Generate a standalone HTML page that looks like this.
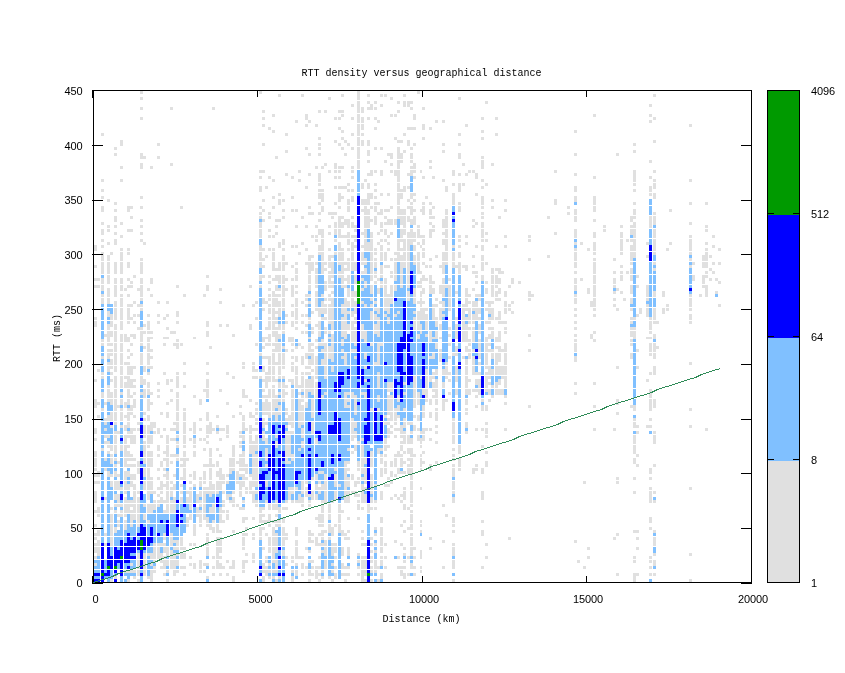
<!DOCTYPE html>
<html><head><meta charset="utf-8"><title>RTT density versus geographical distance</title>
<style>
html,body{margin:0;padding:0;background:#fff;}
svg{display:block}
text{font-family:"Liberation Mono","DejaVu Sans Mono",monospace;font-size:10px;fill:#000}
.n text{font-family:"Liberation Sans","DejaVu Sans",sans-serif;font-size:11px;letter-spacing:-0.12px}
</style></head><body>
<svg width="845" height="673" viewBox="0 0 845 673">
<rect width="845" height="673" fill="#fff"/>
<g shape-rendering="crispEdges">
<path fill="#e0e0e0" d="M94 563h3v3h-3zM94 556h3v3h-3zM94 550h3v3h-3zM94 547h3v3h-3zM94 543h3v3h-3zM94 537h3v3h-3zM94 533h3v3h-3zM94 524h3v3h-3zM94 510h3v3h-3zM94 500h3v3h-3zM94 497h3v3h-3zM94 494h3v3h-3zM94 491h3v3h-3zM94 481h3v3h-3zM94 474h3v3h-3zM94 468h3v3h-3zM94 464h3v3h-3zM94 461h3v3h-3zM94 458h3v3h-3zM94 454h3v3h-3zM94 451h3v3h-3zM94 438h3v3h-3zM94 431h3v3h-3zM94 428h3v3h-3zM94 405h3v3h-3zM94 402h3v3h-3zM94 399h3v3h-3zM94 379h3v3h-3zM94 324h3v3h-3zM94 321h3v3h-3zM94 317h3v3h-3zM94 285h3v3h-3zM94 278h3v3h-3zM94 265h3v3h-3zM94 248h3v3h-3zM94 245h3v3h-3zM97 553h3v3h-3zM97 550h3v3h-3zM97 547h3v3h-3zM97 543h3v3h-3zM97 540h3v3h-3zM97 533h3v3h-3zM97 530h3v3h-3zM97 514h3v3h-3zM97 510h3v3h-3zM97 507h3v3h-3zM97 481h3v3h-3zM97 474h3v3h-3zM97 471h3v3h-3zM97 415h3v3h-3zM97 402h3v3h-3zM97 369h3v3h-3zM97 285h3v3h-3zM97 278h3v3h-3zM101 448h3v3h-3zM101 408h3v3h-3zM101 395h3v3h-3zM101 392h3v3h-3zM101 376h3v3h-3zM101 372h3v3h-3zM101 356h3v3h-3zM101 343h3v3h-3zM101 339h3v3h-3zM101 301h3v3h-3zM101 298h3v3h-3zM101 294h3v3h-3zM101 288h3v3h-3zM101 285h3v3h-3zM101 281h3v3h-3zM101 278h3v3h-3zM101 271h3v3h-3zM101 268h3v3h-3zM101 265h3v3h-3zM101 262h3v3h-3zM101 258h3v3h-3zM101 255h3v3h-3zM101 252h3v3h-3zM101 245h3v3h-3zM101 239h3v3h-3zM101 232h3v3h-3zM101 229h3v3h-3zM101 222h3v3h-3zM101 209h3v3h-3zM101 206h3v3h-3zM101 196h3v3h-3zM101 189h3v3h-3zM101 179h3v3h-3zM101 133h3v3h-3zM104 543h3v3h-3zM104 533h3v3h-3zM104 497h3v3h-3zM104 468h3v3h-3zM104 458h3v3h-3zM104 441h3v3h-3zM104 435h3v3h-3zM104 428h3v3h-3zM104 422h3v3h-3zM104 418h3v3h-3zM104 402h3v3h-3zM104 334h3v3h-3zM107 474h3v3h-3zM107 471h3v3h-3zM107 451h3v3h-3zM107 445h3v3h-3zM107 441h3v3h-3zM107 435h3v3h-3zM107 418h3v3h-3zM107 415h3v3h-3zM107 399h3v3h-3zM107 395h3v3h-3zM107 392h3v3h-3zM107 389h3v3h-3zM107 385h3v3h-3zM107 369h3v3h-3zM107 366h3v3h-3zM107 362h3v3h-3zM107 356h3v3h-3zM107 353h3v3h-3zM107 349h3v3h-3zM107 343h3v3h-3zM107 339h3v3h-3zM107 337h3v2h-3zM107 334h3v3h-3zM107 331h3v3h-3zM107 327h3v3h-3zM107 324h3v3h-3zM107 314h3v3h-3zM107 311h3v3h-3zM107 301h3v3h-3zM107 298h3v3h-3zM107 294h3v3h-3zM107 291h3v3h-3zM107 288h3v3h-3zM107 281h3v3h-3zM107 278h3v3h-3zM107 275h3v3h-3zM107 271h3v3h-3zM107 268h3v3h-3zM107 265h3v3h-3zM107 262h3v3h-3zM107 258h3v3h-3zM107 255h3v3h-3zM107 242h3v3h-3zM107 229h3v3h-3zM107 225h3v3h-3zM107 199h3v3h-3zM110 579h3v3h-3zM110 543h3v3h-3zM110 540h3v3h-3zM110 537h3v3h-3zM110 533h3v3h-3zM110 530h3v3h-3zM110 527h3v3h-3zM110 524h3v3h-3zM110 520h3v3h-3zM110 517h3v3h-3zM110 514h3v3h-3zM110 507h3v3h-3zM110 484h3v3h-3zM110 481h3v3h-3zM110 474h3v3h-3zM110 461h3v3h-3zM110 458h3v3h-3zM110 454h3v3h-3zM110 448h3v3h-3zM110 445h3v3h-3zM110 425h3v3h-3zM110 418h3v3h-3zM110 415h3v3h-3zM110 412h3v3h-3zM110 402h3v3h-3zM110 399h3v3h-3zM110 395h3v3h-3zM110 392h3v3h-3zM110 379h3v3h-3zM110 372h3v3h-3zM110 366h3v3h-3zM110 362h3v3h-3zM110 359h3v3h-3zM110 353h3v3h-3zM110 349h3v3h-3zM110 343h3v3h-3zM110 334h3v3h-3zM110 331h3v3h-3zM110 324h3v3h-3zM110 321h3v3h-3zM110 317h3v3h-3zM110 314h3v3h-3zM110 252h3v3h-3zM114 576h3v3h-3zM114 530h3v3h-3zM114 527h3v3h-3zM114 510h3v3h-3zM114 504h3v3h-3zM114 497h3v3h-3zM114 494h3v3h-3zM114 487h3v3h-3zM114 484h3v3h-3zM114 481h3v3h-3zM114 474h3v3h-3zM114 471h3v3h-3zM114 464h3v3h-3zM114 458h3v3h-3zM114 451h3v3h-3zM114 448h3v3h-3zM114 445h3v3h-3zM114 441h3v3h-3zM114 438h3v3h-3zM114 435h3v3h-3zM114 431h3v3h-3zM114 422h3v3h-3zM114 418h3v3h-3zM114 415h3v3h-3zM114 412h3v3h-3zM114 408h3v3h-3zM114 405h3v3h-3zM114 402h3v3h-3zM114 399h3v3h-3zM114 395h3v3h-3zM114 392h3v3h-3zM114 389h3v3h-3zM114 385h3v3h-3zM114 382h3v3h-3zM114 379h3v3h-3zM114 376h3v3h-3zM114 369h3v3h-3zM114 366h3v3h-3zM114 362h3v3h-3zM114 359h3v3h-3zM114 356h3v3h-3zM114 353h3v3h-3zM114 349h3v3h-3zM114 346h3v3h-3zM114 343h3v3h-3zM114 339h3v3h-3zM114 337h3v2h-3zM114 334h3v3h-3zM114 331h3v3h-3zM114 327h3v3h-3zM114 324h3v3h-3zM114 317h3v3h-3zM114 314h3v3h-3zM114 311h3v3h-3zM114 308h3v3h-3zM114 304h3v3h-3zM114 301h3v3h-3zM114 294h3v3h-3zM114 291h3v3h-3zM114 288h3v3h-3zM114 285h3v3h-3zM114 281h3v3h-3zM114 278h3v3h-3zM114 271h3v3h-3zM114 268h3v3h-3zM114 265h3v3h-3zM114 262h3v3h-3zM114 242h3v3h-3zM114 239h3v3h-3zM114 232h3v3h-3zM114 225h3v3h-3zM114 219h3v3h-3zM114 216h3v3h-3zM114 209h3v3h-3zM114 202h3v3h-3zM114 153h3v3h-3zM114 147h3v3h-3zM117 524h3v3h-3zM117 520h3v3h-3zM117 514h3v3h-3zM117 504h3v3h-3zM117 500h3v3h-3zM117 497h3v3h-3zM117 494h3v3h-3zM117 487h3v3h-3zM117 484h3v3h-3zM117 481h3v3h-3zM117 474h3v3h-3zM117 461h3v3h-3zM117 431h3v3h-3zM117 405h3v3h-3zM120 514h3v3h-3zM120 510h3v3h-3zM120 504h3v3h-3zM120 487h3v3h-3zM120 448h3v3h-3zM120 445h3v3h-3zM120 425h3v3h-3zM120 418h3v3h-3zM120 415h3v3h-3zM120 412h3v3h-3zM120 408h3v3h-3zM120 402h3v3h-3zM120 399h3v3h-3zM120 392h3v3h-3zM120 385h3v3h-3zM120 382h3v3h-3zM120 379h3v3h-3zM120 376h3v3h-3zM120 372h3v3h-3zM120 369h3v3h-3zM120 366h3v3h-3zM120 362h3v3h-3zM120 359h3v3h-3zM120 356h3v3h-3zM120 353h3v3h-3zM120 349h3v3h-3zM120 346h3v3h-3zM120 343h3v3h-3zM120 339h3v3h-3zM120 337h3v2h-3zM120 334h3v3h-3zM120 327h3v3h-3zM120 324h3v3h-3zM120 321h3v3h-3zM120 317h3v3h-3zM120 314h3v3h-3zM120 311h3v3h-3zM120 308h3v3h-3zM120 304h3v3h-3zM120 301h3v3h-3zM120 298h3v3h-3zM120 294h3v3h-3zM120 288h3v3h-3zM120 285h3v3h-3zM120 281h3v3h-3zM120 278h3v3h-3zM120 271h3v3h-3zM120 268h3v3h-3zM120 265h3v3h-3zM120 262h3v3h-3zM120 258h3v3h-3zM120 255h3v3h-3zM120 252h3v3h-3zM120 248h3v3h-3zM120 235h3v3h-3zM120 222h3v3h-3zM120 179h3v3h-3zM120 166h3v3h-3zM120 143h3v3h-3zM120 140h3v3h-3zM124 570h3v3h-3zM124 527h3v3h-3zM124 524h3v3h-3zM124 520h3v3h-3zM124 514h3v3h-3zM124 510h3v3h-3zM124 507h3v3h-3zM124 504h3v3h-3zM124 500h3v3h-3zM124 497h3v3h-3zM124 491h3v3h-3zM124 487h3v3h-3zM124 484h3v3h-3zM124 481h3v3h-3zM124 477h3v3h-3zM124 474h3v3h-3zM124 471h3v3h-3zM124 464h3v3h-3zM124 461h3v3h-3zM124 458h3v3h-3zM124 454h3v3h-3zM124 451h3v3h-3zM124 448h3v3h-3zM124 445h3v3h-3zM124 441h3v3h-3zM124 438h3v3h-3zM124 435h3v3h-3zM124 428h3v3h-3zM124 425h3v3h-3zM124 415h3v3h-3zM124 405h3v3h-3zM124 402h3v3h-3zM124 385h3v3h-3zM124 382h3v3h-3zM124 376h3v3h-3zM124 362h3v3h-3zM124 339h3v3h-3zM124 337h3v2h-3zM124 334h3v3h-3zM124 288h3v3h-3zM127 579h3v3h-3zM127 570h3v3h-3zM127 510h3v3h-3zM127 507h3v3h-3zM127 504h3v3h-3zM127 500h3v3h-3zM127 487h3v3h-3zM127 484h3v3h-3zM127 474h3v3h-3zM127 471h3v3h-3zM127 464h3v3h-3zM127 458h3v3h-3zM127 454h3v3h-3zM127 451h3v3h-3zM127 445h3v3h-3zM127 435h3v3h-3zM127 431h3v3h-3zM127 425h3v3h-3zM127 422h3v3h-3zM127 418h3v3h-3zM127 415h3v3h-3zM127 412h3v3h-3zM127 408h3v3h-3zM127 402h3v3h-3zM127 399h3v3h-3zM127 395h3v3h-3zM127 392h3v3h-3zM127 389h3v3h-3zM127 385h3v3h-3zM127 382h3v3h-3zM127 379h3v3h-3zM127 376h3v3h-3zM127 372h3v3h-3zM127 369h3v3h-3zM127 366h3v3h-3zM127 362h3v3h-3zM127 356h3v3h-3zM127 349h3v3h-3zM127 339h3v3h-3zM127 337h3v2h-3zM127 321h3v3h-3zM127 317h3v3h-3zM127 314h3v3h-3zM127 311h3v3h-3zM127 308h3v3h-3zM127 304h3v3h-3zM127 294h3v3h-3zM127 285h3v3h-3zM127 278h3v3h-3zM127 265h3v3h-3zM127 262h3v3h-3zM127 252h3v3h-3zM127 248h3v3h-3zM127 229h3v3h-3zM127 209h3v3h-3zM127 206h3v3h-3zM130 570h3v3h-3zM130 563h3v3h-3zM130 524h3v3h-3zM130 520h3v3h-3zM130 517h3v3h-3zM130 514h3v3h-3zM130 510h3v3h-3zM130 504h3v3h-3zM130 500h3v3h-3zM130 484h3v3h-3zM130 481h3v3h-3zM130 477h3v3h-3zM130 474h3v3h-3zM130 464h3v3h-3zM130 458h3v3h-3zM130 454h3v3h-3zM130 441h3v3h-3zM130 438h3v3h-3zM130 435h3v3h-3zM130 431h3v3h-3zM130 428h3v3h-3zM130 412h3v3h-3zM130 408h3v3h-3zM130 405h3v3h-3zM130 395h3v3h-3zM130 385h3v3h-3zM130 382h3v3h-3zM130 379h3v3h-3zM130 372h3v3h-3zM130 369h3v3h-3zM130 366h3v3h-3zM130 353h3v3h-3zM130 343h3v3h-3zM130 334h3v3h-3zM130 317h3v3h-3zM130 304h3v3h-3zM130 285h3v3h-3zM130 281h3v3h-3zM130 229h3v3h-3zM130 216h3v3h-3zM130 206h3v3h-3zM133 576h3v3h-3zM133 570h3v3h-3zM133 517h3v3h-3zM133 514h3v3h-3zM133 510h3v3h-3zM133 507h3v3h-3zM133 504h3v3h-3zM133 500h3v3h-3zM133 497h3v3h-3zM133 494h3v3h-3zM133 491h3v3h-3zM133 487h3v3h-3zM133 484h3v3h-3zM133 477h3v3h-3zM133 474h3v3h-3zM133 464h3v3h-3zM133 458h3v3h-3zM133 441h3v3h-3zM133 438h3v3h-3zM133 435h3v3h-3zM133 428h3v3h-3zM133 415h3v3h-3zM133 405h3v3h-3zM133 402h3v3h-3zM133 399h3v3h-3zM133 392h3v3h-3zM133 385h3v3h-3zM133 379h3v3h-3zM133 366h3v3h-3zM133 337h3v2h-3zM133 334h3v3h-3zM133 321h3v3h-3zM133 314h3v3h-3zM133 301h3v3h-3zM133 275h3v3h-3zM137 579h3v3h-3zM137 573h3v3h-3zM137 570h3v3h-3zM137 566h3v3h-3zM137 563h3v3h-3zM137 560h3v3h-3zM137 556h3v3h-3zM137 553h3v3h-3zM137 524h3v3h-3zM137 520h3v3h-3zM137 517h3v3h-3zM137 514h3v3h-3zM137 510h3v3h-3zM137 507h3v3h-3zM137 504h3v3h-3zM137 500h3v3h-3zM137 497h3v3h-3zM137 491h3v3h-3zM137 471h3v3h-3zM137 468h3v3h-3zM137 464h3v3h-3zM137 461h3v3h-3zM137 428h3v3h-3zM137 422h3v3h-3zM137 327h3v3h-3zM137 314h3v3h-3zM137 304h3v3h-3zM137 288h3v3h-3zM140 392h3v3h-3zM140 382h3v3h-3zM140 379h3v3h-3zM140 376h3v3h-3zM140 362h3v3h-3zM140 359h3v3h-3zM140 356h3v3h-3zM140 353h3v3h-3zM140 343h3v3h-3zM140 339h3v3h-3zM140 337h3v2h-3zM140 334h3v3h-3zM140 331h3v3h-3zM140 327h3v3h-3zM140 308h3v3h-3zM140 304h3v3h-3zM140 298h3v3h-3zM140 294h3v3h-3zM140 291h3v3h-3zM140 288h3v3h-3zM140 285h3v3h-3zM140 281h3v3h-3zM140 278h3v3h-3zM140 271h3v3h-3zM140 268h3v3h-3zM140 265h3v3h-3zM140 262h3v3h-3zM140 258h3v3h-3zM140 239h3v3h-3zM140 232h3v3h-3zM140 225h3v3h-3zM140 219h3v3h-3zM140 206h3v3h-3zM140 196h3v3h-3zM140 166h3v3h-3zM140 163h3v3h-3zM140 156h3v3h-3zM140 153h3v3h-3zM140 117h3v3h-3zM140 107h3v3h-3zM140 97h3v3h-3zM140 91h3v3h-3zM143 573h3v3h-3zM143 570h3v3h-3zM143 566h3v3h-3zM143 563h3v3h-3zM143 560h3v3h-3zM143 556h3v3h-3zM143 553h3v3h-3zM143 517h3v3h-3zM143 514h3v3h-3zM143 504h3v3h-3zM143 487h3v3h-3zM143 484h3v3h-3zM143 481h3v3h-3zM143 474h3v3h-3zM143 471h3v3h-3zM143 468h3v3h-3zM143 461h3v3h-3zM143 458h3v3h-3zM143 454h3v3h-3zM143 451h3v3h-3zM143 448h3v3h-3zM143 445h3v3h-3zM143 441h3v3h-3zM143 435h3v3h-3zM143 431h3v3h-3zM143 428h3v3h-3zM143 425h3v3h-3zM143 418h3v3h-3zM143 412h3v3h-3zM143 395h3v3h-3zM143 392h3v3h-3zM143 389h3v3h-3zM143 382h3v3h-3zM143 379h3v3h-3zM143 369h3v3h-3zM143 366h3v3h-3zM143 346h3v3h-3zM143 331h3v3h-3zM143 324h3v3h-3zM143 242h3v3h-3zM143 156h3v3h-3zM147 576h3v3h-3zM147 553h3v3h-3zM147 520h3v3h-3zM147 510h3v3h-3zM147 507h3v3h-3zM147 504h3v3h-3zM147 497h3v3h-3zM147 494h3v3h-3zM147 491h3v3h-3zM147 487h3v3h-3zM147 484h3v3h-3zM147 481h3v3h-3zM147 477h3v3h-3zM147 474h3v3h-3zM147 471h3v3h-3zM147 468h3v3h-3zM147 464h3v3h-3zM147 461h3v3h-3zM147 458h3v3h-3zM147 454h3v3h-3zM147 451h3v3h-3zM147 445h3v3h-3zM147 441h3v3h-3zM147 438h3v3h-3zM147 435h3v3h-3zM147 431h3v3h-3zM147 428h3v3h-3zM147 425h3v3h-3zM147 418h3v3h-3zM147 415h3v3h-3zM147 408h3v3h-3zM147 405h3v3h-3zM147 402h3v3h-3zM147 399h3v3h-3zM147 392h3v3h-3zM147 389h3v3h-3zM147 385h3v3h-3zM147 382h3v3h-3zM147 372h3v3h-3zM147 366h3v3h-3zM147 362h3v3h-3zM147 359h3v3h-3zM147 356h3v3h-3zM147 353h3v3h-3zM147 349h3v3h-3zM147 346h3v3h-3zM147 343h3v3h-3zM147 339h3v3h-3zM147 337h3v2h-3zM147 331h3v3h-3zM147 327h3v3h-3zM147 324h3v3h-3zM147 321h3v3h-3zM147 314h3v3h-3zM147 288h3v3h-3zM150 579h3v3h-3zM150 576h3v3h-3zM150 573h3v3h-3zM150 570h3v3h-3zM150 563h3v3h-3zM150 556h3v3h-3zM150 553h3v3h-3zM150 510h3v3h-3zM150 507h3v3h-3zM150 504h3v3h-3zM150 491h3v3h-3zM150 487h3v3h-3zM150 484h3v3h-3zM150 481h3v3h-3zM150 477h3v3h-3zM150 464h3v3h-3zM150 461h3v3h-3zM150 458h3v3h-3zM150 454h3v3h-3zM150 451h3v3h-3zM150 441h3v3h-3zM150 438h3v3h-3zM150 435h3v3h-3zM150 428h3v3h-3zM150 425h3v3h-3zM150 422h3v3h-3zM150 402h3v3h-3zM150 392h3v3h-3zM150 366h3v3h-3zM150 356h3v3h-3zM150 349h3v3h-3zM150 337h3v2h-3zM150 331h3v3h-3zM150 294h3v3h-3zM150 281h3v3h-3zM150 278h3v3h-3zM150 166h3v3h-3zM153 570h3v3h-3zM153 566h3v3h-3zM153 560h3v3h-3zM153 556h3v3h-3zM153 553h3v3h-3zM153 550h3v3h-3zM153 547h3v3h-3zM153 543h3v3h-3zM153 507h3v3h-3zM153 504h3v3h-3zM153 500h3v3h-3zM153 491h3v3h-3zM153 431h3v3h-3zM153 425h3v3h-3zM153 422h3v3h-3zM157 556h3v3h-3zM157 553h3v3h-3zM157 550h3v3h-3zM157 547h3v3h-3zM157 543h3v3h-3zM157 504h3v3h-3zM157 500h3v3h-3zM157 494h3v3h-3zM157 487h3v3h-3zM157 477h3v3h-3zM157 468h3v3h-3zM157 454h3v3h-3zM157 448h3v3h-3zM157 445h3v3h-3zM157 431h3v3h-3zM157 428h3v3h-3zM157 395h3v3h-3zM157 389h3v3h-3zM157 382h3v3h-3zM157 321h3v3h-3zM157 314h3v3h-3zM157 301h3v3h-3zM157 156h3v3h-3zM157 143h3v3h-3zM160 566h3v3h-3zM160 560h3v3h-3zM160 556h3v3h-3zM160 553h3v3h-3zM160 543h3v3h-3zM160 500h3v3h-3zM160 497h3v3h-3zM160 491h3v3h-3zM160 487h3v3h-3zM160 484h3v3h-3zM160 481h3v3h-3zM160 464h3v3h-3zM160 461h3v3h-3zM160 435h3v3h-3zM160 412h3v3h-3zM163 573h3v3h-3zM163 566h3v3h-3zM163 563h3v3h-3zM163 560h3v3h-3zM163 556h3v3h-3zM163 550h3v3h-3zM163 547h3v3h-3zM163 543h3v3h-3zM163 537h3v3h-3zM163 533h3v3h-3zM163 510h3v3h-3zM163 500h3v3h-3zM163 484h3v3h-3zM163 474h3v3h-3zM163 468h3v3h-3zM163 458h3v3h-3zM163 451h3v3h-3zM163 428h3v3h-3zM163 372h3v3h-3zM163 343h3v3h-3zM163 337h3v2h-3zM163 317h3v3h-3zM166 579h3v3h-3zM166 570h3v3h-3zM166 563h3v3h-3zM166 560h3v3h-3zM166 553h3v3h-3zM166 550h3v3h-3zM166 547h3v3h-3zM166 510h3v3h-3zM166 507h3v3h-3zM166 504h3v3h-3zM166 500h3v3h-3zM166 497h3v3h-3zM166 494h3v3h-3zM166 491h3v3h-3zM166 487h3v3h-3zM166 484h3v3h-3zM166 481h3v3h-3zM166 477h3v3h-3zM166 474h3v3h-3zM166 471h3v3h-3zM166 464h3v3h-3zM166 461h3v3h-3zM166 458h3v3h-3zM166 454h3v3h-3zM166 451h3v3h-3zM166 448h3v3h-3zM166 445h3v3h-3zM166 441h3v3h-3zM166 438h3v3h-3zM166 435h3v3h-3zM166 415h3v3h-3zM166 412h3v3h-3zM166 402h3v3h-3zM166 382h3v3h-3zM166 379h3v3h-3zM166 337h3v2h-3zM166 327h3v3h-3zM166 314h3v3h-3zM166 301h3v3h-3zM170 566h3v3h-3zM170 563h3v3h-3zM170 560h3v3h-3zM170 556h3v3h-3zM170 553h3v3h-3zM170 550h3v3h-3zM170 543h3v3h-3zM170 540h3v3h-3zM170 537h3v3h-3zM170 533h3v3h-3zM170 510h3v3h-3zM170 507h3v3h-3zM170 504h3v3h-3zM170 500h3v3h-3zM170 494h3v3h-3zM170 491h3v3h-3zM170 487h3v3h-3zM170 481h3v3h-3zM170 461h3v3h-3zM170 454h3v3h-3zM170 438h3v3h-3zM170 428h3v3h-3zM170 399h3v3h-3zM170 389h3v3h-3zM170 379h3v3h-3zM170 331h3v3h-3zM170 163h3v3h-3zM170 107h3v3h-3zM173 573h3v3h-3zM173 570h3v3h-3zM173 566h3v3h-3zM173 563h3v3h-3zM173 560h3v3h-3zM173 556h3v3h-3zM173 553h3v3h-3zM173 547h3v3h-3zM173 540h3v3h-3zM173 510h3v3h-3zM173 507h3v3h-3zM173 504h3v3h-3zM173 500h3v3h-3zM173 497h3v3h-3zM173 487h3v3h-3zM173 484h3v3h-3zM173 474h3v3h-3zM173 454h3v3h-3zM173 438h3v3h-3zM173 428h3v3h-3zM173 422h3v3h-3zM173 343h3v3h-3zM173 331h3v3h-3zM176 570h3v3h-3zM176 563h3v3h-3zM176 560h3v3h-3zM176 553h3v3h-3zM176 547h3v3h-3zM176 543h3v3h-3zM176 540h3v3h-3zM176 458h3v3h-3zM176 454h3v3h-3zM176 445h3v3h-3zM176 441h3v3h-3zM176 435h3v3h-3zM176 428h3v3h-3zM176 425h3v3h-3zM176 422h3v3h-3zM176 418h3v3h-3zM176 415h3v3h-3zM176 412h3v3h-3zM176 408h3v3h-3zM176 405h3v3h-3zM176 402h3v3h-3zM176 399h3v3h-3zM176 395h3v3h-3zM176 392h3v3h-3zM176 385h3v3h-3zM176 382h3v3h-3zM176 379h3v3h-3zM176 376h3v3h-3zM176 372h3v3h-3zM176 346h3v3h-3zM176 343h3v3h-3zM176 339h3v3h-3zM176 321h3v3h-3zM176 314h3v3h-3zM176 311h3v3h-3zM176 285h3v3h-3zM180 566h3v3h-3zM180 556h3v3h-3zM180 553h3v3h-3zM180 547h3v3h-3zM180 543h3v3h-3zM180 540h3v3h-3zM180 537h3v3h-3zM180 500h3v3h-3zM180 497h3v3h-3zM180 491h3v3h-3zM180 484h3v3h-3zM180 477h3v3h-3zM180 464h3v3h-3zM180 458h3v3h-3zM180 343h3v3h-3zM180 206h3v3h-3zM183 573h3v3h-3zM183 566h3v3h-3zM183 556h3v3h-3zM183 553h3v3h-3zM183 547h3v3h-3zM183 477h3v3h-3zM183 474h3v3h-3zM183 471h3v3h-3zM183 468h3v3h-3zM183 464h3v3h-3zM183 461h3v3h-3zM183 458h3v3h-3zM183 454h3v3h-3zM183 451h3v3h-3zM183 445h3v3h-3zM183 441h3v3h-3zM183 438h3v3h-3zM183 435h3v3h-3zM183 431h3v3h-3zM183 428h3v3h-3zM183 425h3v3h-3zM183 422h3v3h-3zM183 418h3v3h-3zM183 415h3v3h-3zM183 412h3v3h-3zM183 408h3v3h-3zM183 385h3v3h-3zM183 372h3v3h-3zM183 362h3v3h-3zM183 294h3v3h-3zM186 524h3v3h-3zM186 520h3v3h-3zM186 517h3v3h-3zM186 500h3v3h-3zM186 497h3v3h-3zM186 491h3v3h-3zM186 458h3v3h-3zM189 563h3v3h-3zM189 556h3v3h-3zM189 543h3v3h-3zM189 517h3v3h-3zM189 514h3v3h-3zM189 507h3v3h-3zM189 504h3v3h-3zM189 500h3v3h-3zM189 497h3v3h-3zM189 494h3v3h-3zM189 491h3v3h-3zM189 487h3v3h-3zM189 481h3v3h-3zM189 474h3v3h-3zM189 438h3v3h-3zM189 428h3v3h-3zM193 566h3v3h-3zM193 563h3v3h-3zM193 543h3v3h-3zM193 533h3v3h-3zM193 530h3v3h-3zM193 527h3v3h-3zM193 524h3v3h-3zM193 484h3v3h-3zM193 477h3v3h-3zM193 474h3v3h-3zM193 471h3v3h-3zM193 454h3v3h-3zM193 451h3v3h-3zM193 445h3v3h-3zM193 441h3v3h-3zM193 438h3v3h-3zM193 431h3v3h-3zM193 428h3v3h-3zM193 425h3v3h-3zM193 422h3v3h-3zM193 395h3v3h-3zM193 337h3v2h-3zM196 514h3v3h-3zM196 510h3v3h-3zM196 507h3v3h-3zM196 500h3v3h-3zM196 497h3v3h-3zM196 494h3v3h-3zM199 570h3v3h-3zM199 566h3v3h-3zM199 563h3v3h-3zM199 560h3v3h-3zM199 524h3v3h-3zM199 520h3v3h-3zM199 517h3v3h-3zM199 514h3v3h-3zM199 510h3v3h-3zM199 504h3v3h-3zM199 500h3v3h-3zM199 494h3v3h-3zM199 491h3v3h-3zM199 484h3v3h-3zM199 481h3v3h-3zM199 477h3v3h-3zM199 438h3v3h-3zM199 428h3v3h-3zM199 418h3v3h-3zM199 402h3v3h-3zM199 399h3v3h-3zM203 570h3v3h-3zM203 563h3v3h-3zM203 517h3v3h-3zM203 514h3v3h-3zM203 510h3v3h-3zM203 507h3v3h-3zM203 504h3v3h-3zM203 500h3v3h-3zM203 497h3v3h-3zM203 494h3v3h-3zM203 491h3v3h-3zM203 487h3v3h-3zM203 481h3v3h-3zM203 477h3v3h-3zM203 474h3v3h-3zM203 471h3v3h-3zM203 464h3v3h-3zM203 448h3v3h-3zM203 438h3v3h-3zM203 389h3v3h-3zM203 294h3v3h-3zM206 576h3v3h-3zM206 563h3v3h-3zM206 553h3v3h-3zM206 550h3v3h-3zM206 547h3v3h-3zM206 543h3v3h-3zM206 540h3v3h-3zM206 537h3v3h-3zM206 533h3v3h-3zM206 524h3v3h-3zM206 520h3v3h-3zM206 517h3v3h-3zM206 491h3v3h-3zM206 487h3v3h-3zM206 464h3v3h-3zM206 441h3v3h-3zM206 435h3v3h-3zM206 431h3v3h-3zM206 428h3v3h-3zM206 425h3v3h-3zM206 418h3v3h-3zM206 415h3v3h-3zM206 412h3v3h-3zM206 395h3v3h-3zM206 392h3v3h-3zM206 389h3v3h-3zM206 385h3v3h-3zM206 382h3v3h-3zM206 379h3v3h-3zM206 372h3v3h-3zM206 362h3v3h-3zM206 334h3v3h-3zM206 331h3v3h-3zM206 324h3v3h-3zM206 321h3v3h-3zM206 288h3v3h-3zM206 285h3v3h-3zM206 275h3v3h-3zM209 527h3v3h-3zM209 524h3v3h-3zM209 510h3v3h-3zM209 507h3v3h-3zM209 494h3v3h-3zM209 491h3v3h-3zM209 487h3v3h-3zM209 484h3v3h-3zM209 481h3v3h-3zM209 477h3v3h-3zM209 474h3v3h-3zM209 471h3v3h-3zM209 468h3v3h-3zM209 464h3v3h-3zM209 461h3v3h-3zM209 458h3v3h-3zM209 454h3v3h-3zM209 451h3v3h-3zM209 448h3v3h-3zM209 431h3v3h-3zM209 428h3v3h-3zM209 425h3v3h-3zM209 422h3v3h-3zM209 346h3v3h-3zM212 573h3v3h-3zM212 566h3v3h-3zM212 556h3v3h-3zM212 530h3v3h-3zM212 527h3v3h-3zM212 520h3v3h-3zM212 510h3v3h-3zM212 507h3v3h-3zM212 504h3v3h-3zM212 491h3v3h-3zM212 487h3v3h-3zM212 484h3v3h-3zM212 464h3v3h-3zM212 428h3v3h-3zM212 107h3v3h-3zM216 566h3v3h-3zM216 563h3v3h-3zM216 560h3v3h-3zM216 556h3v3h-3zM216 553h3v3h-3zM216 550h3v3h-3zM216 547h3v3h-3zM216 543h3v3h-3zM216 540h3v3h-3zM216 537h3v3h-3zM216 530h3v3h-3zM216 527h3v3h-3zM216 524h3v3h-3zM216 491h3v3h-3zM216 487h3v3h-3zM216 484h3v3h-3zM216 481h3v3h-3zM216 474h3v3h-3zM216 471h3v3h-3zM216 464h3v3h-3zM216 461h3v3h-3zM216 448h3v3h-3zM216 431h3v3h-3zM216 425h3v3h-3zM216 415h3v3h-3zM219 573h3v3h-3zM219 566h3v3h-3zM219 563h3v3h-3zM219 556h3v3h-3zM219 550h3v3h-3zM219 547h3v3h-3zM219 543h3v3h-3zM219 540h3v3h-3zM219 537h3v3h-3zM219 530h3v3h-3zM219 520h3v3h-3zM219 517h3v3h-3zM219 514h3v3h-3zM219 510h3v3h-3zM219 507h3v3h-3zM219 487h3v3h-3zM219 484h3v3h-3zM219 481h3v3h-3zM219 477h3v3h-3zM219 474h3v3h-3zM219 471h3v3h-3zM219 468h3v3h-3zM219 454h3v3h-3zM219 438h3v3h-3zM219 428h3v3h-3zM219 389h3v3h-3zM219 324h3v3h-3zM219 301h3v3h-3zM219 288h3v3h-3zM222 566h3v3h-3zM222 520h3v3h-3zM222 510h3v3h-3zM222 504h3v3h-3zM222 500h3v3h-3zM222 491h3v3h-3zM222 481h3v3h-3zM222 477h3v3h-3zM222 474h3v3h-3zM222 428h3v3h-3zM226 573h3v3h-3zM226 560h3v3h-3zM226 517h3v3h-3zM226 514h3v3h-3zM226 510h3v3h-3zM226 497h3v3h-3zM226 494h3v3h-3zM226 481h3v3h-3zM226 474h3v3h-3zM226 435h3v3h-3zM226 431h3v3h-3zM226 428h3v3h-3zM226 425h3v3h-3zM226 402h3v3h-3zM226 372h3v3h-3zM226 324h3v3h-3zM229 566h3v3h-3zM229 500h3v3h-3zM229 494h3v3h-3zM229 471h3v3h-3zM229 468h3v3h-3zM229 464h3v3h-3zM229 461h3v3h-3zM229 458h3v3h-3zM232 579h3v3h-3zM232 576h3v3h-3zM232 566h3v3h-3zM232 563h3v3h-3zM232 560h3v3h-3zM232 530h3v3h-3zM232 504h3v3h-3zM232 500h3v3h-3zM232 497h3v3h-3zM232 491h3v3h-3zM232 468h3v3h-3zM232 464h3v3h-3zM232 461h3v3h-3zM232 458h3v3h-3zM232 454h3v3h-3zM232 451h3v3h-3zM232 448h3v3h-3zM232 445h3v3h-3zM232 415h3v3h-3zM232 376h3v3h-3zM232 334h3v3h-3zM236 504h3v3h-3zM236 481h3v3h-3zM236 477h3v3h-3zM236 474h3v3h-3zM236 471h3v3h-3zM236 461h3v3h-3zM239 507h3v3h-3zM239 494h3v3h-3zM239 491h3v3h-3zM239 487h3v3h-3zM239 484h3v3h-3zM239 481h3v3h-3zM239 474h3v3h-3zM239 468h3v3h-3zM239 464h3v3h-3zM239 461h3v3h-3zM239 458h3v3h-3zM239 454h3v3h-3zM239 445h3v3h-3zM239 441h3v3h-3zM239 435h3v3h-3zM239 431h3v3h-3zM239 412h3v3h-3zM239 405h3v3h-3zM242 570h3v3h-3zM242 566h3v3h-3zM242 563h3v3h-3zM242 560h3v3h-3zM242 547h3v3h-3zM242 543h3v3h-3zM242 540h3v3h-3zM242 537h3v3h-3zM242 533h3v3h-3zM242 520h3v3h-3zM242 517h3v3h-3zM242 507h3v3h-3zM242 500h3v3h-3zM242 484h3v3h-3zM242 481h3v3h-3zM242 477h3v3h-3zM242 474h3v3h-3zM242 468h3v3h-3zM242 464h3v3h-3zM242 461h3v3h-3zM242 458h3v3h-3zM242 454h3v3h-3zM242 451h3v3h-3zM242 438h3v3h-3zM242 435h3v3h-3zM242 428h3v3h-3zM242 425h3v3h-3zM242 422h3v3h-3zM242 418h3v3h-3zM242 415h3v3h-3zM242 395h3v3h-3zM242 392h3v3h-3zM242 389h3v3h-3zM242 366h3v3h-3zM242 362h3v3h-3zM242 304h3v3h-3zM245 560h3v3h-3zM245 553h3v3h-3zM245 533h3v3h-3zM245 527h3v3h-3zM245 517h3v3h-3zM245 491h3v3h-3zM245 487h3v3h-3zM245 477h3v3h-3zM245 471h3v3h-3zM245 468h3v3h-3zM245 464h3v3h-3zM245 428h3v3h-3zM245 395h3v3h-3zM249 491h3v3h-3zM249 487h3v3h-3zM249 484h3v3h-3zM249 481h3v3h-3zM249 474h3v3h-3zM249 451h3v3h-3zM249 448h3v3h-3zM249 445h3v3h-3zM249 441h3v3h-3zM249 438h3v3h-3zM249 435h3v3h-3zM249 431h3v3h-3zM249 428h3v3h-3zM249 425h3v3h-3zM249 415h3v3h-3zM249 412h3v3h-3zM249 399h3v3h-3zM249 327h3v3h-3zM249 324h3v3h-3zM249 285h3v3h-3zM252 560h3v3h-3zM252 556h3v3h-3zM252 553h3v3h-3zM252 537h3v3h-3zM252 533h3v3h-3zM252 517h3v3h-3zM252 500h3v3h-3zM252 497h3v3h-3zM252 494h3v3h-3zM252 491h3v3h-3zM252 484h3v3h-3zM252 481h3v3h-3zM252 477h3v3h-3zM252 474h3v3h-3zM252 471h3v3h-3zM252 468h3v3h-3zM252 464h3v3h-3zM252 461h3v3h-3zM252 458h3v3h-3zM252 454h3v3h-3zM252 451h3v3h-3zM252 448h3v3h-3zM252 445h3v3h-3zM252 441h3v3h-3zM252 428h3v3h-3zM252 415h3v3h-3zM252 376h3v3h-3zM252 369h3v3h-3zM252 366h3v3h-3zM252 362h3v3h-3zM252 304h3v3h-3zM255 504h3v3h-3zM255 500h3v3h-3zM255 491h3v3h-3zM255 484h3v3h-3zM255 481h3v3h-3zM255 477h3v3h-3zM255 474h3v3h-3zM255 471h3v3h-3zM255 468h3v3h-3zM255 464h3v3h-3zM255 461h3v3h-3zM255 458h3v3h-3zM255 454h3v3h-3zM255 448h3v3h-3zM255 445h3v3h-3zM255 441h3v3h-3zM255 438h3v3h-3zM255 435h3v3h-3zM255 428h3v3h-3zM255 422h3v3h-3zM255 418h3v3h-3zM255 412h3v3h-3zM255 408h3v3h-3zM255 402h3v3h-3zM255 376h3v3h-3zM255 369h3v3h-3zM255 343h3v3h-3zM255 317h3v3h-3zM255 301h3v3h-3zM259 537h3v3h-3zM259 533h3v3h-3zM259 530h3v3h-3zM259 527h3v3h-3zM259 520h3v3h-3zM259 517h3v3h-3zM259 514h3v3h-3zM259 510h3v3h-3zM259 507h3v3h-3zM259 376h3v3h-3zM259 353h3v3h-3zM259 285h3v3h-3zM259 278h3v3h-3zM259 275h3v3h-3zM259 265h3v3h-3zM259 262h3v3h-3zM259 258h3v3h-3zM259 255h3v3h-3zM259 252h3v3h-3zM259 248h3v3h-3zM259 245h3v3h-3zM259 235h3v3h-3zM259 232h3v3h-3zM259 229h3v3h-3zM259 225h3v3h-3zM259 222h3v3h-3zM259 216h3v3h-3zM259 212h3v3h-3zM259 206h3v3h-3zM259 189h3v3h-3zM259 186h3v3h-3zM259 176h3v3h-3zM259 170h3v3h-3zM259 91h3v3h-3zM262 579h3v3h-3zM262 576h3v3h-3zM262 570h3v3h-3zM262 566h3v3h-3zM262 563h3v3h-3zM262 547h3v3h-3zM262 527h3v3h-3zM262 520h3v3h-3zM262 514h3v3h-3zM262 507h3v3h-3zM262 438h3v3h-3zM262 435h3v3h-3zM262 431h3v3h-3zM262 425h3v3h-3zM262 422h3v3h-3zM262 418h3v3h-3zM262 412h3v3h-3zM262 408h3v3h-3zM262 405h3v3h-3zM262 402h3v3h-3zM262 395h3v3h-3zM262 389h3v3h-3zM262 379h3v3h-3zM262 369h3v3h-3zM262 366h3v3h-3zM262 356h3v3h-3zM262 346h3v3h-3zM262 339h3v3h-3zM262 337h3v2h-3zM262 308h3v3h-3zM262 301h3v3h-3zM262 298h3v3h-3zM262 275h3v3h-3zM262 265h3v3h-3zM262 258h3v3h-3zM262 248h3v3h-3zM262 219h3v3h-3zM262 209h3v3h-3zM262 199h3v3h-3zM262 170h3v3h-3zM262 143h3v3h-3zM262 124h3v3h-3zM262 117h3v3h-3zM262 110h3v3h-3zM265 573h3v3h-3zM265 570h3v3h-3zM265 566h3v3h-3zM265 560h3v3h-3zM265 556h3v3h-3zM265 533h3v3h-3zM265 520h3v3h-3zM265 500h3v3h-3zM265 484h3v3h-3zM265 481h3v3h-3zM265 464h3v3h-3zM265 458h3v3h-3zM265 454h3v3h-3zM265 451h3v3h-3zM265 448h3v3h-3zM265 441h3v3h-3zM265 438h3v3h-3zM265 422h3v3h-3zM265 412h3v3h-3zM265 408h3v3h-3zM265 405h3v3h-3zM265 402h3v3h-3zM265 399h3v3h-3zM265 395h3v3h-3zM265 385h3v3h-3zM265 382h3v3h-3zM265 379h3v3h-3zM265 376h3v3h-3zM265 372h3v3h-3zM265 356h3v3h-3zM265 343h3v3h-3zM265 337h3v2h-3zM265 327h3v3h-3zM265 301h3v3h-3zM265 255h3v3h-3zM265 186h3v3h-3zM268 576h3v3h-3zM268 570h3v3h-3zM268 563h3v3h-3zM268 550h3v3h-3zM268 547h3v3h-3zM268 543h3v3h-3zM268 540h3v3h-3zM268 537h3v3h-3zM268 524h3v3h-3zM268 520h3v3h-3zM268 517h3v3h-3zM268 514h3v3h-3zM268 507h3v3h-3zM268 504h3v3h-3zM268 415h3v3h-3zM268 412h3v3h-3zM268 408h3v3h-3zM268 405h3v3h-3zM268 402h3v3h-3zM268 395h3v3h-3zM268 392h3v3h-3zM268 389h3v3h-3zM268 379h3v3h-3zM268 376h3v3h-3zM268 372h3v3h-3zM268 369h3v3h-3zM268 366h3v3h-3zM268 362h3v3h-3zM268 359h3v3h-3zM268 356h3v3h-3zM268 343h3v3h-3zM268 339h3v3h-3zM268 337h3v2h-3zM268 334h3v3h-3zM268 327h3v3h-3zM268 324h3v3h-3zM268 321h3v3h-3zM268 317h3v3h-3zM268 311h3v3h-3zM268 308h3v3h-3zM268 304h3v3h-3zM268 298h3v3h-3zM268 294h3v3h-3zM268 288h3v3h-3zM268 281h3v3h-3zM268 275h3v3h-3zM268 248h3v3h-3zM268 235h3v3h-3zM268 229h3v3h-3zM268 216h3v3h-3zM268 212h3v3h-3zM268 176h3v3h-3zM268 127h3v3h-3zM272 576h3v3h-3zM272 570h3v3h-3zM272 560h3v3h-3zM272 556h3v3h-3zM272 553h3v3h-3zM272 550h3v3h-3zM272 547h3v3h-3zM272 543h3v3h-3zM272 540h3v3h-3zM272 537h3v3h-3zM272 533h3v3h-3zM272 530h3v3h-3zM272 527h3v3h-3zM272 520h3v3h-3zM272 507h3v3h-3zM272 504h3v3h-3zM272 412h3v3h-3zM272 408h3v3h-3zM272 405h3v3h-3zM272 402h3v3h-3zM272 399h3v3h-3zM272 395h3v3h-3zM272 392h3v3h-3zM272 389h3v3h-3zM272 385h3v3h-3zM272 379h3v3h-3zM272 376h3v3h-3zM272 372h3v3h-3zM272 369h3v3h-3zM272 366h3v3h-3zM272 362h3v3h-3zM272 359h3v3h-3zM272 356h3v3h-3zM272 353h3v3h-3zM272 349h3v3h-3zM272 343h3v3h-3zM272 334h3v3h-3zM272 331h3v3h-3zM272 327h3v3h-3zM272 324h3v3h-3zM272 321h3v3h-3zM272 317h3v3h-3zM272 314h3v3h-3zM272 311h3v3h-3zM272 308h3v3h-3zM272 304h3v3h-3zM272 301h3v3h-3zM272 298h3v3h-3zM272 294h3v3h-3zM272 291h3v3h-3zM272 278h3v3h-3zM272 268h3v3h-3zM272 265h3v3h-3zM272 262h3v3h-3zM272 258h3v3h-3zM272 255h3v3h-3zM272 252h3v3h-3zM272 248h3v3h-3zM272 235h3v3h-3zM272 206h3v3h-3zM272 196h3v3h-3zM272 179h3v3h-3zM272 130h3v3h-3zM272 114h3v3h-3zM275 579h3v3h-3zM275 570h3v3h-3zM275 566h3v3h-3zM275 563h3v3h-3zM275 560h3v3h-3zM275 550h3v3h-3zM275 547h3v3h-3zM275 543h3v3h-3zM275 540h3v3h-3zM275 537h3v3h-3zM275 533h3v3h-3zM275 524h3v3h-3zM275 520h3v3h-3zM275 514h3v3h-3zM275 507h3v3h-3zM275 504h3v3h-3zM275 500h3v3h-3zM275 445h3v3h-3zM275 441h3v3h-3zM275 435h3v3h-3zM275 418h3v3h-3zM275 415h3v3h-3zM275 412h3v3h-3zM275 405h3v3h-3zM275 402h3v3h-3zM275 399h3v3h-3zM275 395h3v3h-3zM275 379h3v3h-3zM275 362h3v3h-3zM275 349h3v3h-3zM275 346h3v3h-3zM275 343h3v3h-3zM275 339h3v3h-3zM275 337h3v2h-3zM275 334h3v3h-3zM275 331h3v3h-3zM275 327h3v3h-3zM275 321h3v3h-3zM275 317h3v3h-3zM275 311h3v3h-3zM275 304h3v3h-3zM275 301h3v3h-3zM275 298h3v3h-3zM275 294h3v3h-3zM275 288h3v3h-3zM275 285h3v3h-3zM275 278h3v3h-3zM275 275h3v3h-3zM275 268h3v3h-3zM275 232h3v3h-3zM275 225h3v3h-3zM275 219h3v3h-3zM275 156h3v3h-3zM278 576h3v3h-3zM278 524h3v3h-3zM278 520h3v3h-3zM278 510h3v3h-3zM278 507h3v3h-3zM278 412h3v3h-3zM278 408h3v3h-3zM278 405h3v3h-3zM278 399h3v3h-3zM278 392h3v3h-3zM278 385h3v3h-3zM278 382h3v3h-3zM278 376h3v3h-3zM278 372h3v3h-3zM278 369h3v3h-3zM278 366h3v3h-3zM278 362h3v3h-3zM278 359h3v3h-3zM278 356h3v3h-3zM278 353h3v3h-3zM278 349h3v3h-3zM278 346h3v3h-3zM278 343h3v3h-3zM278 337h3v2h-3zM278 334h3v3h-3zM278 327h3v3h-3zM278 324h3v3h-3zM278 314h3v3h-3zM278 311h3v3h-3zM278 308h3v3h-3zM278 304h3v3h-3zM278 301h3v3h-3zM278 294h3v3h-3zM278 288h3v3h-3zM278 281h3v3h-3zM278 278h3v3h-3zM278 275h3v3h-3zM278 268h3v3h-3zM278 265h3v3h-3zM278 262h3v3h-3zM278 245h3v3h-3zM278 242h3v3h-3zM278 219h3v3h-3zM278 202h3v3h-3zM278 199h3v3h-3zM278 193h3v3h-3zM278 94h3v3h-3zM282 553h3v3h-3zM282 550h3v3h-3zM282 543h3v3h-3zM282 540h3v3h-3zM282 537h3v3h-3zM282 533h3v3h-3zM282 530h3v3h-3zM282 527h3v3h-3zM282 520h3v3h-3zM282 517h3v3h-3zM282 507h3v3h-3zM282 399h3v3h-3zM282 395h3v3h-3zM282 392h3v3h-3zM282 389h3v3h-3zM282 385h3v3h-3zM282 382h3v3h-3zM282 376h3v3h-3zM282 366h3v3h-3zM282 362h3v3h-3zM282 359h3v3h-3zM282 356h3v3h-3zM282 353h3v3h-3zM282 346h3v3h-3zM282 331h3v3h-3zM282 327h3v3h-3zM282 324h3v3h-3zM282 308h3v3h-3zM282 304h3v3h-3zM282 301h3v3h-3zM282 298h3v3h-3zM282 294h3v3h-3zM282 291h3v3h-3zM282 288h3v3h-3zM282 285h3v3h-3zM282 281h3v3h-3zM282 278h3v3h-3zM282 275h3v3h-3zM282 268h3v3h-3zM282 265h3v3h-3zM282 262h3v3h-3zM282 258h3v3h-3zM282 255h3v3h-3zM282 248h3v3h-3zM282 242h3v3h-3zM282 239h3v3h-3zM282 216h3v3h-3zM282 209h3v3h-3zM282 199h3v3h-3zM285 563h3v3h-3zM285 556h3v3h-3zM285 537h3v3h-3zM285 533h3v3h-3zM285 507h3v3h-3zM285 500h3v3h-3zM285 461h3v3h-3zM285 458h3v3h-3zM285 454h3v3h-3zM285 451h3v3h-3zM285 448h3v3h-3zM285 445h3v3h-3zM285 441h3v3h-3zM285 438h3v3h-3zM285 435h3v3h-3zM285 431h3v3h-3zM285 425h3v3h-3zM285 418h3v3h-3zM285 412h3v3h-3zM285 408h3v3h-3zM285 392h3v3h-3zM285 385h3v3h-3zM285 349h3v3h-3zM285 321h3v3h-3zM285 314h3v3h-3zM285 288h3v3h-3zM285 278h3v3h-3zM285 262h3v3h-3zM285 173h3v3h-3zM285 150h3v3h-3zM285 133h3v3h-3zM288 497h3v3h-3zM288 494h3v3h-3zM288 491h3v3h-3zM288 487h3v3h-3zM288 461h3v3h-3zM288 454h3v3h-3zM288 451h3v3h-3zM288 448h3v3h-3zM288 445h3v3h-3zM288 441h3v3h-3zM288 438h3v3h-3zM288 435h3v3h-3zM288 431h3v3h-3zM288 422h3v3h-3zM288 418h3v3h-3zM288 415h3v3h-3zM288 379h3v3h-3zM288 339h3v3h-3zM288 337h3v2h-3zM291 579h3v3h-3zM291 576h3v3h-3zM291 570h3v3h-3zM291 560h3v3h-3zM291 556h3v3h-3zM291 500h3v3h-3zM291 491h3v3h-3zM291 487h3v3h-3zM291 458h3v3h-3zM291 454h3v3h-3zM291 431h3v3h-3zM291 425h3v3h-3zM291 422h3v3h-3zM291 418h3v3h-3zM291 415h3v3h-3zM291 412h3v3h-3zM291 408h3v3h-3zM291 405h3v3h-3zM291 402h3v3h-3zM291 399h3v3h-3zM291 395h3v3h-3zM291 392h3v3h-3zM291 389h3v3h-3zM291 382h3v3h-3zM291 379h3v3h-3zM291 369h3v3h-3zM291 366h3v3h-3zM291 362h3v3h-3zM291 356h3v3h-3zM291 349h3v3h-3zM291 343h3v3h-3zM291 339h3v3h-3zM291 337h3v2h-3zM291 324h3v3h-3zM291 321h3v3h-3zM291 314h3v3h-3zM291 311h3v3h-3zM291 304h3v3h-3zM291 294h3v3h-3zM291 291h3v3h-3zM291 288h3v3h-3zM291 285h3v3h-3zM291 278h3v3h-3zM291 265h3v3h-3zM291 245h3v3h-3zM291 209h3v3h-3zM291 196h3v3h-3zM291 176h3v3h-3zM295 573h3v3h-3zM295 570h3v3h-3zM295 563h3v3h-3zM295 556h3v3h-3zM295 553h3v3h-3zM295 550h3v3h-3zM295 547h3v3h-3zM295 543h3v3h-3zM295 540h3v3h-3zM295 533h3v3h-3zM295 530h3v3h-3zM295 527h3v3h-3zM295 500h3v3h-3zM295 487h3v3h-3zM295 385h3v3h-3zM295 382h3v3h-3zM295 379h3v3h-3zM295 376h3v3h-3zM295 372h3v3h-3zM295 369h3v3h-3zM295 366h3v3h-3zM295 359h3v3h-3zM295 356h3v3h-3zM295 346h3v3h-3zM295 327h3v3h-3zM295 321h3v3h-3zM295 317h3v3h-3zM295 314h3v3h-3zM295 311h3v3h-3zM295 308h3v3h-3zM295 304h3v3h-3zM295 301h3v3h-3zM295 298h3v3h-3zM295 291h3v3h-3zM295 285h3v3h-3zM295 278h3v3h-3zM295 275h3v3h-3zM295 271h3v3h-3zM295 268h3v3h-3zM295 262h3v3h-3zM295 245h3v3h-3zM295 225h3v3h-3zM295 209h3v3h-3zM295 120h3v3h-3zM298 556h3v3h-3zM298 500h3v3h-3zM298 497h3v3h-3zM298 494h3v3h-3zM298 448h3v3h-3zM298 425h3v3h-3zM298 422h3v3h-3zM298 418h3v3h-3zM298 415h3v3h-3zM298 412h3v3h-3zM298 408h3v3h-3zM298 405h3v3h-3zM298 402h3v3h-3zM298 399h3v3h-3zM298 392h3v3h-3zM298 385h3v3h-3zM298 343h3v3h-3zM298 252h3v3h-3zM298 179h3v3h-3zM298 170h3v3h-3zM301 573h3v3h-3zM301 566h3v3h-3zM301 563h3v3h-3zM301 556h3v3h-3zM301 504h3v3h-3zM301 500h3v3h-3zM301 497h3v3h-3zM301 491h3v3h-3zM301 487h3v3h-3zM301 484h3v3h-3zM301 481h3v3h-3zM301 445h3v3h-3zM301 441h3v3h-3zM301 435h3v3h-3zM301 431h3v3h-3zM301 428h3v3h-3zM301 422h3v3h-3zM301 418h3v3h-3zM301 415h3v3h-3zM301 412h3v3h-3zM301 408h3v3h-3zM301 405h3v3h-3zM301 399h3v3h-3zM301 395h3v3h-3zM301 389h3v3h-3zM301 385h3v3h-3zM301 382h3v3h-3zM301 379h3v3h-3zM301 376h3v3h-3zM301 372h3v3h-3zM301 362h3v3h-3zM301 359h3v3h-3zM301 356h3v3h-3zM301 346h3v3h-3zM301 331h3v3h-3zM301 321h3v3h-3zM301 314h3v3h-3zM301 301h3v3h-3zM301 242h3v3h-3zM301 216h3v3h-3zM301 94h3v3h-3zM305 566h3v3h-3zM305 547h3v3h-3zM305 494h3v3h-3zM305 491h3v3h-3zM305 487h3v3h-3zM305 481h3v3h-3zM305 405h3v3h-3zM305 402h3v3h-3zM305 395h3v3h-3zM305 392h3v3h-3zM305 389h3v3h-3zM305 385h3v3h-3zM305 382h3v3h-3zM305 379h3v3h-3zM305 372h3v3h-3zM305 366h3v3h-3zM305 356h3v3h-3zM305 353h3v3h-3zM305 331h3v3h-3zM305 324h3v3h-3zM305 314h3v3h-3zM305 304h3v3h-3zM305 298h3v3h-3zM305 294h3v3h-3zM305 262h3v3h-3zM305 248h3v3h-3zM305 225h3v3h-3zM305 186h3v3h-3zM305 147h3v3h-3zM305 124h3v3h-3zM305 117h3v3h-3zM305 114h3v3h-3zM308 579h3v3h-3zM308 573h3v3h-3zM308 570h3v3h-3zM308 560h3v3h-3zM308 550h3v3h-3zM308 540h3v3h-3zM308 537h3v3h-3zM308 533h3v3h-3zM308 530h3v3h-3zM308 504h3v3h-3zM308 500h3v3h-3zM308 494h3v3h-3zM308 389h3v3h-3zM308 385h3v3h-3zM308 382h3v3h-3zM308 379h3v3h-3zM308 372h3v3h-3zM308 366h3v3h-3zM308 362h3v3h-3zM308 359h3v3h-3zM308 353h3v3h-3zM308 349h3v3h-3zM308 346h3v3h-3zM308 343h3v3h-3zM308 337h3v2h-3zM308 321h3v3h-3zM308 317h3v3h-3zM308 301h3v3h-3zM308 294h3v3h-3zM308 288h3v3h-3zM308 285h3v3h-3zM308 281h3v3h-3zM308 278h3v3h-3zM308 275h3v3h-3zM308 271h3v3h-3zM308 268h3v3h-3zM308 265h3v3h-3zM308 262h3v3h-3zM308 258h3v3h-3zM308 255h3v3h-3zM308 212h3v3h-3zM308 206h3v3h-3zM308 173h3v3h-3zM308 153h3v3h-3zM308 120h3v3h-3zM311 573h3v3h-3zM311 566h3v3h-3zM311 560h3v3h-3zM311 540h3v3h-3zM311 533h3v3h-3zM311 497h3v3h-3zM311 494h3v3h-3zM311 491h3v3h-3zM311 477h3v3h-3zM311 431h3v3h-3zM311 428h3v3h-3zM311 425h3v3h-3zM311 422h3v3h-3zM311 415h3v3h-3zM311 412h3v3h-3zM311 408h3v3h-3zM311 405h3v3h-3zM311 402h3v3h-3zM311 399h3v3h-3zM311 392h3v3h-3zM311 389h3v3h-3zM311 385h3v3h-3zM311 382h3v3h-3zM311 379h3v3h-3zM311 376h3v3h-3zM311 369h3v3h-3zM311 362h3v3h-3zM311 359h3v3h-3zM311 356h3v3h-3zM311 353h3v3h-3zM311 349h3v3h-3zM311 343h3v3h-3zM311 331h3v3h-3zM311 327h3v3h-3zM311 311h3v3h-3zM311 268h3v3h-3zM311 265h3v3h-3zM311 262h3v3h-3zM311 255h3v3h-3zM311 235h3v3h-3zM311 212h3v3h-3zM315 576h3v3h-3zM315 573h3v3h-3zM315 570h3v3h-3zM315 566h3v3h-3zM315 543h3v3h-3zM315 540h3v3h-3zM315 537h3v3h-3zM315 517h3v3h-3zM315 497h3v3h-3zM315 494h3v3h-3zM315 487h3v3h-3zM315 484h3v3h-3zM315 477h3v3h-3zM315 474h3v3h-3zM315 441h3v3h-3zM315 438h3v3h-3zM315 395h3v3h-3zM315 392h3v3h-3zM315 389h3v3h-3zM315 385h3v3h-3zM315 382h3v3h-3zM315 376h3v3h-3zM315 372h3v3h-3zM315 369h3v3h-3zM315 366h3v3h-3zM315 362h3v3h-3zM315 359h3v3h-3zM315 356h3v3h-3zM315 346h3v3h-3zM315 339h3v3h-3zM315 324h3v3h-3zM315 308h3v3h-3zM315 304h3v3h-3zM315 301h3v3h-3zM315 298h3v3h-3zM315 294h3v3h-3zM315 291h3v3h-3zM315 285h3v3h-3zM315 281h3v3h-3zM315 278h3v3h-3zM315 275h3v3h-3zM315 271h3v3h-3zM315 268h3v3h-3zM315 262h3v3h-3zM315 239h3v3h-3zM315 235h3v3h-3zM315 225h3v3h-3zM315 166h3v3h-3zM315 124h3v3h-3zM318 579h3v3h-3zM318 573h3v3h-3zM318 566h3v3h-3zM318 556h3v3h-3zM318 543h3v3h-3zM318 533h3v3h-3zM318 524h3v3h-3zM318 520h3v3h-3zM318 517h3v3h-3zM318 514h3v3h-3zM318 491h3v3h-3zM318 487h3v3h-3zM318 481h3v3h-3zM318 471h3v3h-3zM318 343h3v3h-3zM318 334h3v3h-3zM318 331h3v3h-3zM318 327h3v3h-3zM318 324h3v3h-3zM318 321h3v3h-3zM318 314h3v3h-3zM318 311h3v3h-3zM318 308h3v3h-3zM318 252h3v3h-3zM318 248h3v3h-3zM318 245h3v3h-3zM318 232h3v3h-3zM318 229h3v3h-3zM318 219h3v3h-3zM318 212h3v3h-3zM318 202h3v3h-3zM318 196h3v3h-3zM318 193h3v3h-3zM318 189h3v3h-3zM318 183h3v3h-3zM318 179h3v3h-3zM318 176h3v3h-3zM318 173h3v3h-3zM318 153h3v3h-3zM318 147h3v3h-3zM318 143h3v3h-3zM318 137h3v3h-3zM318 110h3v3h-3zM321 576h3v3h-3zM321 570h3v3h-3zM321 550h3v3h-3zM321 543h3v3h-3zM321 537h3v3h-3zM321 533h3v3h-3zM321 530h3v3h-3zM321 524h3v3h-3zM321 520h3v3h-3zM321 517h3v3h-3zM321 514h3v3h-3zM321 510h3v3h-3zM321 507h3v3h-3zM321 504h3v3h-3zM321 500h3v3h-3zM321 487h3v3h-3zM321 484h3v3h-3zM321 471h3v3h-3zM321 395h3v3h-3zM321 362h3v3h-3zM321 359h3v3h-3zM321 349h3v3h-3zM321 343h3v3h-3zM321 339h3v3h-3zM321 317h3v3h-3zM321 311h3v3h-3zM321 308h3v3h-3zM321 304h3v3h-3zM321 301h3v3h-3zM321 294h3v3h-3zM321 271h3v3h-3zM321 268h3v3h-3zM321 265h3v3h-3zM321 262h3v3h-3zM321 258h3v3h-3zM321 255h3v3h-3zM321 252h3v3h-3zM321 248h3v3h-3zM321 245h3v3h-3zM321 242h3v3h-3zM321 239h3v3h-3zM321 235h3v3h-3zM321 232h3v3h-3zM321 229h3v3h-3zM321 209h3v3h-3zM321 206h3v3h-3zM321 199h3v3h-3zM321 196h3v3h-3zM321 193h3v3h-3zM321 189h3v3h-3zM321 166h3v3h-3zM324 566h3v3h-3zM324 563h3v3h-3zM324 560h3v3h-3zM324 553h3v3h-3zM324 550h3v3h-3zM324 547h3v3h-3zM324 543h3v3h-3zM324 540h3v3h-3zM324 530h3v3h-3zM324 500h3v3h-3zM324 497h3v3h-3zM324 494h3v3h-3zM324 491h3v3h-3zM324 487h3v3h-3zM324 484h3v3h-3zM324 481h3v3h-3zM324 477h3v3h-3zM324 474h3v3h-3zM324 392h3v3h-3zM324 376h3v3h-3zM324 372h3v3h-3zM324 369h3v3h-3zM324 366h3v3h-3zM324 362h3v3h-3zM324 359h3v3h-3zM324 356h3v3h-3zM324 353h3v3h-3zM324 349h3v3h-3zM324 346h3v3h-3zM324 343h3v3h-3zM324 331h3v3h-3zM324 327h3v3h-3zM324 317h3v3h-3zM324 311h3v3h-3zM324 308h3v3h-3zM324 304h3v3h-3zM324 298h3v3h-3zM324 288h3v3h-3zM324 285h3v3h-3zM324 281h3v3h-3zM324 268h3v3h-3zM324 262h3v3h-3zM324 163h3v3h-3zM324 110h3v3h-3zM328 576h3v3h-3zM328 537h3v3h-3zM328 530h3v3h-3zM328 527h3v3h-3zM328 524h3v3h-3zM328 517h3v3h-3zM328 514h3v3h-3zM328 510h3v3h-3zM328 507h3v3h-3zM328 504h3v3h-3zM328 356h3v3h-3zM328 353h3v3h-3zM328 349h3v3h-3zM328 346h3v3h-3zM328 337h3v2h-3zM328 331h3v3h-3zM328 321h3v3h-3zM328 317h3v3h-3zM328 314h3v3h-3zM328 311h3v3h-3zM328 308h3v3h-3zM328 304h3v3h-3zM328 298h3v3h-3zM328 294h3v3h-3zM328 285h3v3h-3zM328 281h3v3h-3zM328 278h3v3h-3zM328 275h3v3h-3zM328 271h3v3h-3zM328 265h3v3h-3zM328 262h3v3h-3zM328 258h3v3h-3zM328 255h3v3h-3zM328 248h3v3h-3zM328 232h3v3h-3zM328 225h3v3h-3zM328 212h3v3h-3zM328 170h3v3h-3zM328 97h3v3h-3zM331 579h3v3h-3zM331 570h3v3h-3zM331 563h3v3h-3zM331 553h3v3h-3zM331 550h3v3h-3zM331 547h3v3h-3zM331 543h3v3h-3zM331 533h3v3h-3zM331 530h3v3h-3zM331 527h3v3h-3zM331 500h3v3h-3zM331 369h3v3h-3zM331 366h3v3h-3zM331 359h3v3h-3zM331 356h3v3h-3zM331 353h3v3h-3zM331 349h3v3h-3zM331 346h3v3h-3zM331 343h3v3h-3zM331 339h3v3h-3zM331 337h3v2h-3zM331 334h3v3h-3zM331 327h3v3h-3zM331 324h3v3h-3zM331 321h3v3h-3zM331 317h3v3h-3zM331 314h3v3h-3zM331 311h3v3h-3zM331 308h3v3h-3zM331 304h3v3h-3zM331 301h3v3h-3zM331 298h3v3h-3zM331 291h3v3h-3zM331 285h3v3h-3zM331 281h3v3h-3zM331 275h3v3h-3zM331 271h3v3h-3zM331 268h3v3h-3zM331 265h3v3h-3zM331 262h3v3h-3zM331 255h3v3h-3zM331 216h3v3h-3zM331 212h3v3h-3zM334 576h3v3h-3zM334 573h3v3h-3zM334 566h3v3h-3zM334 556h3v3h-3zM334 550h3v3h-3zM334 547h3v3h-3zM334 543h3v3h-3zM334 524h3v3h-3zM334 497h3v3h-3zM334 494h3v3h-3zM334 491h3v3h-3zM334 484h3v3h-3zM334 481h3v3h-3zM334 477h3v3h-3zM334 474h3v3h-3zM334 468h3v3h-3zM334 252h3v3h-3zM334 239h3v3h-3zM334 232h3v3h-3zM334 229h3v3h-3zM334 225h3v3h-3zM334 222h3v3h-3zM334 212h3v3h-3zM334 202h3v3h-3zM334 186h3v3h-3zM334 176h3v3h-3zM334 170h3v3h-3zM334 166h3v3h-3zM334 163h3v3h-3zM334 140h3v3h-3zM334 117h3v3h-3zM338 530h3v3h-3zM338 527h3v3h-3zM338 524h3v3h-3zM338 520h3v3h-3zM338 517h3v3h-3zM338 514h3v3h-3zM338 510h3v3h-3zM338 507h3v3h-3zM338 504h3v3h-3zM338 484h3v3h-3zM338 275h3v3h-3zM338 271h3v3h-3zM338 262h3v3h-3zM338 258h3v3h-3zM338 255h3v3h-3zM338 252h3v3h-3zM338 248h3v3h-3zM338 245h3v3h-3zM338 242h3v3h-3zM338 235h3v3h-3zM338 232h3v3h-3zM338 229h3v3h-3zM338 225h3v3h-3zM338 222h3v3h-3zM338 219h3v3h-3zM338 216h3v3h-3zM338 206h3v3h-3zM338 199h3v3h-3zM338 196h3v3h-3zM338 193h3v3h-3zM338 186h3v3h-3zM338 176h3v3h-3zM338 170h3v3h-3zM338 166h3v3h-3zM338 143h3v3h-3zM338 127h3v3h-3zM338 117h3v3h-3zM338 110h3v3h-3zM341 573h3v3h-3zM341 566h3v3h-3zM341 563h3v3h-3zM341 553h3v3h-3zM341 550h3v3h-3zM341 547h3v3h-3zM341 533h3v3h-3zM341 530h3v3h-3zM341 510h3v3h-3zM341 356h3v3h-3zM341 349h3v3h-3zM341 343h3v3h-3zM341 339h3v3h-3zM341 334h3v3h-3zM341 331h3v3h-3zM341 327h3v3h-3zM341 324h3v3h-3zM341 321h3v3h-3zM341 317h3v3h-3zM341 311h3v3h-3zM341 308h3v3h-3zM341 304h3v3h-3zM341 285h3v3h-3zM341 281h3v3h-3zM341 278h3v3h-3zM341 275h3v3h-3zM341 271h3v3h-3zM341 268h3v3h-3zM341 265h3v3h-3zM341 262h3v3h-3zM341 258h3v3h-3zM341 255h3v3h-3zM341 252h3v3h-3zM341 248h3v3h-3zM341 235h3v3h-3zM341 225h3v3h-3zM341 222h3v3h-3zM341 216h3v3h-3zM341 196h3v3h-3zM341 186h3v3h-3zM341 166h3v3h-3zM341 147h3v3h-3zM341 137h3v3h-3zM341 130h3v3h-3zM341 114h3v3h-3zM341 110h3v3h-3zM341 94h3v3h-3zM344 579h3v3h-3zM344 573h3v3h-3zM344 566h3v3h-3zM344 537h3v3h-3zM344 533h3v3h-3zM344 500h3v3h-3zM344 497h3v3h-3zM344 494h3v3h-3zM344 491h3v3h-3zM344 487h3v3h-3zM344 484h3v3h-3zM344 481h3v3h-3zM344 477h3v3h-3zM344 474h3v3h-3zM344 471h3v3h-3zM344 468h3v3h-3zM344 464h3v3h-3zM344 461h3v3h-3zM344 405h3v3h-3zM344 402h3v3h-3zM344 399h3v3h-3zM344 395h3v3h-3zM344 392h3v3h-3zM344 362h3v3h-3zM344 359h3v3h-3zM344 356h3v3h-3zM344 353h3v3h-3zM344 337h3v2h-3zM344 334h3v3h-3zM344 331h3v3h-3zM344 327h3v3h-3zM344 324h3v3h-3zM344 321h3v3h-3zM344 317h3v3h-3zM344 314h3v3h-3zM344 311h3v3h-3zM344 308h3v3h-3zM344 304h3v3h-3zM344 301h3v3h-3zM344 298h3v3h-3zM344 285h3v3h-3zM344 278h3v3h-3zM344 268h3v3h-3zM344 262h3v3h-3zM344 235h3v3h-3zM344 222h3v3h-3zM344 219h3v3h-3zM344 186h3v3h-3zM344 153h3v3h-3zM344 140h3v3h-3zM347 573h3v3h-3zM347 566h3v3h-3zM347 553h3v3h-3zM347 550h3v3h-3zM347 547h3v3h-3zM347 537h3v3h-3zM347 530h3v3h-3zM347 517h3v3h-3zM347 500h3v3h-3zM347 497h3v3h-3zM347 494h3v3h-3zM347 491h3v3h-3zM347 484h3v3h-3zM347 481h3v3h-3zM347 477h3v3h-3zM347 468h3v3h-3zM347 461h3v3h-3zM347 448h3v3h-3zM347 405h3v3h-3zM347 399h3v3h-3zM347 392h3v3h-3zM347 327h3v3h-3zM347 324h3v3h-3zM347 311h3v3h-3zM347 304h3v3h-3zM347 301h3v3h-3zM347 294h3v3h-3zM347 291h3v3h-3zM347 288h3v3h-3zM347 281h3v3h-3zM347 278h3v3h-3zM347 275h3v3h-3zM347 268h3v3h-3zM347 265h3v3h-3zM347 262h3v3h-3zM347 258h3v3h-3zM347 248h3v3h-3zM347 242h3v3h-3zM347 239h3v3h-3zM347 235h3v3h-3zM347 232h3v3h-3zM347 225h3v3h-3zM347 222h3v3h-3zM347 219h3v3h-3zM347 209h3v3h-3zM347 206h3v3h-3zM347 202h3v3h-3zM347 199h3v3h-3zM347 189h3v3h-3zM347 183h3v3h-3zM347 143h3v3h-3zM351 491h3v3h-3zM351 477h3v3h-3zM351 474h3v3h-3zM351 451h3v3h-3zM351 438h3v3h-3zM351 435h3v3h-3zM351 431h3v3h-3zM351 428h3v3h-3zM351 425h3v3h-3zM351 422h3v3h-3zM351 418h3v3h-3zM351 395h3v3h-3zM351 392h3v3h-3zM351 349h3v3h-3zM351 339h3v3h-3zM351 337h3v2h-3zM351 334h3v3h-3zM351 331h3v3h-3zM351 327h3v3h-3zM351 324h3v3h-3zM351 321h3v3h-3zM351 314h3v3h-3zM351 311h3v3h-3zM351 304h3v3h-3zM351 301h3v3h-3zM351 298h3v3h-3zM351 294h3v3h-3zM351 291h3v3h-3zM351 268h3v3h-3zM351 265h3v3h-3zM351 262h3v3h-3zM351 258h3v3h-3zM351 255h3v3h-3zM351 252h3v3h-3zM351 248h3v3h-3zM351 245h3v3h-3zM351 242h3v3h-3zM351 235h3v3h-3zM351 225h3v3h-3zM351 222h3v3h-3zM351 216h3v3h-3zM351 199h3v3h-3zM351 196h3v3h-3zM351 189h3v3h-3zM351 176h3v3h-3zM351 170h3v3h-3zM351 166h3v3h-3zM351 147h3v3h-3zM351 133h3v3h-3zM351 117h3v3h-3zM351 104h3v3h-3zM354 494h3v3h-3zM354 491h3v3h-3zM354 484h3v3h-3zM354 481h3v3h-3zM354 448h3v3h-3zM354 445h3v3h-3zM354 435h3v3h-3zM354 431h3v3h-3zM354 425h3v3h-3zM354 422h3v3h-3zM354 412h3v3h-3zM354 408h3v3h-3zM354 405h3v3h-3zM354 402h3v3h-3zM354 399h3v3h-3zM354 395h3v3h-3zM354 356h3v3h-3zM354 349h3v3h-3zM354 343h3v3h-3zM354 339h3v3h-3zM354 337h3v2h-3zM354 334h3v3h-3zM354 331h3v3h-3zM354 327h3v3h-3zM354 321h3v3h-3zM354 317h3v3h-3zM354 311h3v3h-3zM354 308h3v3h-3zM354 304h3v3h-3zM354 301h3v3h-3zM354 294h3v3h-3zM354 291h3v3h-3zM354 281h3v3h-3zM354 278h3v3h-3zM354 275h3v3h-3zM354 268h3v3h-3zM354 265h3v3h-3zM354 262h3v3h-3zM354 245h3v3h-3zM354 239h3v3h-3zM354 235h3v3h-3zM354 229h3v3h-3zM354 225h3v3h-3zM357 573h3v3h-3zM357 566h3v3h-3zM357 560h3v3h-3zM357 553h3v3h-3zM357 517h3v3h-3zM357 507h3v3h-3zM357 504h3v3h-3zM357 500h3v3h-3zM357 494h3v3h-3zM357 481h3v3h-3zM357 477h3v3h-3zM357 468h3v3h-3zM357 464h3v3h-3zM357 461h3v3h-3zM357 441h3v3h-3zM357 166h3v3h-3zM357 163h3v3h-3zM357 160h3v3h-3zM357 156h3v3h-3zM357 153h3v3h-3zM357 150h3v3h-3zM357 147h3v3h-3zM357 143h3v3h-3zM357 140h3v3h-3zM357 137h3v3h-3zM357 133h3v3h-3zM357 130h3v3h-3zM357 127h3v3h-3zM357 124h3v3h-3zM357 120h3v3h-3zM357 117h3v3h-3zM357 114h3v3h-3zM357 110h3v3h-3zM357 107h3v3h-3zM357 104h3v3h-3zM357 101h3v3h-3zM357 97h3v3h-3zM357 94h3v3h-3zM357 91h3v3h-3zM361 579h3v3h-3zM361 576h3v3h-3zM361 573h3v3h-3zM361 570h3v3h-3zM361 566h3v3h-3zM361 563h3v3h-3zM361 560h3v3h-3zM361 556h3v3h-3zM361 543h3v3h-3zM361 537h3v3h-3zM361 530h3v3h-3zM361 507h3v3h-3zM361 500h3v3h-3zM361 497h3v3h-3zM361 494h3v3h-3zM361 491h3v3h-3zM361 487h3v3h-3zM361 484h3v3h-3zM361 477h3v3h-3zM361 471h3v3h-3zM361 468h3v3h-3zM361 464h3v3h-3zM361 461h3v3h-3zM361 458h3v3h-3zM361 454h3v3h-3zM361 451h3v3h-3zM361 448h3v3h-3zM361 445h3v3h-3zM361 438h3v3h-3zM361 392h3v3h-3zM361 337h3v2h-3zM361 334h3v3h-3zM361 331h3v3h-3zM361 327h3v3h-3zM361 324h3v3h-3zM361 301h3v3h-3zM361 288h3v3h-3zM361 278h3v3h-3zM361 271h3v3h-3zM361 262h3v3h-3zM361 258h3v3h-3zM361 255h3v3h-3zM361 252h3v3h-3zM361 245h3v3h-3zM361 232h3v3h-3zM361 209h3v3h-3zM361 202h3v3h-3zM361 199h3v3h-3zM361 186h3v3h-3zM361 183h3v3h-3zM361 143h3v3h-3zM361 140h3v3h-3zM361 133h3v3h-3zM361 127h3v3h-3zM361 124h3v3h-3zM361 120h3v3h-3zM361 117h3v3h-3zM361 110h3v3h-3zM361 107h3v3h-3zM364 579h3v3h-3zM364 573h3v3h-3zM364 570h3v3h-3zM364 566h3v3h-3zM364 563h3v3h-3zM364 560h3v3h-3zM364 556h3v3h-3zM364 543h3v3h-3zM364 500h3v3h-3zM364 497h3v3h-3zM364 494h3v3h-3zM364 487h3v3h-3zM364 481h3v3h-3zM364 477h3v3h-3zM364 474h3v3h-3zM364 471h3v3h-3zM364 468h3v3h-3zM364 461h3v3h-3zM364 458h3v3h-3zM364 395h3v3h-3zM364 392h3v3h-3zM364 379h3v3h-3zM364 366h3v3h-3zM364 356h3v3h-3zM364 353h3v3h-3zM364 339h3v3h-3zM364 337h3v2h-3zM364 334h3v3h-3zM364 331h3v3h-3zM364 304h3v3h-3zM364 285h3v3h-3zM364 281h3v3h-3zM364 271h3v3h-3zM364 268h3v3h-3zM364 262h3v3h-3zM364 258h3v3h-3zM364 248h3v3h-3zM364 245h3v3h-3zM364 242h3v3h-3zM364 239h3v3h-3zM364 235h3v3h-3zM364 232h3v3h-3zM364 229h3v3h-3zM364 225h3v3h-3zM364 222h3v3h-3zM364 219h3v3h-3zM364 216h3v3h-3zM364 212h3v3h-3zM364 209h3v3h-3zM364 206h3v3h-3zM364 202h3v3h-3zM364 199h3v3h-3zM364 179h3v3h-3zM367 510h3v3h-3zM367 507h3v3h-3zM367 504h3v3h-3zM367 248h3v3h-3zM367 245h3v3h-3zM367 242h3v3h-3zM367 225h3v3h-3zM367 222h3v3h-3zM367 219h3v3h-3zM367 216h3v3h-3zM367 212h3v3h-3zM367 209h3v3h-3zM367 202h3v3h-3zM367 199h3v3h-3zM367 196h3v3h-3zM367 193h3v3h-3zM367 186h3v3h-3zM367 183h3v3h-3zM367 173h3v3h-3zM367 160h3v3h-3zM367 153h3v3h-3zM367 150h3v3h-3zM367 143h3v3h-3zM367 140h3v3h-3zM367 117h3v3h-3zM367 107h3v3h-3zM367 101h3v3h-3zM367 94h3v3h-3zM370 579h3v3h-3zM370 570h3v3h-3zM370 566h3v3h-3zM370 560h3v3h-3zM370 556h3v3h-3zM370 550h3v3h-3zM370 543h3v3h-3zM370 537h3v3h-3zM370 507h3v3h-3zM370 500h3v3h-3zM370 497h3v3h-3zM370 491h3v3h-3zM370 487h3v3h-3zM370 484h3v3h-3zM370 481h3v3h-3zM370 477h3v3h-3zM370 474h3v3h-3zM370 464h3v3h-3zM370 461h3v3h-3zM370 458h3v3h-3zM370 454h3v3h-3zM370 451h3v3h-3zM370 408h3v3h-3zM370 343h3v3h-3zM370 317h3v3h-3zM370 314h3v3h-3zM370 311h3v3h-3zM370 304h3v3h-3zM370 298h3v3h-3zM370 291h3v3h-3zM370 288h3v3h-3zM370 285h3v3h-3zM370 278h3v3h-3zM370 275h3v3h-3zM370 271h3v3h-3zM370 268h3v3h-3zM370 265h3v3h-3zM370 262h3v3h-3zM370 258h3v3h-3zM370 255h3v3h-3zM370 252h3v3h-3zM370 248h3v3h-3zM370 245h3v3h-3zM370 242h3v3h-3zM370 239h3v3h-3zM370 235h3v3h-3zM370 232h3v3h-3zM370 219h3v3h-3zM370 206h3v3h-3zM370 196h3v3h-3zM370 193h3v3h-3zM370 173h3v3h-3zM370 170h3v3h-3zM370 107h3v3h-3zM370 104h3v3h-3zM374 570h3v3h-3zM374 566h3v3h-3zM374 563h3v3h-3zM374 560h3v3h-3zM374 550h3v3h-3zM374 543h3v3h-3zM374 533h3v3h-3zM374 527h3v3h-3zM374 507h3v3h-3zM374 500h3v3h-3zM374 484h3v3h-3zM374 362h3v3h-3zM374 331h3v3h-3zM374 327h3v3h-3zM374 324h3v3h-3zM374 317h3v3h-3zM374 314h3v3h-3zM374 308h3v3h-3zM374 301h3v3h-3zM374 281h3v3h-3zM374 275h3v3h-3zM374 271h3v3h-3zM374 265h3v3h-3zM374 262h3v3h-3zM374 258h3v3h-3zM374 252h3v3h-3zM374 248h3v3h-3zM374 222h3v3h-3zM374 219h3v3h-3zM374 216h3v3h-3zM374 209h3v3h-3zM374 206h3v3h-3zM374 202h3v3h-3zM374 196h3v3h-3zM374 189h3v3h-3zM374 183h3v3h-3zM374 170h3v3h-3zM374 147h3v3h-3zM374 127h3v3h-3zM374 117h3v3h-3zM374 107h3v3h-3zM374 101h3v3h-3zM377 579h3v3h-3zM377 566h3v3h-3zM377 451h3v3h-3zM377 448h3v3h-3zM377 408h3v3h-3zM377 399h3v3h-3zM377 395h3v3h-3zM377 385h3v3h-3zM377 382h3v3h-3zM377 379h3v3h-3zM377 376h3v3h-3zM377 372h3v3h-3zM377 362h3v3h-3zM377 359h3v3h-3zM377 356h3v3h-3zM377 353h3v3h-3zM377 349h3v3h-3zM377 346h3v3h-3zM377 343h3v3h-3zM377 334h3v3h-3zM377 331h3v3h-3zM377 327h3v3h-3zM377 324h3v3h-3zM377 321h3v3h-3zM377 317h3v3h-3zM377 311h3v3h-3zM377 308h3v3h-3zM377 291h3v3h-3zM377 288h3v3h-3zM377 278h3v3h-3zM377 242h3v3h-3zM377 232h3v3h-3zM377 212h3v3h-3zM377 202h3v3h-3zM377 120h3v3h-3zM380 576h3v3h-3zM380 573h3v3h-3zM380 563h3v3h-3zM380 560h3v3h-3zM380 556h3v3h-3zM380 550h3v3h-3zM380 547h3v3h-3zM380 543h3v3h-3zM380 540h3v3h-3zM380 537h3v3h-3zM380 533h3v3h-3zM380 530h3v3h-3zM380 527h3v3h-3zM380 520h3v3h-3zM380 517h3v3h-3zM380 497h3v3h-3zM380 494h3v3h-3zM380 491h3v3h-3zM380 474h3v3h-3zM380 471h3v3h-3zM380 468h3v3h-3zM380 461h3v3h-3zM380 458h3v3h-3zM380 454h3v3h-3zM380 448h3v3h-3zM380 343h3v3h-3zM380 285h3v3h-3zM380 281h3v3h-3zM380 275h3v3h-3zM380 271h3v3h-3zM380 268h3v3h-3zM380 265h3v3h-3zM380 258h3v3h-3zM380 255h3v3h-3zM380 252h3v3h-3zM380 248h3v3h-3zM380 245h3v3h-3zM380 239h3v3h-3zM380 229h3v3h-3zM380 225h3v3h-3zM380 222h3v3h-3zM380 212h3v3h-3zM380 209h3v3h-3zM380 193h3v3h-3zM380 173h3v3h-3zM380 170h3v3h-3zM380 147h3v3h-3zM380 104h3v3h-3zM380 94h3v3h-3zM384 566h3v3h-3zM384 556h3v3h-3zM384 543h3v3h-3zM384 484h3v3h-3zM384 471h3v3h-3zM384 468h3v3h-3zM384 464h3v3h-3zM384 461h3v3h-3zM384 454h3v3h-3zM384 448h3v3h-3zM384 445h3v3h-3zM384 441h3v3h-3zM384 438h3v3h-3zM384 422h3v3h-3zM384 415h3v3h-3zM384 314h3v3h-3zM384 308h3v3h-3zM384 304h3v3h-3zM384 301h3v3h-3zM384 298h3v3h-3zM384 294h3v3h-3zM384 291h3v3h-3zM384 288h3v3h-3zM384 285h3v3h-3zM384 281h3v3h-3zM384 278h3v3h-3zM384 265h3v3h-3zM384 258h3v3h-3zM384 255h3v3h-3zM384 252h3v3h-3zM384 239h3v3h-3zM384 232h3v3h-3zM384 229h3v3h-3zM384 222h3v3h-3zM384 216h3v3h-3zM384 209h3v3h-3zM384 160h3v3h-3zM384 94h3v3h-3zM387 484h3v3h-3zM387 477h3v3h-3zM387 445h3v3h-3zM387 435h3v3h-3zM387 431h3v3h-3zM387 428h3v3h-3zM387 422h3v3h-3zM387 418h3v3h-3zM387 412h3v3h-3zM387 408h3v3h-3zM387 405h3v3h-3zM387 402h3v3h-3zM387 399h3v3h-3zM387 395h3v3h-3zM387 389h3v3h-3zM387 385h3v3h-3zM387 382h3v3h-3zM387 321h3v3h-3zM387 317h3v3h-3zM387 311h3v3h-3zM387 308h3v3h-3zM387 304h3v3h-3zM387 301h3v3h-3zM387 298h3v3h-3zM387 294h3v3h-3zM387 265h3v3h-3zM387 248h3v3h-3zM387 242h3v3h-3zM387 235h3v3h-3zM387 222h3v3h-3zM387 219h3v3h-3zM387 209h3v3h-3zM387 193h3v3h-3zM387 153h3v3h-3zM390 497h3v3h-3zM390 481h3v3h-3zM390 474h3v3h-3zM390 471h3v3h-3zM390 464h3v3h-3zM390 461h3v3h-3zM390 431h3v3h-3zM390 425h3v3h-3zM390 418h3v3h-3zM390 415h3v3h-3zM390 412h3v3h-3zM390 408h3v3h-3zM390 405h3v3h-3zM390 402h3v3h-3zM390 399h3v3h-3zM390 395h3v3h-3zM390 389h3v3h-3zM390 385h3v3h-3zM390 382h3v3h-3zM390 301h3v3h-3zM390 298h3v3h-3zM390 294h3v3h-3zM390 291h3v3h-3zM390 288h3v3h-3zM390 285h3v3h-3zM390 275h3v3h-3zM390 271h3v3h-3zM390 258h3v3h-3zM390 232h3v3h-3zM390 222h3v3h-3zM390 219h3v3h-3zM390 206h3v3h-3zM390 170h3v3h-3zM390 163h3v3h-3zM390 156h3v3h-3zM390 153h3v3h-3zM390 114h3v3h-3zM390 97h3v3h-3zM394 540h3v3h-3zM394 494h3v3h-3zM394 474h3v3h-3zM394 464h3v3h-3zM394 461h3v3h-3zM394 458h3v3h-3zM394 454h3v3h-3zM394 435h3v3h-3zM394 428h3v3h-3zM394 422h3v3h-3zM394 418h3v3h-3zM394 415h3v3h-3zM394 412h3v3h-3zM394 408h3v3h-3zM394 314h3v3h-3zM394 288h3v3h-3zM394 285h3v3h-3zM394 278h3v3h-3zM394 275h3v3h-3zM394 271h3v3h-3zM394 268h3v3h-3zM394 265h3v3h-3zM394 262h3v3h-3zM394 258h3v3h-3zM394 252h3v3h-3zM394 222h3v3h-3zM394 219h3v3h-3zM394 173h3v3h-3zM394 170h3v3h-3zM394 137h3v3h-3zM394 114h3v3h-3zM397 566h3v3h-3zM397 556h3v3h-3zM397 497h3v3h-3zM397 471h3v3h-3zM397 468h3v3h-3zM397 454h3v3h-3zM397 451h3v3h-3zM397 428h3v3h-3zM397 415h3v3h-3zM397 408h3v3h-3zM397 405h3v3h-3zM397 399h3v3h-3zM397 395h3v3h-3zM397 311h3v3h-3zM397 258h3v3h-3zM397 255h3v3h-3zM397 252h3v3h-3zM397 248h3v3h-3zM397 245h3v3h-3zM397 242h3v3h-3zM397 239h3v3h-3zM397 216h3v3h-3zM397 212h3v3h-3zM397 209h3v3h-3zM397 206h3v3h-3zM397 202h3v3h-3zM397 199h3v3h-3zM397 196h3v3h-3zM397 193h3v3h-3zM397 189h3v3h-3zM397 186h3v3h-3zM397 183h3v3h-3zM397 179h3v3h-3zM397 176h3v3h-3zM397 173h3v3h-3zM397 170h3v3h-3zM397 166h3v3h-3zM397 163h3v3h-3zM397 160h3v3h-3zM397 156h3v3h-3zM397 153h3v3h-3zM397 150h3v3h-3zM397 147h3v3h-3zM397 140h3v3h-3zM397 110h3v3h-3zM397 101h3v3h-3zM400 573h3v3h-3zM400 570h3v3h-3zM400 566h3v3h-3zM400 543h3v3h-3zM400 524h3v3h-3zM400 500h3v3h-3zM400 494h3v3h-3zM400 471h3v3h-3zM400 464h3v3h-3zM400 461h3v3h-3zM400 458h3v3h-3zM400 454h3v3h-3zM400 448h3v3h-3zM400 445h3v3h-3zM400 441h3v3h-3zM400 435h3v3h-3zM400 431h3v3h-3zM400 428h3v3h-3zM400 425h3v3h-3zM400 285h3v3h-3zM400 281h3v3h-3zM400 278h3v3h-3zM400 275h3v3h-3zM400 271h3v3h-3zM400 268h3v3h-3zM400 265h3v3h-3zM400 262h3v3h-3zM400 258h3v3h-3zM400 255h3v3h-3zM400 248h3v3h-3zM400 239h3v3h-3zM400 235h3v3h-3zM400 232h3v3h-3zM400 229h3v3h-3zM400 222h3v3h-3zM400 219h3v3h-3zM400 216h3v3h-3zM400 212h3v3h-3zM400 209h3v3h-3zM400 196h3v3h-3zM400 193h3v3h-3zM400 189h3v3h-3zM400 160h3v3h-3zM400 156h3v3h-3zM400 153h3v3h-3zM400 140h3v3h-3zM403 576h3v3h-3zM403 573h3v3h-3zM403 566h3v3h-3zM403 560h3v3h-3zM403 553h3v3h-3zM403 547h3v3h-3zM403 530h3v3h-3zM403 520h3v3h-3zM403 507h3v3h-3zM403 504h3v3h-3zM403 497h3v3h-3zM403 494h3v3h-3zM403 491h3v3h-3zM403 487h3v3h-3zM403 471h3v3h-3zM403 461h3v3h-3zM403 451h3v3h-3zM403 441h3v3h-3zM403 438h3v3h-3zM403 435h3v3h-3zM403 431h3v3h-3zM403 425h3v3h-3zM403 422h3v3h-3zM403 418h3v3h-3zM403 408h3v3h-3zM403 392h3v3h-3zM403 382h3v3h-3zM403 265h3v3h-3zM403 262h3v3h-3zM403 258h3v3h-3zM403 255h3v3h-3zM403 252h3v3h-3zM403 248h3v3h-3zM403 245h3v3h-3zM403 242h3v3h-3zM403 239h3v3h-3zM403 232h3v3h-3zM403 229h3v3h-3zM403 225h3v3h-3zM403 222h3v3h-3zM403 219h3v3h-3zM403 216h3v3h-3zM403 212h3v3h-3zM403 209h3v3h-3zM403 189h3v3h-3zM403 186h3v3h-3zM403 150h3v3h-3zM403 133h3v3h-3zM403 104h3v3h-3zM403 101h3v3h-3zM403 94h3v3h-3zM407 573h3v3h-3zM407 556h3v3h-3zM407 527h3v3h-3zM407 507h3v3h-3zM407 471h3v3h-3zM407 468h3v3h-3zM407 464h3v3h-3zM407 458h3v3h-3zM407 451h3v3h-3zM407 448h3v3h-3zM407 441h3v3h-3zM407 438h3v3h-3zM407 435h3v3h-3zM407 422h3v3h-3zM407 298h3v3h-3zM407 294h3v3h-3zM407 291h3v3h-3zM407 285h3v3h-3zM407 281h3v3h-3zM407 278h3v3h-3zM407 275h3v3h-3zM407 271h3v3h-3zM407 268h3v3h-3zM407 265h3v3h-3zM407 262h3v3h-3zM407 258h3v3h-3zM407 255h3v3h-3zM407 252h3v3h-3zM407 248h3v3h-3zM407 245h3v3h-3zM407 242h3v3h-3zM407 239h3v3h-3zM407 235h3v3h-3zM407 232h3v3h-3zM407 219h3v3h-3zM407 216h3v3h-3zM407 206h3v3h-3zM407 199h3v3h-3zM407 186h3v3h-3zM407 173h3v3h-3zM407 143h3v3h-3zM407 140h3v3h-3zM407 127h3v3h-3zM407 104h3v3h-3zM407 101h3v3h-3zM410 566h3v3h-3zM410 563h3v3h-3zM410 553h3v3h-3zM410 550h3v3h-3zM410 547h3v3h-3zM410 543h3v3h-3zM410 540h3v3h-3zM410 537h3v3h-3zM410 533h3v3h-3zM410 527h3v3h-3zM410 524h3v3h-3zM410 520h3v3h-3zM410 517h3v3h-3zM410 514h3v3h-3zM410 510h3v3h-3zM410 504h3v3h-3zM410 500h3v3h-3zM410 497h3v3h-3zM410 494h3v3h-3zM410 491h3v3h-3zM410 487h3v3h-3zM410 484h3v3h-3zM410 481h3v3h-3zM410 477h3v3h-3zM410 474h3v3h-3zM410 471h3v3h-3zM410 468h3v3h-3zM410 464h3v3h-3zM410 461h3v3h-3zM410 458h3v3h-3zM410 454h3v3h-3zM410 451h3v3h-3zM410 448h3v3h-3zM410 441h3v3h-3zM410 438h3v3h-3zM410 431h3v3h-3zM410 422h3v3h-3zM410 242h3v3h-3zM410 239h3v3h-3zM410 235h3v3h-3zM410 232h3v3h-3zM410 229h3v3h-3zM410 222h3v3h-3zM410 219h3v3h-3zM410 212h3v3h-3zM410 209h3v3h-3zM410 206h3v3h-3zM410 202h3v3h-3zM410 196h3v3h-3zM410 193h3v3h-3zM410 173h3v3h-3zM410 170h3v3h-3zM410 166h3v3h-3zM410 160h3v3h-3zM410 156h3v3h-3zM410 153h3v3h-3zM410 147h3v3h-3zM410 127h3v3h-3zM410 107h3v3h-3zM410 101h3v3h-3zM413 573h3v3h-3zM413 566h3v3h-3zM413 556h3v3h-3zM413 547h3v3h-3zM413 454h3v3h-3zM413 428h3v3h-3zM413 425h3v3h-3zM413 415h3v3h-3zM413 405h3v3h-3zM413 402h3v3h-3zM413 399h3v3h-3zM413 395h3v3h-3zM413 392h3v3h-3zM413 389h3v3h-3zM413 385h3v3h-3zM413 382h3v3h-3zM413 379h3v3h-3zM413 376h3v3h-3zM413 327h3v3h-3zM413 324h3v3h-3zM413 321h3v3h-3zM413 317h3v3h-3zM413 311h3v3h-3zM413 301h3v3h-3zM413 298h3v3h-3zM413 294h3v3h-3zM413 291h3v3h-3zM413 288h3v3h-3zM413 262h3v3h-3zM413 258h3v3h-3zM413 255h3v3h-3zM413 248h3v3h-3zM413 245h3v3h-3zM413 239h3v3h-3zM413 235h3v3h-3zM413 232h3v3h-3zM413 222h3v3h-3zM413 219h3v3h-3zM413 216h3v3h-3zM413 209h3v3h-3zM413 199h3v3h-3zM413 193h3v3h-3zM413 176h3v3h-3zM413 170h3v3h-3zM413 166h3v3h-3zM413 163h3v3h-3zM413 143h3v3h-3zM413 127h3v3h-3zM413 117h3v3h-3zM413 114h3v3h-3zM417 438h3v3h-3zM417 435h3v3h-3zM417 428h3v3h-3zM417 418h3v3h-3zM417 415h3v3h-3zM417 402h3v3h-3zM417 399h3v3h-3zM417 395h3v3h-3zM417 392h3v3h-3zM417 337h3v2h-3zM417 334h3v3h-3zM417 327h3v3h-3zM417 324h3v3h-3zM417 321h3v3h-3zM417 317h3v3h-3zM417 314h3v3h-3zM417 311h3v3h-3zM417 301h3v3h-3zM417 285h3v3h-3zM417 281h3v3h-3zM417 271h3v3h-3zM417 268h3v3h-3zM417 265h3v3h-3zM417 262h3v3h-3zM417 258h3v3h-3zM417 255h3v3h-3zM417 252h3v3h-3zM417 242h3v3h-3zM417 235h3v3h-3zM417 232h3v3h-3zM417 229h3v3h-3zM417 225h3v3h-3zM417 91h3v3h-3zM420 570h2v3h-2zM420 566h2v3h-2zM420 556h2v3h-2zM420 553h2v3h-2zM420 550h2v3h-2zM420 530h2v3h-2zM420 524h2v3h-2zM420 520h2v3h-2zM420 487h2v3h-2zM420 468h2v3h-2zM420 464h2v3h-2zM420 461h2v3h-2zM420 458h2v3h-2zM420 454h2v3h-2zM420 445h2v3h-2zM420 441h2v3h-2zM420 438h2v3h-2zM420 431h2v3h-2zM420 376h2v3h-2zM420 331h2v3h-2zM420 327h2v3h-2zM420 324h2v3h-2zM420 317h2v3h-2zM420 314h2v3h-2zM420 311h2v3h-2zM420 308h2v3h-2zM420 304h2v3h-2zM420 301h2v3h-2zM420 298h2v3h-2zM420 294h2v3h-2zM420 291h2v3h-2zM420 285h2v3h-2zM420 281h2v3h-2zM420 278h2v3h-2zM420 271h2v3h-2zM420 245h2v3h-2zM420 235h2v3h-2zM420 209h2v3h-2zM420 170h2v3h-2zM422 461h3v3h-3zM422 451h3v3h-3zM422 438h3v3h-3zM422 435h3v3h-3zM422 431h3v3h-3zM422 428h3v3h-3zM422 415h3v3h-3zM422 412h3v3h-3zM422 408h3v3h-3zM422 405h3v3h-3zM422 392h3v3h-3zM422 389h3v3h-3zM422 317h3v3h-3zM422 314h3v3h-3zM422 311h3v3h-3zM422 308h3v3h-3zM422 301h3v3h-3zM422 291h3v3h-3zM422 288h3v3h-3zM422 278h3v3h-3zM422 275h3v3h-3zM422 262h3v3h-3zM422 255h3v3h-3zM422 252h3v3h-3zM422 248h3v3h-3zM422 242h3v3h-3zM422 239h3v3h-3zM422 235h3v3h-3zM422 212h3v3h-3zM422 209h3v3h-3zM422 206h3v3h-3zM422 202h3v3h-3zM422 176h3v3h-3zM422 137h3v3h-3zM422 127h3v3h-3zM422 124h3v3h-3zM422 107h3v3h-3zM425 428h3v3h-3zM425 399h3v3h-3zM425 395h3v3h-3zM425 392h3v3h-3zM425 389h3v3h-3zM425 385h3v3h-3zM425 382h3v3h-3zM425 379h3v3h-3zM425 376h3v3h-3zM425 372h3v3h-3zM425 369h3v3h-3zM425 334h3v3h-3zM425 327h3v3h-3zM425 324h3v3h-3zM425 321h3v3h-3zM425 317h3v3h-3zM425 314h3v3h-3zM425 308h3v3h-3zM425 278h3v3h-3zM425 265h3v3h-3zM425 196h3v3h-3zM429 547h3v3h-3zM429 537h3v3h-3zM429 468h3v3h-3zM429 464h3v3h-3zM429 438h3v3h-3zM429 428h3v3h-3zM429 415h3v3h-3zM429 412h3v3h-3zM429 402h3v3h-3zM429 399h3v3h-3zM429 379h3v3h-3zM429 376h3v3h-3zM429 356h3v3h-3zM429 339h3v3h-3zM429 337h3v2h-3zM429 334h3v3h-3zM429 331h3v3h-3zM429 291h3v3h-3zM429 288h3v3h-3zM429 285h3v3h-3zM429 281h3v3h-3zM429 278h3v3h-3zM429 275h3v3h-3zM429 265h3v3h-3zM429 258h3v3h-3zM429 235h3v3h-3zM429 232h3v3h-3zM429 229h3v3h-3zM429 222h3v3h-3zM429 216h3v3h-3zM429 212h3v3h-3zM429 209h3v3h-3zM429 202h3v3h-3zM429 166h3v3h-3zM429 160h3v3h-3zM429 127h3v3h-3zM432 395h3v3h-3zM432 389h3v3h-3zM432 385h3v3h-3zM432 382h3v3h-3zM432 376h3v3h-3zM432 372h3v3h-3zM432 356h3v3h-3zM432 353h3v3h-3zM432 337h3v2h-3zM432 317h3v3h-3zM432 314h3v3h-3zM432 311h3v3h-3zM432 308h3v3h-3zM432 304h3v3h-3zM432 291h3v3h-3zM432 288h3v3h-3zM432 281h3v3h-3zM432 229h3v3h-3zM432 225h3v3h-3zM432 216h3v3h-3zM432 206h3v3h-3zM432 176h3v3h-3zM435 461h3v3h-3zM435 441h3v3h-3zM435 431h3v3h-3zM435 425h3v3h-3zM435 418h3v3h-3zM435 415h3v3h-3zM435 412h3v3h-3zM435 408h3v3h-3zM435 402h3v3h-3zM435 399h3v3h-3zM435 395h3v3h-3zM435 392h3v3h-3zM435 389h3v3h-3zM435 385h3v3h-3zM435 382h3v3h-3zM435 379h3v3h-3zM435 372h3v3h-3zM435 369h3v3h-3zM435 346h3v3h-3zM435 343h3v3h-3zM435 337h3v2h-3zM435 334h3v3h-3zM435 331h3v3h-3zM435 324h3v3h-3zM435 321h3v3h-3zM435 317h3v3h-3zM435 304h3v3h-3zM435 298h3v3h-3zM435 255h3v3h-3zM435 120h3v3h-3zM439 359h3v3h-3zM439 356h3v3h-3zM439 353h3v3h-3zM439 349h3v3h-3zM439 337h3v2h-3zM439 327h3v3h-3zM439 324h3v3h-3zM439 317h3v3h-3zM439 314h3v3h-3zM439 311h3v3h-3zM439 308h3v3h-3zM439 301h3v3h-3zM439 291h3v3h-3zM439 288h3v3h-3zM439 285h3v3h-3zM439 265h3v3h-3zM442 566h3v3h-3zM442 540h3v3h-3zM442 504h3v3h-3zM442 408h3v3h-3zM442 405h3v3h-3zM442 402h3v3h-3zM442 399h3v3h-3zM442 385h3v3h-3zM442 382h3v3h-3zM442 372h3v3h-3zM442 369h3v3h-3zM442 314h3v3h-3zM442 308h3v3h-3zM442 304h3v3h-3zM442 301h3v3h-3zM442 294h3v3h-3zM442 291h3v3h-3zM442 288h3v3h-3zM442 285h3v3h-3zM442 281h3v3h-3zM442 278h3v3h-3zM442 271h3v3h-3zM442 268h3v3h-3zM442 265h3v3h-3zM442 262h3v3h-3zM442 258h3v3h-3zM442 255h3v3h-3zM442 252h3v3h-3zM442 242h3v3h-3zM442 239h3v3h-3zM442 232h3v3h-3zM442 225h3v3h-3zM442 222h3v3h-3zM442 219h3v3h-3zM442 179h3v3h-3zM442 150h3v3h-3zM442 143h3v3h-3zM442 120h3v3h-3zM445 514h3v3h-3zM445 399h3v3h-3zM445 376h3v3h-3zM445 372h3v3h-3zM445 369h3v3h-3zM445 366h3v3h-3zM445 362h3v3h-3zM445 285h3v3h-3zM445 262h3v3h-3zM445 258h3v3h-3zM445 255h3v3h-3zM445 252h3v3h-3zM445 248h3v3h-3zM445 245h3v3h-3zM445 242h3v3h-3zM445 239h3v3h-3zM445 235h3v3h-3zM445 232h3v3h-3zM445 229h3v3h-3zM445 225h3v3h-3zM445 222h3v3h-3zM445 219h3v3h-3zM445 216h3v3h-3zM445 212h3v3h-3zM445 209h3v3h-3zM445 189h3v3h-3zM445 186h3v3h-3zM448 392h3v3h-3zM448 379h3v3h-3zM448 372h3v3h-3zM448 356h3v3h-3zM448 343h3v3h-3zM448 334h3v3h-3zM448 327h3v3h-3zM448 308h3v3h-3zM448 304h3v3h-3zM448 301h3v3h-3zM448 298h3v3h-3zM448 294h3v3h-3zM448 291h3v3h-3zM448 288h3v3h-3zM448 285h3v3h-3zM448 278h3v3h-3zM452 579h3v3h-3zM452 566h3v3h-3zM452 563h3v3h-3zM452 560h3v3h-3zM452 553h3v3h-3zM452 550h3v3h-3zM452 547h3v3h-3zM452 543h3v3h-3zM452 530h3v3h-3zM452 524h3v3h-3zM452 520h3v3h-3zM452 517h3v3h-3zM452 500h3v3h-3zM452 497h3v3h-3zM452 491h3v3h-3zM452 487h3v3h-3zM452 484h3v3h-3zM452 481h3v3h-3zM452 474h3v3h-3zM452 471h3v3h-3zM452 468h3v3h-3zM452 464h3v3h-3zM452 458h3v3h-3zM452 454h3v3h-3zM452 448h3v3h-3zM452 441h3v3h-3zM452 438h3v3h-3zM452 435h3v3h-3zM452 431h3v3h-3zM452 428h3v3h-3zM452 425h3v3h-3zM452 422h3v3h-3zM452 418h3v3h-3zM452 353h3v3h-3zM452 265h3v3h-3zM452 262h3v3h-3zM452 258h3v3h-3zM452 255h3v3h-3zM452 252h3v3h-3zM452 245h3v3h-3zM452 202h3v3h-3zM452 199h3v3h-3zM452 196h3v3h-3zM452 193h3v3h-3zM452 183h3v3h-3zM452 173h3v3h-3zM452 170h3v3h-3zM455 392h3v3h-3zM455 389h3v3h-3zM455 379h3v3h-3zM455 376h3v3h-3zM455 372h3v3h-3zM455 369h3v3h-3zM455 366h3v3h-3zM455 353h3v3h-3zM455 349h3v3h-3zM455 346h3v3h-3zM455 337h3v2h-3zM455 334h3v3h-3zM455 331h3v3h-3zM455 327h3v3h-3zM455 324h3v3h-3zM455 317h3v3h-3zM455 291h3v3h-3zM455 265h3v3h-3zM458 468h3v3h-3zM458 464h3v3h-3zM458 461h3v3h-3zM458 458h3v3h-3zM458 451h3v3h-3zM458 448h3v3h-3zM458 445h3v3h-3zM458 271h3v3h-3zM458 268h3v3h-3zM458 265h3v3h-3zM458 262h3v3h-3zM458 255h3v3h-3zM458 252h3v3h-3zM458 245h3v3h-3zM458 239h3v3h-3zM458 235h3v3h-3zM458 209h3v3h-3zM458 206h3v3h-3zM458 202h3v3h-3zM458 189h3v3h-3zM458 186h3v3h-3zM458 183h3v3h-3zM458 173h3v3h-3zM458 156h3v3h-3zM458 153h3v3h-3zM458 143h3v3h-3zM458 133h3v3h-3zM458 97h3v3h-3zM462 356h3v3h-3zM462 339h3v3h-3zM462 337h3v2h-3zM462 334h3v3h-3zM462 331h3v3h-3zM462 327h3v3h-3zM462 324h3v3h-3zM462 321h3v3h-3zM462 317h3v3h-3zM462 314h3v3h-3zM462 311h3v3h-3zM462 308h3v3h-3zM462 304h3v3h-3zM462 265h3v3h-3zM462 183h3v3h-3zM462 163h3v3h-3zM465 431h3v3h-3zM465 425h3v3h-3zM465 422h3v3h-3zM465 412h3v3h-3zM465 408h3v3h-3zM465 402h3v3h-3zM465 399h3v3h-3zM465 392h3v3h-3zM465 389h3v3h-3zM465 385h3v3h-3zM465 382h3v3h-3zM465 379h3v3h-3zM465 376h3v3h-3zM465 372h3v3h-3zM465 369h3v3h-3zM465 366h3v3h-3zM465 362h3v3h-3zM465 359h3v3h-3zM465 349h3v3h-3zM465 346h3v3h-3zM465 339h3v3h-3zM465 337h3v2h-3zM465 334h3v3h-3zM465 331h3v3h-3zM465 327h3v3h-3zM465 324h3v3h-3zM465 317h3v3h-3zM465 308h3v3h-3zM465 304h3v3h-3zM465 301h3v3h-3zM465 298h3v3h-3zM465 294h3v3h-3zM465 291h3v3h-3zM465 288h3v3h-3zM465 268h3v3h-3zM465 265h3v3h-3zM465 242h3v3h-3zM465 235h3v3h-3zM465 173h3v3h-3zM465 124h3v3h-3zM468 392h3v3h-3zM468 389h3v3h-3zM468 379h3v3h-3zM468 356h3v3h-3zM468 353h3v3h-3zM468 349h3v3h-3zM468 343h3v3h-3zM468 339h3v3h-3zM468 327h3v3h-3zM468 321h3v3h-3zM468 317h3v3h-3zM468 314h3v3h-3zM468 311h3v3h-3zM468 308h3v3h-3zM468 301h3v3h-3zM468 294h3v3h-3zM468 170h3v3h-3zM472 471h3v3h-3zM472 468h3v3h-3zM472 389h3v3h-3zM472 372h3v3h-3zM472 369h3v3h-3zM472 366h3v3h-3zM472 362h3v3h-3zM472 359h3v3h-3zM472 356h3v3h-3zM472 349h3v3h-3zM472 339h3v3h-3zM472 337h3v2h-3zM472 334h3v3h-3zM472 331h3v3h-3zM472 327h3v3h-3zM472 321h3v3h-3zM472 317h3v3h-3zM472 314h3v3h-3zM472 308h3v3h-3zM472 304h3v3h-3zM472 301h3v3h-3zM472 288h3v3h-3zM472 271h3v3h-3zM472 265h3v3h-3zM472 255h3v3h-3zM472 225h3v3h-3zM472 219h3v3h-3zM472 170h3v3h-3zM475 468h3v3h-3zM475 464h3v3h-3zM475 428h3v3h-3zM475 405h3v3h-3zM475 395h3v3h-3zM475 389h3v3h-3zM475 382h3v3h-3zM475 379h3v3h-3zM475 372h3v3h-3zM475 317h3v3h-3zM475 314h3v3h-3zM475 311h3v3h-3zM475 308h3v3h-3zM475 304h3v3h-3zM475 301h3v3h-3zM475 294h3v3h-3zM475 281h3v3h-3zM475 275h3v3h-3zM475 271h3v3h-3zM475 245h3v3h-3zM475 222h3v3h-3zM475 193h3v3h-3zM475 176h3v3h-3zM475 173h3v3h-3zM478 392h3v3h-3zM478 389h3v3h-3zM478 385h3v3h-3zM478 382h3v3h-3zM478 379h3v3h-3zM478 372h3v3h-3zM478 362h3v3h-3zM478 356h3v3h-3zM478 353h3v3h-3zM478 349h3v3h-3zM478 346h3v3h-3zM478 343h3v3h-3zM478 339h3v3h-3zM478 331h3v3h-3zM478 327h3v3h-3zM478 324h3v3h-3zM478 317h3v3h-3zM478 311h3v3h-3zM478 308h3v3h-3zM478 298h3v3h-3zM478 294h3v3h-3zM481 566h3v3h-3zM481 533h3v3h-3zM481 530h3v3h-3zM481 520h3v3h-3zM481 497h3v3h-3zM481 494h3v3h-3zM481 491h3v3h-3zM481 471h3v3h-3zM481 468h3v3h-3zM481 445h3v3h-3zM481 428h3v3h-3zM481 408h3v3h-3zM481 405h3v3h-3zM481 399h3v3h-3zM481 278h3v3h-3zM481 275h3v3h-3zM481 268h3v3h-3zM481 265h3v3h-3zM481 262h3v3h-3zM481 258h3v3h-3zM481 255h3v3h-3zM481 248h3v3h-3zM481 245h3v3h-3zM481 239h3v3h-3zM481 235h3v3h-3zM481 232h3v3h-3zM481 229h3v3h-3zM481 225h3v3h-3zM481 222h3v3h-3zM481 216h3v3h-3zM481 212h3v3h-3zM481 206h3v3h-3zM481 202h3v3h-3zM481 199h3v3h-3zM481 196h3v3h-3zM481 186h3v3h-3zM481 179h3v3h-3zM481 166h3v3h-3zM481 163h3v3h-3zM481 160h3v3h-3zM481 156h3v3h-3zM481 137h3v3h-3zM481 130h3v3h-3zM481 117h3v3h-3zM485 556h3v3h-3zM485 543h3v3h-3zM485 464h3v3h-3zM485 461h3v3h-3zM485 451h3v3h-3zM485 435h3v3h-3zM485 431h3v3h-3zM485 428h3v3h-3zM485 422h3v3h-3zM485 408h3v3h-3zM485 405h3v3h-3zM485 389h3v3h-3zM485 385h3v3h-3zM485 382h3v3h-3zM485 379h3v3h-3zM485 376h3v3h-3zM485 372h3v3h-3zM485 366h3v3h-3zM485 362h3v3h-3zM485 359h3v3h-3zM485 356h3v3h-3zM485 353h3v3h-3zM485 349h3v3h-3zM485 346h3v3h-3zM485 343h3v3h-3zM485 339h3v3h-3zM485 337h3v2h-3zM485 321h3v3h-3zM485 308h3v3h-3zM485 301h3v3h-3zM485 291h3v3h-3zM485 288h3v3h-3zM485 281h3v3h-3zM485 262h3v3h-3zM485 239h3v3h-3zM485 232h3v3h-3zM485 183h3v3h-3zM485 101h3v3h-3zM488 399h3v3h-3zM488 392h3v3h-3zM488 389h3v3h-3zM488 382h3v3h-3zM488 376h3v3h-3zM488 372h3v3h-3zM488 369h3v3h-3zM488 366h3v3h-3zM488 349h3v3h-3zM488 343h3v3h-3zM488 337h3v2h-3zM488 334h3v3h-3zM488 327h3v3h-3zM488 321h3v3h-3zM488 317h3v3h-3zM488 311h3v3h-3zM488 308h3v3h-3zM488 304h3v3h-3zM488 301h3v3h-3zM491 395h3v3h-3zM491 385h3v3h-3zM491 372h3v3h-3zM491 369h3v3h-3zM491 356h3v3h-3zM491 353h3v3h-3zM491 349h3v3h-3zM491 337h3v2h-3zM491 334h3v3h-3zM491 331h3v3h-3zM491 327h3v3h-3zM491 317h3v3h-3zM491 314h3v3h-3zM491 311h3v3h-3zM491 308h3v3h-3zM491 301h3v3h-3zM491 294h3v3h-3zM491 291h3v3h-3zM491 288h3v3h-3zM491 285h3v3h-3zM491 281h3v3h-3zM491 278h3v3h-3zM491 275h3v3h-3zM491 271h3v3h-3zM491 268h3v3h-3zM491 206h3v3h-3zM491 199h3v3h-3zM491 163h3v3h-3zM495 392h3v3h-3zM495 389h3v3h-3zM495 385h3v3h-3zM495 382h3v3h-3zM495 372h3v3h-3zM495 369h3v3h-3zM495 366h3v3h-3zM495 362h3v3h-3zM495 359h3v3h-3zM495 356h3v3h-3zM495 353h3v3h-3zM495 346h3v3h-3zM495 339h3v3h-3zM495 337h3v2h-3zM495 317h3v3h-3zM495 298h3v3h-3zM495 294h3v3h-3zM495 291h3v3h-3zM495 285h3v3h-3zM495 281h3v3h-3zM495 278h3v3h-3zM495 275h3v3h-3zM495 268h3v3h-3zM495 245h3v3h-3zM495 133h3v3h-3zM495 117h3v3h-3zM498 392h3v3h-3zM498 389h3v3h-3zM498 382h3v3h-3zM498 379h3v3h-3zM498 372h3v3h-3zM498 369h3v3h-3zM498 366h3v3h-3zM498 359h3v3h-3zM498 356h3v3h-3zM498 353h3v3h-3zM498 349h3v3h-3zM498 346h3v3h-3zM498 339h3v3h-3zM498 337h3v2h-3zM498 334h3v3h-3zM498 331h3v3h-3zM498 321h3v3h-3zM498 317h3v3h-3zM498 314h3v3h-3zM498 311h3v3h-3zM498 298h3v3h-3zM498 291h3v3h-3zM498 288h3v3h-3zM498 281h3v3h-3zM498 278h3v3h-3zM498 271h3v3h-3zM498 268h3v3h-3zM498 216h3v3h-3zM501 392h3v3h-3zM501 389h3v3h-3zM501 376h3v3h-3zM501 372h3v3h-3zM501 369h3v3h-3zM501 366h3v3h-3zM501 349h3v3h-3zM501 321h3v3h-3zM501 271h3v3h-3zM504 428h3v3h-3zM504 402h3v3h-3zM504 395h3v3h-3zM504 385h3v3h-3zM504 382h3v3h-3zM504 379h3v3h-3zM504 376h3v3h-3zM504 372h3v3h-3zM504 369h3v3h-3zM504 366h3v3h-3zM504 362h3v3h-3zM504 359h3v3h-3zM504 356h3v3h-3zM504 353h3v3h-3zM504 349h3v3h-3zM504 346h3v3h-3zM504 343h3v3h-3zM504 331h3v3h-3zM504 327h3v3h-3zM504 321h3v3h-3zM504 311h3v3h-3zM504 308h3v3h-3zM504 304h3v3h-3zM504 301h3v3h-3zM504 294h3v3h-3zM504 291h3v3h-3zM504 245h3v3h-3zM504 235h3v3h-3zM504 209h3v3h-3zM504 199h3v3h-3zM508 537h3v3h-3zM508 308h3v3h-3zM508 304h3v3h-3zM508 285h3v3h-3zM511 311h3v3h-3zM511 301h3v3h-3zM511 281h3v3h-3zM511 278h3v3h-3zM518 281h3v3h-3zM528 405h3v3h-3zM528 349h3v3h-3zM528 334h3v3h-3zM528 298h3v3h-3zM528 294h3v3h-3zM528 291h3v3h-3zM528 258h3v3h-3zM528 239h3v3h-3zM528 235h3v3h-3zM531 294h3v3h-3zM547 255h3v3h-3zM547 216h3v3h-3zM554 232h3v3h-3zM554 202h3v3h-3zM554 199h3v3h-3zM554 170h3v3h-3zM567 212h3v3h-3zM567 206h3v3h-3zM574 540h3v3h-3zM574 392h3v3h-3zM574 382h3v3h-3zM574 359h3v3h-3zM574 356h3v3h-3zM574 349h3v3h-3zM574 346h3v3h-3zM574 343h3v3h-3zM574 339h3v3h-3zM574 334h3v3h-3zM574 327h3v3h-3zM574 321h3v3h-3zM574 314h3v3h-3zM574 308h3v3h-3zM574 301h3v3h-3zM574 298h3v3h-3zM574 294h3v3h-3zM574 288h3v3h-3zM574 285h3v3h-3zM574 281h3v3h-3zM574 278h3v3h-3zM574 271h3v3h-3zM574 265h3v3h-3zM574 262h3v3h-3zM574 258h3v3h-3zM574 255h3v3h-3zM574 252h3v3h-3zM574 248h3v3h-3zM574 242h3v3h-3zM574 235h3v3h-3zM574 232h3v3h-3zM574 229h3v3h-3zM574 219h3v3h-3zM574 216h3v3h-3zM574 212h3v3h-3zM574 209h3v3h-3zM574 199h3v3h-3zM574 196h3v3h-3zM574 189h3v3h-3zM574 186h3v3h-3zM574 173h3v3h-3zM574 153h3v3h-3zM574 130h3v3h-3zM577 560h3v3h-3zM580 278h3v3h-3zM580 242h3v3h-3zM583 566h3v3h-3zM583 481h3v3h-3zM587 556h3v3h-3zM587 547h3v3h-3zM587 291h3v3h-3zM587 288h3v3h-3zM587 248h3v3h-3zM590 337h3v2h-3zM590 334h3v3h-3zM590 304h3v3h-3zM590 301h3v3h-3zM593 428h3v3h-3zM593 405h3v3h-3zM593 382h3v3h-3zM593 339h3v3h-3zM593 331h3v3h-3zM593 314h3v3h-3zM593 308h3v3h-3zM593 304h3v3h-3zM593 301h3v3h-3zM593 298h3v3h-3zM593 294h3v3h-3zM593 291h3v3h-3zM593 288h3v3h-3zM593 285h3v3h-3zM593 281h3v3h-3zM593 278h3v3h-3zM593 275h3v3h-3zM593 271h3v3h-3zM593 268h3v3h-3zM593 265h3v3h-3zM593 262h3v3h-3zM593 258h3v3h-3zM593 252h3v3h-3zM593 248h3v3h-3zM593 245h3v3h-3zM593 242h3v3h-3zM593 235h3v3h-3zM593 232h3v3h-3zM593 219h3v3h-3zM593 209h3v3h-3zM593 206h3v3h-3zM593 202h3v3h-3zM593 199h3v3h-3zM593 196h3v3h-3zM593 176h3v3h-3zM593 114h3v3h-3zM603 229h3v3h-3zM603 225h3v3h-3zM613 537h3v3h-3zM613 428h3v3h-3zM613 304h3v3h-3zM613 298h3v3h-3zM613 291h3v3h-3zM613 285h3v3h-3zM613 281h3v3h-3zM613 278h3v3h-3zM613 271h3v3h-3zM613 258h3v3h-3zM616 573h3v3h-3zM616 533h3v3h-3zM616 481h3v3h-3zM616 477h3v3h-3zM616 412h3v3h-3zM616 402h3v3h-3zM616 399h3v3h-3zM616 366h3v3h-3zM616 308h3v3h-3zM616 288h3v3h-3zM616 153h3v3h-3zM620 291h3v3h-3zM620 278h3v3h-3zM620 275h3v3h-3zM620 271h3v3h-3zM620 265h3v3h-3zM620 252h3v3h-3zM620 248h3v3h-3zM620 245h3v3h-3zM620 242h3v3h-3zM620 239h3v3h-3zM620 235h3v3h-3zM620 232h3v3h-3zM620 225h3v3h-3zM623 298h3v3h-3zM626 271h3v3h-3zM626 239h3v3h-3zM630 405h3v3h-3zM630 356h3v3h-3zM630 353h3v3h-3zM630 343h3v3h-3zM630 339h3v3h-3zM630 334h3v3h-3zM630 331h3v3h-3zM630 327h3v3h-3zM630 321h3v3h-3zM630 317h3v3h-3zM630 308h3v3h-3zM630 301h3v3h-3zM630 298h3v3h-3zM630 291h3v3h-3zM630 288h3v3h-3zM630 285h3v3h-3zM630 278h3v3h-3zM630 275h3v3h-3zM630 271h3v3h-3zM630 268h3v3h-3zM630 262h3v3h-3zM630 258h3v3h-3zM630 255h3v3h-3zM630 252h3v3h-3zM630 248h3v3h-3zM630 245h3v3h-3zM630 239h3v3h-3zM630 232h3v3h-3zM630 229h3v3h-3zM630 225h3v3h-3zM630 219h3v3h-3zM630 216h3v3h-3zM633 579h3v3h-3zM633 576h3v3h-3zM633 573h3v3h-3zM633 560h3v3h-3zM633 556h3v3h-3zM633 530h3v3h-3zM633 491h3v3h-3zM633 477h3v3h-3zM633 461h3v3h-3zM633 458h3v3h-3zM633 451h3v3h-3zM633 448h3v3h-3zM633 445h3v3h-3zM633 441h3v3h-3zM633 438h3v3h-3zM633 435h3v3h-3zM633 425h3v3h-3zM633 422h3v3h-3zM633 418h3v3h-3zM633 408h3v3h-3zM633 405h3v3h-3zM633 337h3v2h-3zM633 334h3v3h-3zM633 331h3v3h-3zM633 327h3v3h-3zM633 317h3v3h-3zM633 255h3v3h-3zM633 252h3v3h-3zM633 248h3v3h-3zM633 245h3v3h-3zM633 242h3v3h-3zM633 239h3v3h-3zM633 235h3v3h-3zM633 232h3v3h-3zM633 229h3v3h-3zM633 225h3v3h-3zM633 222h3v3h-3zM633 216h3v3h-3zM633 212h3v3h-3zM633 209h3v3h-3zM633 202h3v3h-3zM633 189h3v3h-3zM633 183h3v3h-3zM633 179h3v3h-3zM633 176h3v3h-3zM633 173h3v3h-3zM633 170h3v3h-3zM633 150h3v3h-3zM633 143h3v3h-3zM636 573h3v3h-3zM636 547h3v3h-3zM636 537h3v3h-3zM636 530h3v3h-3zM636 464h3v3h-3zM636 454h3v3h-3zM636 431h3v3h-3zM636 425h3v3h-3zM636 366h3v3h-3zM636 349h3v3h-3zM636 314h3v3h-3zM636 285h3v3h-3zM636 275h3v3h-3zM639 311h3v3h-3zM639 308h3v3h-3zM646 425h3v3h-3zM646 379h3v3h-3zM646 337h3v2h-3zM646 314h3v3h-3zM646 311h3v3h-3zM646 308h3v3h-3zM646 304h3v3h-3zM646 298h3v3h-3zM646 294h3v3h-3zM646 291h3v3h-3zM646 288h3v3h-3zM646 285h3v3h-3zM646 255h3v3h-3zM646 242h3v3h-3zM649 573h3v3h-3zM649 566h3v3h-3zM649 560h3v3h-3zM649 556h3v3h-3zM649 527h3v3h-3zM649 520h3v3h-3zM649 517h3v3h-3zM649 500h3v3h-3zM649 497h3v3h-3zM649 494h3v3h-3zM649 491h3v3h-3zM649 487h3v3h-3zM649 477h3v3h-3zM649 471h3v3h-3zM649 468h3v3h-3zM649 425h3v3h-3zM649 418h3v3h-3zM649 408h3v3h-3zM649 405h3v3h-3zM649 402h3v3h-3zM649 399h3v3h-3zM649 395h3v3h-3zM649 392h3v3h-3zM649 389h3v3h-3zM649 372h3v3h-3zM649 353h3v3h-3zM649 349h3v3h-3zM649 346h3v3h-3zM649 343h3v3h-3zM649 337h3v2h-3zM649 331h3v3h-3zM649 327h3v3h-3zM649 324h3v3h-3zM649 321h3v3h-3zM649 317h3v3h-3zM649 225h3v3h-3zM649 222h3v3h-3zM649 219h3v3h-3zM649 216h3v3h-3zM649 193h3v3h-3zM649 189h3v3h-3zM649 186h3v3h-3zM649 176h3v3h-3zM649 160h3v3h-3zM649 120h3v3h-3zM649 114h3v3h-3zM649 104h3v3h-3zM653 573h3v3h-3zM653 563h3v3h-3zM653 560h3v3h-3zM653 553h3v3h-3zM653 543h3v3h-3zM653 540h3v3h-3zM653 537h3v3h-3zM653 530h3v3h-3zM653 500h3v3h-3zM653 491h3v3h-3zM653 464h3v3h-3zM653 441h3v3h-3zM653 438h3v3h-3zM653 435h3v3h-3zM653 431h3v3h-3zM653 405h3v3h-3zM653 402h3v3h-3zM653 399h3v3h-3zM653 372h3v3h-3zM653 369h3v3h-3zM653 366h3v3h-3zM653 356h3v3h-3zM653 353h3v3h-3zM653 349h3v3h-3zM653 346h3v3h-3zM653 343h3v3h-3zM653 337h3v2h-3zM653 334h3v3h-3zM653 321h3v3h-3zM653 317h3v3h-3zM653 314h3v3h-3zM653 311h3v3h-3zM653 308h3v3h-3zM653 294h3v3h-3zM653 291h3v3h-3zM653 268h3v3h-3zM653 262h3v3h-3zM653 252h3v3h-3zM653 248h3v3h-3zM653 245h3v3h-3zM653 242h3v3h-3zM653 239h3v3h-3zM653 235h3v3h-3zM653 232h3v3h-3zM653 229h3v3h-3zM653 222h3v3h-3zM653 219h3v3h-3zM653 216h3v3h-3zM653 212h3v3h-3zM653 196h3v3h-3zM653 193h3v3h-3zM653 186h3v3h-3zM653 183h3v3h-3zM653 179h3v3h-3zM653 170h3v3h-3zM653 140h3v3h-3zM653 117h3v3h-3zM653 94h3v3h-3zM656 346h3v3h-3zM656 321h3v3h-3zM662 311h3v3h-3zM662 308h3v3h-3zM662 294h3v3h-3zM662 291h3v3h-3zM666 308h3v3h-3zM666 304h3v3h-3zM666 248h3v3h-3zM669 242h3v3h-3zM669 209h3v3h-3zM689 579h3v3h-3zM689 553h3v3h-3zM689 487h3v3h-3zM689 425h3v3h-3zM689 408h3v3h-3zM689 362h3v3h-3zM689 321h3v3h-3zM689 317h3v3h-3zM689 314h3v3h-3zM689 308h3v3h-3zM689 304h3v3h-3zM689 301h3v3h-3zM689 298h3v3h-3zM689 294h3v3h-3zM689 265h3v3h-3zM689 258h3v3h-3zM689 252h3v3h-3zM689 248h3v3h-3zM689 245h3v3h-3zM689 242h3v3h-3zM689 239h3v3h-3zM689 235h3v3h-3zM689 222h3v3h-3zM689 202h3v3h-3zM689 179h3v3h-3zM689 124h3v3h-3zM692 278h3v3h-3zM692 275h3v3h-3zM692 262h3v3h-3zM699 294h3v3h-3zM702 285h3v3h-3zM702 281h3v3h-3zM702 278h3v3h-3zM702 275h3v3h-3zM702 265h3v3h-3zM702 262h3v3h-3zM702 258h3v3h-3zM702 255h3v3h-3zM705 428h3v3h-3zM705 294h3v3h-3zM705 291h3v3h-3zM705 288h3v3h-3zM705 285h3v3h-3zM705 275h3v3h-3zM705 271h3v3h-3zM705 265h3v3h-3zM705 262h3v3h-3zM705 258h3v3h-3zM705 255h3v3h-3zM705 252h3v3h-3zM705 248h3v3h-3zM705 242h3v3h-3zM705 229h3v3h-3zM705 225h3v3h-3zM705 202h3v3h-3zM709 278h3v3h-3zM709 268h3v3h-3zM709 255h3v3h-3zM712 271h3v3h-3zM712 262h3v3h-3zM712 245h3v3h-3zM712 235h3v3h-3zM715 291h3v3h-3zM715 278h3v3h-3zM718 304h3v3h-3zM718 281h3v3h-3zM718 262h3v3h-3zM718 248h3v3h-3z"/>
<path fill="#80c0ff" d="M94 576h3v3h-3zM94 570h3v3h-3zM94 566h3v3h-3zM94 560h3v3h-3zM97 576h3v3h-3zM97 570h3v3h-3zM97 566h3v3h-3zM97 563h3v3h-3zM97 560h3v3h-3zM97 556h3v3h-3zM101 540h3v3h-3zM101 537h3v3h-3zM101 533h3v3h-3zM101 530h3v3h-3zM101 527h3v3h-3zM101 524h3v3h-3zM101 520h3v3h-3zM101 517h3v3h-3zM101 514h3v3h-3zM101 510h3v3h-3zM101 507h3v3h-3zM101 504h3v3h-3zM101 500h3v3h-3zM101 494h3v3h-3zM101 491h3v3h-3zM101 487h3v3h-3zM101 484h3v3h-3zM101 481h3v3h-3zM101 477h3v3h-3zM101 474h3v3h-3zM101 471h3v3h-3zM101 468h3v3h-3zM101 464h3v3h-3zM101 461h3v3h-3zM101 458h3v3h-3zM101 454h3v3h-3zM101 451h3v3h-3zM101 445h3v3h-3zM101 441h3v3h-3zM101 438h3v3h-3zM101 435h3v3h-3zM101 431h3v3h-3zM101 428h3v3h-3zM101 425h3v3h-3zM101 422h3v3h-3zM101 418h3v3h-3zM101 415h3v3h-3zM101 412h3v3h-3zM101 405h3v3h-3zM101 402h3v3h-3zM101 399h3v3h-3zM101 389h3v3h-3zM101 385h3v3h-3zM101 382h3v3h-3zM101 379h3v3h-3zM101 369h3v3h-3zM101 366h3v3h-3zM101 362h3v3h-3zM101 359h3v3h-3zM101 353h3v3h-3zM101 349h3v3h-3zM101 346h3v3h-3zM101 337h3v2h-3zM101 334h3v3h-3zM101 331h3v3h-3zM101 327h3v3h-3zM101 324h3v3h-3zM101 321h3v3h-3zM101 317h3v3h-3zM101 314h3v3h-3zM101 311h3v3h-3zM101 308h3v3h-3zM101 304h3v3h-3zM101 291h3v3h-3zM101 275h3v3h-3zM104 576h3v3h-3zM104 570h3v3h-3zM104 566h3v3h-3zM104 563h3v3h-3zM104 560h3v3h-3zM104 464h3v3h-3zM104 461h3v3h-3zM104 431h3v3h-3zM104 425h3v3h-3zM107 579h3v3h-3zM107 576h3v3h-3zM107 540h3v3h-3zM107 537h3v3h-3zM107 533h3v3h-3zM107 530h3v3h-3zM107 527h3v3h-3zM107 524h3v3h-3zM107 520h3v3h-3zM107 517h3v3h-3zM107 514h3v3h-3zM107 510h3v3h-3zM107 507h3v3h-3zM107 504h3v3h-3zM107 500h3v3h-3zM107 497h3v3h-3zM107 494h3v3h-3zM107 491h3v3h-3zM107 487h3v3h-3zM107 484h3v3h-3zM107 481h3v3h-3zM107 477h3v3h-3zM107 468h3v3h-3zM107 464h3v3h-3zM107 461h3v3h-3zM107 458h3v3h-3zM107 454h3v3h-3zM107 438h3v3h-3zM107 431h3v3h-3zM107 428h3v3h-3zM107 425h3v3h-3zM107 422h3v3h-3zM107 412h3v3h-3zM107 408h3v3h-3zM107 405h3v3h-3zM107 402h3v3h-3zM107 382h3v3h-3zM107 379h3v3h-3zM107 376h3v3h-3zM107 372h3v3h-3zM107 359h3v3h-3zM107 321h3v3h-3zM107 317h3v3h-3zM107 308h3v3h-3zM107 304h3v3h-3zM110 576h3v3h-3zM110 573h3v3h-3zM110 570h3v3h-3zM110 553h3v3h-3zM110 550h3v3h-3zM110 547h3v3h-3zM110 497h3v3h-3zM110 494h3v3h-3zM110 491h3v3h-3zM110 487h3v3h-3zM110 471h3v3h-3zM110 468h3v3h-3zM110 464h3v3h-3zM110 441h3v3h-3zM110 438h3v3h-3zM110 435h3v3h-3zM110 431h3v3h-3zM110 428h3v3h-3zM110 408h3v3h-3zM110 405h3v3h-3zM110 311h3v3h-3zM110 308h3v3h-3zM110 304h3v3h-3zM114 573h3v3h-3zM114 543h3v3h-3zM114 540h3v3h-3zM114 537h3v3h-3zM114 533h3v3h-3zM114 524h3v3h-3zM114 520h3v3h-3zM114 517h3v3h-3zM114 514h3v3h-3zM114 507h3v3h-3zM114 500h3v3h-3zM114 491h3v3h-3zM114 477h3v3h-3zM114 468h3v3h-3zM114 461h3v3h-3zM114 454h3v3h-3zM114 428h3v3h-3zM114 425h3v3h-3zM117 566h3v3h-3zM117 563h3v3h-3zM117 547h3v3h-3zM117 543h3v3h-3zM117 540h3v3h-3zM117 537h3v3h-3zM117 533h3v3h-3zM117 530h3v3h-3zM120 579h3v3h-3zM120 576h3v3h-3zM120 537h3v3h-3zM120 533h3v3h-3zM120 530h3v3h-3zM120 527h3v3h-3zM120 524h3v3h-3zM120 520h3v3h-3zM120 517h3v3h-3zM120 507h3v3h-3zM120 500h3v3h-3zM120 491h3v3h-3zM120 484h3v3h-3zM120 477h3v3h-3zM120 474h3v3h-3zM120 471h3v3h-3zM120 468h3v3h-3zM120 464h3v3h-3zM120 461h3v3h-3zM120 458h3v3h-3zM120 454h3v3h-3zM120 451h3v3h-3zM120 441h3v3h-3zM120 435h3v3h-3zM120 431h3v3h-3zM120 428h3v3h-3zM120 422h3v3h-3zM120 405h3v3h-3zM120 395h3v3h-3zM120 389h3v3h-3zM124 579h3v3h-3zM124 573h3v3h-3zM124 566h3v3h-3zM124 563h3v3h-3zM124 540h3v3h-3zM124 537h3v3h-3zM124 533h3v3h-3zM124 530h3v3h-3zM127 576h3v3h-3zM127 573h3v3h-3zM127 563h3v3h-3zM127 530h3v3h-3zM127 527h3v3h-3zM127 524h3v3h-3zM127 520h3v3h-3zM127 517h3v3h-3zM127 514h3v3h-3zM127 497h3v3h-3zM127 494h3v3h-3zM127 491h3v3h-3zM127 481h3v3h-3zM127 477h3v3h-3zM127 468h3v3h-3zM127 428h3v3h-3zM127 405h3v3h-3zM130 573h3v3h-3zM130 566h3v3h-3zM130 560h3v3h-3zM130 553h3v3h-3zM130 537h3v3h-3zM130 533h3v3h-3zM130 530h3v3h-3zM130 527h3v3h-3zM130 497h3v3h-3zM133 573h3v3h-3zM133 566h3v3h-3zM133 563h3v3h-3zM133 560h3v3h-3zM133 553h3v3h-3zM133 533h3v3h-3zM133 530h3v3h-3zM133 527h3v3h-3zM133 524h3v3h-3zM133 520h3v3h-3zM137 550h3v3h-3zM137 537h3v3h-3zM137 530h3v3h-3zM137 527h3v3h-3zM140 579h3v3h-3zM140 576h3v3h-3zM140 570h3v3h-3zM140 520h3v3h-3zM140 517h3v3h-3zM140 514h3v3h-3zM140 510h3v3h-3zM140 507h3v3h-3zM140 504h3v3h-3zM140 500h3v3h-3zM140 487h3v3h-3zM140 484h3v3h-3zM140 464h3v3h-3zM140 458h3v3h-3zM140 448h3v3h-3zM140 445h3v3h-3zM140 441h3v3h-3zM140 438h3v3h-3zM140 422h3v3h-3zM140 415h3v3h-3zM140 412h3v3h-3zM140 408h3v3h-3zM140 405h3v3h-3zM140 402h3v3h-3zM140 399h3v3h-3zM140 395h3v3h-3zM140 389h3v3h-3zM140 385h3v3h-3zM140 372h3v3h-3zM140 369h3v3h-3zM140 366h3v3h-3zM140 349h3v3h-3zM140 346h3v3h-3zM140 324h3v3h-3zM140 321h3v3h-3zM140 317h3v3h-3zM140 314h3v3h-3zM140 311h3v3h-3zM140 301h3v3h-3zM143 550h3v3h-3zM143 524h3v3h-3zM143 520h3v3h-3zM143 510h3v3h-3zM143 507h3v3h-3zM143 500h3v3h-3zM143 497h3v3h-3zM143 494h3v3h-3zM143 477h3v3h-3zM143 464h3v3h-3zM147 573h3v3h-3zM147 570h3v3h-3zM147 566h3v3h-3zM147 563h3v3h-3zM147 560h3v3h-3zM147 556h3v3h-3zM147 550h3v3h-3zM147 547h3v3h-3zM147 533h3v3h-3zM147 530h3v3h-3zM147 527h3v3h-3zM147 524h3v3h-3zM147 517h3v3h-3zM147 514h3v3h-3zM147 395h3v3h-3zM147 369h3v3h-3zM150 566h3v3h-3zM150 560h3v3h-3zM150 550h3v3h-3zM150 547h3v3h-3zM150 543h3v3h-3zM150 524h3v3h-3zM150 520h3v3h-3zM150 517h3v3h-3zM150 514h3v3h-3zM150 500h3v3h-3zM150 497h3v3h-3zM150 494h3v3h-3zM150 431h3v3h-3zM153 563h3v3h-3zM153 540h3v3h-3zM153 537h3v3h-3zM153 533h3v3h-3zM153 530h3v3h-3zM153 527h3v3h-3zM153 524h3v3h-3zM153 520h3v3h-3zM153 517h3v3h-3zM153 514h3v3h-3zM153 510h3v3h-3zM157 540h3v3h-3zM157 537h3v3h-3zM157 530h3v3h-3zM157 527h3v3h-3zM157 524h3v3h-3zM157 520h3v3h-3zM157 517h3v3h-3zM157 514h3v3h-3zM157 510h3v3h-3zM157 507h3v3h-3zM160 550h3v3h-3zM160 547h3v3h-3zM160 540h3v3h-3zM160 537h3v3h-3zM160 533h3v3h-3zM160 530h3v3h-3zM160 527h3v3h-3zM160 524h3v3h-3zM160 517h3v3h-3zM160 514h3v3h-3zM160 510h3v3h-3zM160 507h3v3h-3zM160 504h3v3h-3zM163 530h3v3h-3zM163 527h3v3h-3zM163 524h3v3h-3zM163 520h3v3h-3zM163 517h3v3h-3zM163 514h3v3h-3zM166 573h3v3h-3zM166 566h3v3h-3zM166 556h3v3h-3zM166 543h3v3h-3zM166 540h3v3h-3zM166 537h3v3h-3zM166 517h3v3h-3zM166 514h3v3h-3zM166 468h3v3h-3zM170 547h3v3h-3zM170 530h3v3h-3zM170 527h3v3h-3zM170 524h3v3h-3zM170 520h3v3h-3zM170 517h3v3h-3zM170 514h3v3h-3zM170 497h3v3h-3zM173 550h3v3h-3zM173 543h3v3h-3zM173 537h3v3h-3zM173 533h3v3h-3zM173 530h3v3h-3zM173 527h3v3h-3zM173 524h3v3h-3zM173 520h3v3h-3zM173 517h3v3h-3zM173 514h3v3h-3zM176 566h3v3h-3zM176 556h3v3h-3zM176 550h3v3h-3zM176 537h3v3h-3zM176 533h3v3h-3zM176 530h3v3h-3zM176 527h3v3h-3zM176 507h3v3h-3zM176 504h3v3h-3zM176 497h3v3h-3zM176 494h3v3h-3zM176 491h3v3h-3zM176 487h3v3h-3zM176 484h3v3h-3zM176 481h3v3h-3zM176 477h3v3h-3zM176 474h3v3h-3zM176 471h3v3h-3zM176 468h3v3h-3zM176 464h3v3h-3zM176 461h3v3h-3zM176 451h3v3h-3zM176 448h3v3h-3zM176 438h3v3h-3zM176 431h3v3h-3zM180 533h3v3h-3zM180 530h3v3h-3zM180 527h3v3h-3zM180 524h3v3h-3zM180 517h3v3h-3zM180 510h3v3h-3zM180 507h3v3h-3zM180 504h3v3h-3zM183 530h3v3h-3zM183 527h3v3h-3zM183 524h3v3h-3zM183 520h3v3h-3zM183 517h3v3h-3zM183 514h3v3h-3zM183 510h3v3h-3zM183 507h3v3h-3zM183 500h3v3h-3zM183 497h3v3h-3zM183 494h3v3h-3zM183 491h3v3h-3zM183 487h3v3h-3zM183 484h3v3h-3zM186 510h3v3h-3zM186 507h3v3h-3zM186 504h3v3h-3zM189 510h3v3h-3zM193 520h3v3h-3zM193 517h3v3h-3zM193 514h3v3h-3zM193 510h3v3h-3zM193 507h3v3h-3zM193 500h3v3h-3zM193 497h3v3h-3zM193 494h3v3h-3zM193 491h3v3h-3zM193 487h3v3h-3zM193 435h3v3h-3zM199 507h3v3h-3zM199 497h3v3h-3zM199 487h3v3h-3zM206 579h3v3h-3zM206 566h3v3h-3zM206 556h3v3h-3zM206 514h3v3h-3zM206 510h3v3h-3zM206 507h3v3h-3zM206 504h3v3h-3zM206 500h3v3h-3zM206 497h3v3h-3zM206 494h3v3h-3zM206 399h3v3h-3zM209 520h3v3h-3zM209 517h3v3h-3zM209 514h3v3h-3zM209 504h3v3h-3zM209 500h3v3h-3zM209 497h3v3h-3zM212 517h3v3h-3zM212 514h3v3h-3zM212 500h3v3h-3zM212 497h3v3h-3zM212 494h3v3h-3zM216 520h3v3h-3zM216 517h3v3h-3zM216 514h3v3h-3zM216 510h3v3h-3zM216 507h3v3h-3zM216 494h3v3h-3zM216 428h3v3h-3zM219 504h3v3h-3zM219 500h3v3h-3zM219 497h3v3h-3zM219 494h3v3h-3zM219 491h3v3h-3zM226 491h3v3h-3zM226 487h3v3h-3zM226 484h3v3h-3zM229 497h3v3h-3zM229 491h3v3h-3zM229 487h3v3h-3zM229 484h3v3h-3zM229 481h3v3h-3zM229 477h3v3h-3zM229 474h3v3h-3zM232 487h3v3h-3zM232 484h3v3h-3zM232 481h3v3h-3zM232 477h3v3h-3zM232 474h3v3h-3zM232 471h3v3h-3zM239 477h3v3h-3zM242 504h3v3h-3zM242 497h3v3h-3zM242 448h3v3h-3zM242 445h3v3h-3zM242 441h3v3h-3zM242 431h3v3h-3zM249 471h3v3h-3zM249 468h3v3h-3zM249 464h3v3h-3zM249 461h3v3h-3zM249 458h3v3h-3zM249 454h3v3h-3zM255 497h3v3h-3zM255 494h3v3h-3zM255 487h3v3h-3zM255 451h3v3h-3zM259 579h3v3h-3zM259 570h3v3h-3zM259 563h3v3h-3zM259 560h3v3h-3zM259 556h3v3h-3zM259 553h3v3h-3zM259 550h3v3h-3zM259 547h3v3h-3zM259 543h3v3h-3zM259 540h3v3h-3zM259 504h3v3h-3zM259 500h3v3h-3zM259 484h3v3h-3zM259 471h3v3h-3zM259 468h3v3h-3zM259 458h3v3h-3zM259 448h3v3h-3zM259 445h3v3h-3zM259 441h3v3h-3zM259 438h3v3h-3zM259 415h3v3h-3zM259 412h3v3h-3zM259 408h3v3h-3zM259 405h3v3h-3zM259 402h3v3h-3zM259 399h3v3h-3zM259 395h3v3h-3zM259 392h3v3h-3zM259 389h3v3h-3zM259 385h3v3h-3zM259 382h3v3h-3zM259 379h3v3h-3zM259 369h3v3h-3zM259 362h3v3h-3zM259 359h3v3h-3zM259 356h3v3h-3zM259 349h3v3h-3zM259 346h3v3h-3zM259 343h3v3h-3zM259 339h3v3h-3zM259 337h3v2h-3zM259 334h3v3h-3zM259 331h3v3h-3zM259 327h3v3h-3zM259 324h3v3h-3zM259 321h3v3h-3zM259 317h3v3h-3zM259 314h3v3h-3zM259 311h3v3h-3zM259 308h3v3h-3zM259 304h3v3h-3zM259 301h3v3h-3zM259 298h3v3h-3zM259 294h3v3h-3zM259 291h3v3h-3zM259 288h3v3h-3zM259 281h3v3h-3zM259 271h3v3h-3zM259 268h3v3h-3zM259 242h3v3h-3zM259 239h3v3h-3zM259 219h3v3h-3zM262 504h3v3h-3zM262 500h3v3h-3zM262 497h3v3h-3zM262 494h3v3h-3zM262 468h3v3h-3zM262 464h3v3h-3zM262 461h3v3h-3zM262 458h3v3h-3zM262 454h3v3h-3zM262 451h3v3h-3zM262 448h3v3h-3zM262 445h3v3h-3zM262 441h3v3h-3zM262 428h3v3h-3zM265 497h3v3h-3zM265 494h3v3h-3zM265 491h3v3h-3zM265 487h3v3h-3zM265 477h3v3h-3zM265 474h3v3h-3zM265 468h3v3h-3zM265 461h3v3h-3zM265 445h3v3h-3zM265 431h3v3h-3zM268 573h3v3h-3zM268 566h3v3h-3zM268 560h3v3h-3zM268 556h3v3h-3zM268 484h3v3h-3zM268 481h3v3h-3zM268 477h3v3h-3zM268 474h3v3h-3zM268 471h3v3h-3zM268 451h3v3h-3zM268 448h3v3h-3zM268 445h3v3h-3zM268 441h3v3h-3zM268 438h3v3h-3zM268 435h3v3h-3zM268 431h3v3h-3zM268 428h3v3h-3zM268 425h3v3h-3zM268 422h3v3h-3zM268 418h3v3h-3zM272 579h3v3h-3zM272 573h3v3h-3zM272 566h3v3h-3zM272 563h3v3h-3zM272 500h3v3h-3zM272 438h3v3h-3zM272 435h3v3h-3zM272 422h3v3h-3zM272 418h3v3h-3zM272 415h3v3h-3zM275 573h3v3h-3zM275 556h3v3h-3zM275 553h3v3h-3zM275 530h3v3h-3zM275 497h3v3h-3zM275 494h3v3h-3zM275 491h3v3h-3zM275 487h3v3h-3zM275 484h3v3h-3zM275 481h3v3h-3zM275 477h3v3h-3zM275 474h3v3h-3zM275 468h3v3h-3zM275 464h3v3h-3zM275 461h3v3h-3zM275 458h3v3h-3zM275 454h3v3h-3zM275 451h3v3h-3zM275 448h3v3h-3zM275 438h3v3h-3zM275 431h3v3h-3zM275 428h3v3h-3zM275 425h3v3h-3zM275 422h3v3h-3zM275 408h3v3h-3zM278 579h3v3h-3zM278 570h3v3h-3zM278 563h3v3h-3zM278 560h3v3h-3zM278 553h3v3h-3zM278 550h3v3h-3zM278 543h3v3h-3zM278 540h3v3h-3zM278 537h3v3h-3zM278 533h3v3h-3zM278 530h3v3h-3zM278 527h3v3h-3zM278 517h3v3h-3zM278 514h3v3h-3zM278 504h3v3h-3zM278 454h3v3h-3zM278 448h3v3h-3zM278 445h3v3h-3zM278 428h3v3h-3zM278 422h3v3h-3zM278 418h3v3h-3zM278 415h3v3h-3zM278 402h3v3h-3zM278 395h3v3h-3zM278 389h3v3h-3zM278 379h3v3h-3zM278 339h3v3h-3zM278 321h3v3h-3zM278 317h3v3h-3zM278 285h3v3h-3zM282 579h3v3h-3zM282 576h3v3h-3zM282 570h3v3h-3zM282 566h3v3h-3zM282 563h3v3h-3zM282 560h3v3h-3zM282 556h3v3h-3zM282 547h3v3h-3zM282 500h3v3h-3zM282 461h3v3h-3zM282 448h3v3h-3zM282 445h3v3h-3zM282 441h3v3h-3zM282 438h3v3h-3zM282 422h3v3h-3zM282 418h3v3h-3zM282 415h3v3h-3zM282 412h3v3h-3zM282 408h3v3h-3zM282 405h3v3h-3zM282 402h3v3h-3zM282 379h3v3h-3zM282 349h3v3h-3zM282 343h3v3h-3zM282 339h3v3h-3zM282 337h3v2h-3zM282 334h3v3h-3zM282 321h3v3h-3zM282 317h3v3h-3zM282 314h3v3h-3zM282 311h3v3h-3zM285 497h3v3h-3zM285 494h3v3h-3zM285 491h3v3h-3zM285 487h3v3h-3zM285 484h3v3h-3zM285 481h3v3h-3zM285 477h3v3h-3zM285 474h3v3h-3zM285 471h3v3h-3zM285 468h3v3h-3zM285 464h3v3h-3zM285 428h3v3h-3zM285 422h3v3h-3zM288 484h3v3h-3zM288 481h3v3h-3zM288 477h3v3h-3zM288 474h3v3h-3zM288 471h3v3h-3zM288 468h3v3h-3zM288 464h3v3h-3zM288 458h3v3h-3zM291 573h3v3h-3zM291 566h3v3h-3zM291 497h3v3h-3zM291 494h3v3h-3zM291 484h3v3h-3zM291 481h3v3h-3zM291 477h3v3h-3zM291 474h3v3h-3zM291 471h3v3h-3zM291 468h3v3h-3zM291 464h3v3h-3zM291 461h3v3h-3zM291 451h3v3h-3zM291 448h3v3h-3zM291 445h3v3h-3zM291 441h3v3h-3zM291 438h3v3h-3zM291 435h3v3h-3zM291 385h3v3h-3zM295 576h3v3h-3zM295 566h3v3h-3zM295 497h3v3h-3zM295 494h3v3h-3zM295 491h3v3h-3zM295 484h3v3h-3zM295 468h3v3h-3zM295 464h3v3h-3zM295 461h3v3h-3zM295 458h3v3h-3zM295 454h3v3h-3zM295 451h3v3h-3zM295 448h3v3h-3zM295 445h3v3h-3zM295 441h3v3h-3zM295 438h3v3h-3zM295 435h3v3h-3zM295 431h3v3h-3zM295 428h3v3h-3zM295 425h3v3h-3zM295 422h3v3h-3zM295 418h3v3h-3zM295 415h3v3h-3zM295 412h3v3h-3zM295 408h3v3h-3zM295 405h3v3h-3zM295 402h3v3h-3zM295 399h3v3h-3zM295 395h3v3h-3zM295 392h3v3h-3zM295 389h3v3h-3zM295 343h3v3h-3zM295 339h3v3h-3zM298 491h3v3h-3zM298 487h3v3h-3zM298 484h3v3h-3zM298 481h3v3h-3zM298 477h3v3h-3zM298 474h3v3h-3zM298 468h3v3h-3zM298 464h3v3h-3zM298 461h3v3h-3zM298 458h3v3h-3zM298 454h3v3h-3zM298 451h3v3h-3zM298 445h3v3h-3zM298 441h3v3h-3zM298 438h3v3h-3zM298 435h3v3h-3zM298 431h3v3h-3zM298 428h3v3h-3zM301 494h3v3h-3zM301 477h3v3h-3zM301 474h3v3h-3zM301 471h3v3h-3zM301 468h3v3h-3zM301 464h3v3h-3zM301 461h3v3h-3zM301 458h3v3h-3zM301 451h3v3h-3zM301 448h3v3h-3zM301 438h3v3h-3zM301 425h3v3h-3zM301 392h3v3h-3zM305 477h3v3h-3zM305 474h3v3h-3zM305 471h3v3h-3zM305 468h3v3h-3zM305 464h3v3h-3zM305 461h3v3h-3zM305 458h3v3h-3zM305 454h3v3h-3zM305 451h3v3h-3zM305 448h3v3h-3zM305 445h3v3h-3zM305 441h3v3h-3zM305 438h3v3h-3zM305 435h3v3h-3zM305 431h3v3h-3zM305 428h3v3h-3zM305 425h3v3h-3zM305 422h3v3h-3zM305 418h3v3h-3zM305 415h3v3h-3zM305 412h3v3h-3zM305 408h3v3h-3zM308 566h3v3h-3zM308 563h3v3h-3zM308 556h3v3h-3zM308 547h3v3h-3zM308 497h3v3h-3zM308 481h3v3h-3zM308 451h3v3h-3zM308 445h3v3h-3zM308 435h3v3h-3zM308 431h3v3h-3zM308 418h3v3h-3zM308 415h3v3h-3zM308 412h3v3h-3zM308 408h3v3h-3zM308 405h3v3h-3zM308 402h3v3h-3zM308 399h3v3h-3zM308 395h3v3h-3zM308 392h3v3h-3zM308 376h3v3h-3zM308 356h3v3h-3zM308 339h3v3h-3zM308 334h3v3h-3zM308 331h3v3h-3zM308 327h3v3h-3zM308 324h3v3h-3zM308 314h3v3h-3zM308 311h3v3h-3zM308 308h3v3h-3zM308 304h3v3h-3zM308 298h3v3h-3zM308 291h3v3h-3zM311 474h3v3h-3zM311 471h3v3h-3zM311 468h3v3h-3zM311 464h3v3h-3zM311 461h3v3h-3zM311 458h3v3h-3zM311 454h3v3h-3zM311 451h3v3h-3zM311 448h3v3h-3zM311 445h3v3h-3zM311 441h3v3h-3zM311 438h3v3h-3zM311 435h3v3h-3zM311 418h3v3h-3zM311 395h3v3h-3zM315 491h3v3h-3zM315 481h3v3h-3zM315 471h3v3h-3zM315 464h3v3h-3zM315 461h3v3h-3zM315 458h3v3h-3zM315 451h3v3h-3zM315 448h3v3h-3zM315 445h3v3h-3zM315 435h3v3h-3zM315 428h3v3h-3zM315 425h3v3h-3zM315 422h3v3h-3zM315 418h3v3h-3zM315 415h3v3h-3zM315 412h3v3h-3zM315 408h3v3h-3zM315 405h3v3h-3zM315 402h3v3h-3zM315 399h3v3h-3zM318 497h3v3h-3zM318 494h3v3h-3zM318 477h3v3h-3zM318 474h3v3h-3zM318 468h3v3h-3zM318 464h3v3h-3zM318 461h3v3h-3zM318 458h3v3h-3zM318 454h3v3h-3zM318 451h3v3h-3zM318 448h3v3h-3zM318 445h3v3h-3zM318 441h3v3h-3zM318 428h3v3h-3zM318 425h3v3h-3zM318 422h3v3h-3zM318 418h3v3h-3zM318 415h3v3h-3zM318 379h3v3h-3zM318 376h3v3h-3zM318 372h3v3h-3zM318 369h3v3h-3zM318 366h3v3h-3zM318 362h3v3h-3zM318 359h3v3h-3zM318 356h3v3h-3zM318 353h3v3h-3zM318 349h3v3h-3zM318 346h3v3h-3zM318 339h3v3h-3zM318 337h3v2h-3zM318 304h3v3h-3zM318 301h3v3h-3zM318 298h3v3h-3zM318 294h3v3h-3zM318 291h3v3h-3zM318 288h3v3h-3zM318 285h3v3h-3zM318 281h3v3h-3zM318 278h3v3h-3zM318 275h3v3h-3zM318 271h3v3h-3zM318 268h3v3h-3zM318 265h3v3h-3zM318 262h3v3h-3zM318 258h3v3h-3zM318 255h3v3h-3zM321 573h3v3h-3zM321 566h3v3h-3zM321 563h3v3h-3zM321 560h3v3h-3zM321 556h3v3h-3zM321 553h3v3h-3zM321 547h3v3h-3zM321 540h3v3h-3zM321 497h3v3h-3zM321 494h3v3h-3zM321 491h3v3h-3zM321 481h3v3h-3zM321 477h3v3h-3zM321 474h3v3h-3zM321 468h3v3h-3zM321 458h3v3h-3zM321 454h3v3h-3zM321 451h3v3h-3zM321 448h3v3h-3zM321 445h3v3h-3zM321 441h3v3h-3zM321 438h3v3h-3zM321 435h3v3h-3zM321 431h3v3h-3zM321 428h3v3h-3zM321 425h3v3h-3zM321 422h3v3h-3zM321 418h3v3h-3zM321 415h3v3h-3zM321 412h3v3h-3zM321 408h3v3h-3zM321 405h3v3h-3zM321 402h3v3h-3zM321 399h3v3h-3zM321 392h3v3h-3zM321 389h3v3h-3zM321 385h3v3h-3zM321 382h3v3h-3zM321 379h3v3h-3zM321 376h3v3h-3zM321 372h3v3h-3zM321 369h3v3h-3zM321 366h3v3h-3zM321 356h3v3h-3zM321 353h3v3h-3zM321 346h3v3h-3zM321 337h3v2h-3zM321 334h3v3h-3zM321 331h3v3h-3zM321 327h3v3h-3zM321 324h3v3h-3zM321 321h3v3h-3zM321 314h3v3h-3zM321 298h3v3h-3zM321 291h3v3h-3zM321 288h3v3h-3zM321 285h3v3h-3zM321 281h3v3h-3zM321 278h3v3h-3zM321 275h3v3h-3zM324 556h3v3h-3zM324 471h3v3h-3zM324 468h3v3h-3zM324 464h3v3h-3zM324 461h3v3h-3zM324 458h3v3h-3zM324 454h3v3h-3zM324 451h3v3h-3zM324 448h3v3h-3zM324 445h3v3h-3zM324 441h3v3h-3zM324 438h3v3h-3zM324 435h3v3h-3zM324 431h3v3h-3zM324 428h3v3h-3zM324 425h3v3h-3zM324 422h3v3h-3zM324 418h3v3h-3zM324 415h3v3h-3zM324 412h3v3h-3zM324 408h3v3h-3zM324 405h3v3h-3zM324 402h3v3h-3zM324 399h3v3h-3zM324 395h3v3h-3zM324 389h3v3h-3zM324 385h3v3h-3zM324 382h3v3h-3zM324 379h3v3h-3zM328 573h3v3h-3zM328 570h3v3h-3zM328 566h3v3h-3zM328 563h3v3h-3zM328 560h3v3h-3zM328 556h3v3h-3zM328 553h3v3h-3zM328 550h3v3h-3zM328 547h3v3h-3zM328 543h3v3h-3zM328 540h3v3h-3zM328 533h3v3h-3zM328 520h3v3h-3zM328 500h3v3h-3zM328 497h3v3h-3zM328 494h3v3h-3zM328 491h3v3h-3zM328 487h3v3h-3zM328 484h3v3h-3zM328 481h3v3h-3zM328 474h3v3h-3zM328 471h3v3h-3zM328 468h3v3h-3zM328 464h3v3h-3zM328 461h3v3h-3zM328 458h3v3h-3zM328 454h3v3h-3zM328 451h3v3h-3zM328 448h3v3h-3zM328 445h3v3h-3zM328 441h3v3h-3zM328 438h3v3h-3zM328 435h3v3h-3zM328 422h3v3h-3zM328 418h3v3h-3zM328 415h3v3h-3zM328 412h3v3h-3zM328 408h3v3h-3zM328 405h3v3h-3zM328 402h3v3h-3zM328 399h3v3h-3zM328 395h3v3h-3zM328 392h3v3h-3zM328 389h3v3h-3zM328 385h3v3h-3zM328 382h3v3h-3zM328 379h3v3h-3zM328 376h3v3h-3zM328 372h3v3h-3zM328 369h3v3h-3zM328 366h3v3h-3zM328 362h3v3h-3zM328 359h3v3h-3zM328 343h3v3h-3zM328 339h3v3h-3zM328 334h3v3h-3zM328 327h3v3h-3zM328 324h3v3h-3zM331 573h3v3h-3zM331 566h3v3h-3zM331 560h3v3h-3zM331 556h3v3h-3zM331 497h3v3h-3zM331 494h3v3h-3zM331 491h3v3h-3zM331 487h3v3h-3zM331 484h3v3h-3zM331 481h3v3h-3zM331 471h3v3h-3zM331 468h3v3h-3zM331 464h3v3h-3zM331 451h3v3h-3zM331 448h3v3h-3zM331 445h3v3h-3zM331 441h3v3h-3zM331 438h3v3h-3zM331 435h3v3h-3zM331 422h3v3h-3zM331 418h3v3h-3zM331 415h3v3h-3zM331 412h3v3h-3zM331 408h3v3h-3zM331 405h3v3h-3zM331 402h3v3h-3zM331 399h3v3h-3zM331 395h3v3h-3zM331 392h3v3h-3zM331 389h3v3h-3zM331 385h3v3h-3zM331 382h3v3h-3zM331 379h3v3h-3zM331 376h3v3h-3zM331 372h3v3h-3zM331 362h3v3h-3zM334 487h3v3h-3zM334 471h3v3h-3zM334 464h3v3h-3zM334 461h3v3h-3zM334 458h3v3h-3zM334 454h3v3h-3zM334 451h3v3h-3zM334 448h3v3h-3zM334 445h3v3h-3zM334 441h3v3h-3zM334 438h3v3h-3zM334 435h3v3h-3zM334 408h3v3h-3zM334 405h3v3h-3zM334 402h3v3h-3zM334 399h3v3h-3zM334 395h3v3h-3zM334 392h3v3h-3zM334 379h3v3h-3zM334 376h3v3h-3zM334 372h3v3h-3zM334 369h3v3h-3zM334 366h3v3h-3zM334 362h3v3h-3zM334 359h3v3h-3zM334 356h3v3h-3zM334 353h3v3h-3zM334 349h3v3h-3zM334 346h3v3h-3zM334 343h3v3h-3zM334 339h3v3h-3zM334 337h3v2h-3zM334 334h3v3h-3zM334 331h3v3h-3zM334 327h3v3h-3zM334 324h3v3h-3zM334 321h3v3h-3zM334 317h3v3h-3zM334 314h3v3h-3zM334 311h3v3h-3zM334 308h3v3h-3zM334 304h3v3h-3zM334 301h3v3h-3zM334 298h3v3h-3zM334 294h3v3h-3zM334 291h3v3h-3zM334 288h3v3h-3zM334 285h3v3h-3zM334 281h3v3h-3zM334 278h3v3h-3zM334 275h3v3h-3zM334 271h3v3h-3zM334 268h3v3h-3zM334 265h3v3h-3zM334 262h3v3h-3zM334 258h3v3h-3zM334 255h3v3h-3zM334 248h3v3h-3zM334 245h3v3h-3zM334 235h3v3h-3zM338 576h3v3h-3zM338 573h3v3h-3zM338 570h3v3h-3zM338 566h3v3h-3zM338 563h3v3h-3zM338 560h3v3h-3zM338 556h3v3h-3zM338 553h3v3h-3zM338 550h3v3h-3zM338 547h3v3h-3zM338 543h3v3h-3zM338 540h3v3h-3zM338 537h3v3h-3zM338 533h3v3h-3zM338 500h3v3h-3zM338 494h3v3h-3zM338 491h3v3h-3zM338 487h3v3h-3zM338 481h3v3h-3zM338 477h3v3h-3zM338 474h3v3h-3zM338 471h3v3h-3zM338 468h3v3h-3zM338 464h3v3h-3zM338 461h3v3h-3zM338 451h3v3h-3zM338 448h3v3h-3zM338 445h3v3h-3zM338 441h3v3h-3zM338 415h3v3h-3zM338 412h3v3h-3zM338 408h3v3h-3zM338 405h3v3h-3zM338 402h3v3h-3zM338 399h3v3h-3zM338 392h3v3h-3zM338 369h3v3h-3zM338 366h3v3h-3zM338 362h3v3h-3zM338 359h3v3h-3zM338 356h3v3h-3zM338 353h3v3h-3zM338 349h3v3h-3zM338 346h3v3h-3zM338 343h3v3h-3zM338 339h3v3h-3zM338 337h3v2h-3zM338 334h3v3h-3zM338 331h3v3h-3zM338 327h3v3h-3zM338 324h3v3h-3zM338 321h3v3h-3zM338 317h3v3h-3zM338 314h3v3h-3zM338 311h3v3h-3zM338 308h3v3h-3zM338 304h3v3h-3zM338 301h3v3h-3zM338 298h3v3h-3zM338 294h3v3h-3zM338 291h3v3h-3zM338 288h3v3h-3zM338 285h3v3h-3zM338 281h3v3h-3zM338 278h3v3h-3zM338 268h3v3h-3zM338 265h3v3h-3zM341 497h3v3h-3zM341 494h3v3h-3zM341 491h3v3h-3zM341 487h3v3h-3zM341 484h3v3h-3zM341 481h3v3h-3zM341 477h3v3h-3zM341 474h3v3h-3zM341 471h3v3h-3zM341 468h3v3h-3zM341 464h3v3h-3zM341 461h3v3h-3zM341 458h3v3h-3zM341 454h3v3h-3zM341 451h3v3h-3zM341 448h3v3h-3zM341 445h3v3h-3zM341 441h3v3h-3zM341 438h3v3h-3zM341 435h3v3h-3zM341 431h3v3h-3zM341 428h3v3h-3zM341 425h3v3h-3zM341 422h3v3h-3zM341 418h3v3h-3zM341 415h3v3h-3zM341 412h3v3h-3zM341 408h3v3h-3zM341 405h3v3h-3zM341 402h3v3h-3zM341 399h3v3h-3zM341 395h3v3h-3zM341 392h3v3h-3zM341 389h3v3h-3zM341 385h3v3h-3zM341 369h3v3h-3zM341 366h3v3h-3zM341 362h3v3h-3zM341 359h3v3h-3zM341 353h3v3h-3zM341 346h3v3h-3zM341 337h3v2h-3zM341 314h3v3h-3zM341 301h3v3h-3zM341 298h3v3h-3zM341 294h3v3h-3zM341 291h3v3h-3zM341 288h3v3h-3zM344 458h3v3h-3zM344 454h3v3h-3zM344 451h3v3h-3zM344 448h3v3h-3zM344 445h3v3h-3zM344 441h3v3h-3zM344 438h3v3h-3zM344 435h3v3h-3zM344 431h3v3h-3zM344 428h3v3h-3zM344 425h3v3h-3zM344 422h3v3h-3zM344 418h3v3h-3zM344 415h3v3h-3zM344 412h3v3h-3zM344 408h3v3h-3zM344 389h3v3h-3zM344 385h3v3h-3zM344 382h3v3h-3zM344 379h3v3h-3zM344 376h3v3h-3zM344 372h3v3h-3zM344 369h3v3h-3zM344 366h3v3h-3zM344 349h3v3h-3zM344 346h3v3h-3zM344 343h3v3h-3zM344 339h3v3h-3zM347 563h3v3h-3zM347 556h3v3h-3zM347 487h3v3h-3zM347 474h3v3h-3zM347 458h3v3h-3zM347 454h3v3h-3zM347 451h3v3h-3zM347 445h3v3h-3zM347 441h3v3h-3zM347 438h3v3h-3zM347 435h3v3h-3zM347 431h3v3h-3zM347 428h3v3h-3zM347 425h3v3h-3zM347 422h3v3h-3zM347 418h3v3h-3zM347 415h3v3h-3zM347 412h3v3h-3zM347 408h3v3h-3zM347 402h3v3h-3zM347 395h3v3h-3zM347 389h3v3h-3zM347 385h3v3h-3zM347 382h3v3h-3zM347 379h3v3h-3zM347 366h3v3h-3zM347 362h3v3h-3zM347 359h3v3h-3zM347 356h3v3h-3zM347 353h3v3h-3zM347 349h3v3h-3zM347 346h3v3h-3zM347 343h3v3h-3zM347 339h3v3h-3zM347 337h3v2h-3zM347 334h3v3h-3zM347 321h3v3h-3zM347 317h3v3h-3zM347 314h3v3h-3zM347 308h3v3h-3zM347 285h3v3h-3zM351 445h3v3h-3zM351 415h3v3h-3zM351 412h3v3h-3zM351 408h3v3h-3zM351 405h3v3h-3zM351 402h3v3h-3zM351 399h3v3h-3zM351 389h3v3h-3zM351 385h3v3h-3zM351 382h3v3h-3zM351 379h3v3h-3zM351 376h3v3h-3zM351 372h3v3h-3zM351 369h3v3h-3zM351 366h3v3h-3zM351 362h3v3h-3zM351 359h3v3h-3zM351 356h3v3h-3zM351 353h3v3h-3zM351 346h3v3h-3zM351 343h3v3h-3zM351 308h3v3h-3zM351 288h3v3h-3zM351 285h3v3h-3zM351 281h3v3h-3zM351 278h3v3h-3zM351 275h3v3h-3zM351 271h3v3h-3zM354 428h3v3h-3zM354 418h3v3h-3zM354 415h3v3h-3zM354 392h3v3h-3zM354 389h3v3h-3zM354 385h3v3h-3zM354 382h3v3h-3zM354 379h3v3h-3zM354 376h3v3h-3zM354 372h3v3h-3zM354 369h3v3h-3zM354 366h3v3h-3zM354 362h3v3h-3zM354 359h3v3h-3zM354 353h3v3h-3zM354 346h3v3h-3zM357 563h3v3h-3zM357 556h3v3h-3zM357 458h3v3h-3zM357 454h3v3h-3zM357 451h3v3h-3zM357 448h3v3h-3zM357 445h3v3h-3zM357 438h3v3h-3zM357 435h3v3h-3zM357 431h3v3h-3zM357 428h3v3h-3zM357 425h3v3h-3zM357 422h3v3h-3zM357 418h3v3h-3zM357 415h3v3h-3zM357 412h3v3h-3zM357 408h3v3h-3zM357 405h3v3h-3zM357 399h3v3h-3zM357 395h3v3h-3zM357 392h3v3h-3zM357 389h3v3h-3zM357 379h3v3h-3zM357 193h3v3h-3zM357 189h3v3h-3zM357 186h3v3h-3zM357 183h3v3h-3zM357 179h3v3h-3zM357 176h3v3h-3zM357 173h3v3h-3zM357 170h3v3h-3zM361 481h3v3h-3zM361 474h3v3h-3zM361 441h3v3h-3zM361 435h3v3h-3zM361 431h3v3h-3zM361 428h3v3h-3zM361 425h3v3h-3zM361 422h3v3h-3zM361 418h3v3h-3zM361 415h3v3h-3zM361 412h3v3h-3zM361 408h3v3h-3zM361 405h3v3h-3zM361 402h3v3h-3zM361 399h3v3h-3zM361 395h3v3h-3zM361 389h3v3h-3zM361 385h3v3h-3zM361 366h3v3h-3zM361 362h3v3h-3zM361 359h3v3h-3zM361 356h3v3h-3zM361 353h3v3h-3zM361 349h3v3h-3zM361 346h3v3h-3zM361 343h3v3h-3zM361 339h3v3h-3zM361 321h3v3h-3zM361 317h3v3h-3zM361 314h3v3h-3zM361 311h3v3h-3zM361 308h3v3h-3zM361 304h3v3h-3zM361 298h3v3h-3zM361 294h3v3h-3zM361 291h3v3h-3zM361 285h3v3h-3zM361 281h3v3h-3zM361 275h3v3h-3zM364 491h3v3h-3zM364 464h3v3h-3zM364 454h3v3h-3zM364 451h3v3h-3zM364 448h3v3h-3zM364 445h3v3h-3zM364 422h3v3h-3zM364 415h3v3h-3zM364 412h3v3h-3zM364 408h3v3h-3zM364 405h3v3h-3zM364 402h3v3h-3zM364 399h3v3h-3zM364 389h3v3h-3zM364 385h3v3h-3zM364 382h3v3h-3zM364 376h3v3h-3zM364 372h3v3h-3zM364 369h3v3h-3zM364 362h3v3h-3zM364 359h3v3h-3zM364 349h3v3h-3zM364 346h3v3h-3zM364 343h3v3h-3zM364 327h3v3h-3zM364 324h3v3h-3zM364 321h3v3h-3zM364 317h3v3h-3zM364 314h3v3h-3zM364 311h3v3h-3zM364 308h3v3h-3zM364 301h3v3h-3zM364 298h3v3h-3zM364 294h3v3h-3zM364 291h3v3h-3zM364 288h3v3h-3zM364 278h3v3h-3zM364 275h3v3h-3zM364 265h3v3h-3zM364 255h3v3h-3zM364 252h3v3h-3zM367 537h3v3h-3zM367 533h3v3h-3zM367 530h3v3h-3zM367 527h3v3h-3zM367 524h3v3h-3zM367 520h3v3h-3zM367 517h3v3h-3zM367 514h3v3h-3zM367 448h3v3h-3zM367 445h3v3h-3zM367 441h3v3h-3zM367 382h3v3h-3zM367 376h3v3h-3zM367 372h3v3h-3zM367 369h3v3h-3zM367 362h3v3h-3zM367 353h3v3h-3zM367 349h3v3h-3zM367 346h3v3h-3zM367 339h3v3h-3zM367 337h3v2h-3zM367 334h3v3h-3zM367 331h3v3h-3zM367 327h3v3h-3zM367 324h3v3h-3zM367 321h3v3h-3zM367 317h3v3h-3zM367 314h3v3h-3zM367 311h3v3h-3zM367 308h3v3h-3zM367 304h3v3h-3zM367 301h3v3h-3zM367 298h3v3h-3zM367 294h3v3h-3zM367 291h3v3h-3zM367 288h3v3h-3zM367 285h3v3h-3zM367 281h3v3h-3zM367 278h3v3h-3zM367 275h3v3h-3zM367 271h3v3h-3zM367 268h3v3h-3zM367 265h3v3h-3zM367 262h3v3h-3zM367 258h3v3h-3zM367 255h3v3h-3zM367 252h3v3h-3zM367 239h3v3h-3zM367 235h3v3h-3zM367 232h3v3h-3zM367 229h3v3h-3zM370 573h3v3h-3zM370 494h3v3h-3zM370 448h3v3h-3zM370 441h3v3h-3zM370 438h3v3h-3zM370 435h3v3h-3zM370 431h3v3h-3zM370 428h3v3h-3zM370 425h3v3h-3zM370 422h3v3h-3zM370 418h3v3h-3zM370 415h3v3h-3zM370 412h3v3h-3zM370 405h3v3h-3zM370 402h3v3h-3zM370 399h3v3h-3zM370 395h3v3h-3zM370 392h3v3h-3zM370 389h3v3h-3zM370 385h3v3h-3zM370 382h3v3h-3zM370 379h3v3h-3zM370 376h3v3h-3zM370 372h3v3h-3zM370 369h3v3h-3zM370 366h3v3h-3zM370 362h3v3h-3zM370 359h3v3h-3zM370 356h3v3h-3zM370 353h3v3h-3zM370 349h3v3h-3zM370 346h3v3h-3zM370 339h3v3h-3zM370 337h3v2h-3zM370 334h3v3h-3zM370 331h3v3h-3zM370 327h3v3h-3zM370 324h3v3h-3zM370 321h3v3h-3zM370 308h3v3h-3zM370 301h3v3h-3zM370 294h3v3h-3zM374 579h3v3h-3zM374 573h3v3h-3zM374 556h3v3h-3zM374 553h3v3h-3zM374 547h3v3h-3zM374 540h3v3h-3zM374 530h3v3h-3zM374 497h3v3h-3zM374 494h3v3h-3zM374 491h3v3h-3zM374 487h3v3h-3zM374 481h3v3h-3zM374 477h3v3h-3zM374 474h3v3h-3zM374 471h3v3h-3zM374 468h3v3h-3zM374 464h3v3h-3zM374 461h3v3h-3zM374 458h3v3h-3zM374 454h3v3h-3zM374 451h3v3h-3zM374 448h3v3h-3zM374 445h3v3h-3zM374 441h3v3h-3zM374 405h3v3h-3zM374 402h3v3h-3zM374 399h3v3h-3zM374 395h3v3h-3zM374 392h3v3h-3zM374 389h3v3h-3zM374 385h3v3h-3zM374 382h3v3h-3zM374 379h3v3h-3zM374 376h3v3h-3zM374 372h3v3h-3zM374 369h3v3h-3zM374 366h3v3h-3zM374 359h3v3h-3zM374 356h3v3h-3zM374 353h3v3h-3zM374 349h3v3h-3zM374 346h3v3h-3zM374 343h3v3h-3zM374 339h3v3h-3zM374 337h3v2h-3zM374 334h3v3h-3zM374 321h3v3h-3zM374 311h3v3h-3zM374 304h3v3h-3zM374 298h3v3h-3zM374 294h3v3h-3zM374 291h3v3h-3zM374 288h3v3h-3zM374 285h3v3h-3zM374 268h3v3h-3zM377 445h3v3h-3zM377 441h3v3h-3zM377 431h3v3h-3zM377 428h3v3h-3zM377 425h3v3h-3zM377 422h3v3h-3zM377 418h3v3h-3zM377 415h3v3h-3zM377 412h3v3h-3zM377 405h3v3h-3zM377 402h3v3h-3zM377 392h3v3h-3zM377 389h3v3h-3zM377 369h3v3h-3zM377 366h3v3h-3zM377 339h3v3h-3zM377 337h3v2h-3zM377 314h3v3h-3zM380 579h3v3h-3zM380 566h3v3h-3zM380 451h3v3h-3zM380 445h3v3h-3zM380 441h3v3h-3zM380 412h3v3h-3zM380 408h3v3h-3zM380 405h3v3h-3zM380 402h3v3h-3zM380 399h3v3h-3zM380 395h3v3h-3zM380 392h3v3h-3zM380 389h3v3h-3zM380 385h3v3h-3zM380 382h3v3h-3zM380 379h3v3h-3zM380 376h3v3h-3zM380 372h3v3h-3zM380 369h3v3h-3zM380 366h3v3h-3zM380 362h3v3h-3zM380 359h3v3h-3zM380 356h3v3h-3zM380 353h3v3h-3zM380 349h3v3h-3zM380 346h3v3h-3zM380 339h3v3h-3zM380 337h3v2h-3zM380 334h3v3h-3zM380 331h3v3h-3zM380 327h3v3h-3zM380 324h3v3h-3zM380 321h3v3h-3zM380 317h3v3h-3zM380 314h3v3h-3zM380 311h3v3h-3zM380 308h3v3h-3zM380 304h3v3h-3zM380 301h3v3h-3zM380 298h3v3h-3zM380 294h3v3h-3zM380 291h3v3h-3zM380 288h3v3h-3zM380 278h3v3h-3zM380 262h3v3h-3zM384 435h3v3h-3zM384 431h3v3h-3zM384 428h3v3h-3zM384 425h3v3h-3zM384 418h3v3h-3zM384 412h3v3h-3zM384 408h3v3h-3zM384 405h3v3h-3zM384 402h3v3h-3zM384 399h3v3h-3zM384 395h3v3h-3zM384 392h3v3h-3zM384 389h3v3h-3zM384 385h3v3h-3zM384 382h3v3h-3zM384 376h3v3h-3zM384 372h3v3h-3zM384 369h3v3h-3zM384 366h3v3h-3zM384 359h3v3h-3zM384 356h3v3h-3zM384 353h3v3h-3zM384 349h3v3h-3zM384 346h3v3h-3zM384 343h3v3h-3zM384 339h3v3h-3zM384 337h3v2h-3zM384 334h3v3h-3zM384 331h3v3h-3zM384 327h3v3h-3zM384 324h3v3h-3zM384 321h3v3h-3zM384 317h3v3h-3zM384 311h3v3h-3zM387 379h3v3h-3zM387 376h3v3h-3zM387 372h3v3h-3zM387 369h3v3h-3zM387 366h3v3h-3zM387 362h3v3h-3zM387 359h3v3h-3zM387 356h3v3h-3zM387 353h3v3h-3zM387 349h3v3h-3zM387 346h3v3h-3zM387 343h3v3h-3zM387 339h3v3h-3zM387 337h3v2h-3zM387 334h3v3h-3zM387 331h3v3h-3zM387 327h3v3h-3zM387 324h3v3h-3zM387 314h3v3h-3zM390 392h3v3h-3zM390 379h3v3h-3zM390 376h3v3h-3zM390 372h3v3h-3zM390 369h3v3h-3zM390 366h3v3h-3zM390 362h3v3h-3zM390 359h3v3h-3zM390 356h3v3h-3zM390 353h3v3h-3zM390 349h3v3h-3zM390 346h3v3h-3zM390 343h3v3h-3zM390 339h3v3h-3zM390 337h3v2h-3zM390 334h3v3h-3zM390 331h3v3h-3zM390 327h3v3h-3zM390 324h3v3h-3zM390 321h3v3h-3zM390 317h3v3h-3zM390 314h3v3h-3zM390 311h3v3h-3zM390 308h3v3h-3zM390 304h3v3h-3zM394 556h3v3h-3zM394 405h3v3h-3zM394 402h3v3h-3zM394 399h3v3h-3zM394 376h3v3h-3zM394 372h3v3h-3zM394 369h3v3h-3zM394 366h3v3h-3zM394 362h3v3h-3zM394 359h3v3h-3zM394 356h3v3h-3zM394 353h3v3h-3zM394 349h3v3h-3zM394 346h3v3h-3zM394 343h3v3h-3zM394 339h3v3h-3zM394 337h3v2h-3zM394 334h3v3h-3zM394 331h3v3h-3zM394 327h3v3h-3zM394 324h3v3h-3zM394 321h3v3h-3zM394 317h3v3h-3zM394 311h3v3h-3zM394 308h3v3h-3zM394 304h3v3h-3zM394 301h3v3h-3zM394 294h3v3h-3zM394 291h3v3h-3zM394 281h3v3h-3zM397 412h3v3h-3zM397 402h3v3h-3zM397 392h3v3h-3zM397 389h3v3h-3zM397 385h3v3h-3zM397 379h3v3h-3zM397 376h3v3h-3zM397 372h3v3h-3zM397 339h3v3h-3zM397 337h3v2h-3zM397 334h3v3h-3zM397 331h3v3h-3zM397 327h3v3h-3zM397 324h3v3h-3zM397 321h3v3h-3zM397 317h3v3h-3zM397 314h3v3h-3zM397 308h3v3h-3zM397 304h3v3h-3zM397 301h3v3h-3zM397 298h3v3h-3zM397 294h3v3h-3zM397 291h3v3h-3zM397 288h3v3h-3zM397 285h3v3h-3zM397 281h3v3h-3zM397 278h3v3h-3zM397 275h3v3h-3zM397 271h3v3h-3zM397 268h3v3h-3zM397 265h3v3h-3zM397 262h3v3h-3zM397 235h3v3h-3zM397 232h3v3h-3zM397 229h3v3h-3zM397 225h3v3h-3zM397 222h3v3h-3zM397 219h3v3h-3zM400 468h3v3h-3zM400 422h3v3h-3zM400 418h3v3h-3zM400 415h3v3h-3zM400 412h3v3h-3zM400 408h3v3h-3zM400 405h3v3h-3zM400 402h3v3h-3zM400 334h3v3h-3zM400 331h3v3h-3zM400 327h3v3h-3zM400 324h3v3h-3zM400 321h3v3h-3zM400 317h3v3h-3zM400 314h3v3h-3zM400 311h3v3h-3zM400 308h3v3h-3zM400 304h3v3h-3zM400 301h3v3h-3zM400 298h3v3h-3zM400 294h3v3h-3zM400 291h3v3h-3zM400 288h3v3h-3zM403 556h3v3h-3zM403 428h3v3h-3zM403 415h3v3h-3zM403 412h3v3h-3zM403 405h3v3h-3zM403 402h3v3h-3zM403 399h3v3h-3zM403 395h3v3h-3zM403 389h3v3h-3zM403 385h3v3h-3zM403 379h3v3h-3zM403 376h3v3h-3zM403 369h3v3h-3zM403 366h3v3h-3zM403 362h3v3h-3zM403 359h3v3h-3zM403 356h3v3h-3zM403 353h3v3h-3zM403 349h3v3h-3zM403 298h3v3h-3zM403 294h3v3h-3zM403 291h3v3h-3zM403 288h3v3h-3zM403 285h3v3h-3zM403 281h3v3h-3zM403 278h3v3h-3zM403 275h3v3h-3zM403 271h3v3h-3zM403 268h3v3h-3zM407 418h3v3h-3zM407 415h3v3h-3zM407 412h3v3h-3zM407 408h3v3h-3zM407 405h3v3h-3zM407 402h3v3h-3zM407 399h3v3h-3zM407 395h3v3h-3zM407 392h3v3h-3zM407 389h3v3h-3zM407 385h3v3h-3zM407 331h3v3h-3zM407 327h3v3h-3zM407 324h3v3h-3zM407 321h3v3h-3zM407 317h3v3h-3zM407 314h3v3h-3zM407 311h3v3h-3zM407 308h3v3h-3zM407 304h3v3h-3zM407 301h3v3h-3zM407 288h3v3h-3zM410 573h3v3h-3zM410 560h3v3h-3zM410 556h3v3h-3zM410 435h3v3h-3zM410 428h3v3h-3zM410 425h3v3h-3zM410 418h3v3h-3zM410 415h3v3h-3zM410 412h3v3h-3zM410 408h3v3h-3zM410 405h3v3h-3zM410 402h3v3h-3zM410 399h3v3h-3zM410 395h3v3h-3zM410 392h3v3h-3zM410 389h3v3h-3zM410 385h3v3h-3zM410 382h3v3h-3zM410 353h3v3h-3zM410 349h3v3h-3zM410 346h3v3h-3zM410 343h3v3h-3zM410 337h3v2h-3zM410 324h3v3h-3zM410 317h3v3h-3zM410 314h3v3h-3zM410 311h3v3h-3zM410 308h3v3h-3zM410 304h3v3h-3zM410 301h3v3h-3zM410 298h3v3h-3zM410 294h3v3h-3zM410 268h3v3h-3zM410 265h3v3h-3zM410 262h3v3h-3zM410 258h3v3h-3zM410 255h3v3h-3zM410 252h3v3h-3zM410 248h3v3h-3zM410 245h3v3h-3zM410 225h3v3h-3zM410 189h3v3h-3zM410 186h3v3h-3zM410 183h3v3h-3zM410 179h3v3h-3zM410 176h3v3h-3zM413 372h3v3h-3zM413 369h3v3h-3zM413 366h3v3h-3zM413 362h3v3h-3zM413 359h3v3h-3zM413 356h3v3h-3zM413 353h3v3h-3zM413 349h3v3h-3zM413 346h3v3h-3zM413 343h3v3h-3zM413 339h3v3h-3zM413 337h3v2h-3zM413 334h3v3h-3zM413 331h3v3h-3zM413 314h3v3h-3zM413 308h3v3h-3zM413 304h3v3h-3zM413 285h3v3h-3zM413 281h3v3h-3zM413 278h3v3h-3zM413 275h3v3h-3zM413 271h3v3h-3zM413 268h3v3h-3zM413 265h3v3h-3zM417 389h3v3h-3zM417 385h3v3h-3zM417 382h3v3h-3zM417 379h3v3h-3zM417 376h3v3h-3zM417 372h3v3h-3zM417 369h3v3h-3zM417 366h3v3h-3zM417 362h3v3h-3zM417 359h3v3h-3zM417 356h3v3h-3zM417 353h3v3h-3zM417 349h3v3h-3zM417 346h3v3h-3zM417 343h3v3h-3zM417 339h3v3h-3zM417 331h3v3h-3zM420 533h2v3h-2zM420 435h2v3h-2zM420 428h2v3h-2zM420 425h2v3h-2zM420 422h2v3h-2zM420 418h2v3h-2zM420 415h2v3h-2zM420 412h2v3h-2zM420 408h2v3h-2zM420 405h2v3h-2zM420 402h2v3h-2zM420 399h2v3h-2zM420 395h2v3h-2zM420 392h2v3h-2zM420 389h2v3h-2zM420 385h2v3h-2zM420 382h2v3h-2zM420 379h2v3h-2zM420 372h2v3h-2zM420 369h2v3h-2zM420 366h2v3h-2zM420 362h2v3h-2zM420 359h2v3h-2zM420 356h2v3h-2zM420 353h2v3h-2zM420 349h2v3h-2zM420 346h2v3h-2zM420 343h2v3h-2zM420 339h2v3h-2zM420 337h2v2h-2zM420 334h2v3h-2zM420 321h2v3h-2zM422 402h3v3h-3zM422 399h3v3h-3zM422 356h3v3h-3zM422 339h3v3h-3zM422 337h3v2h-3zM422 334h3v3h-3zM422 331h3v3h-3zM422 327h3v3h-3zM422 324h3v3h-3zM422 321h3v3h-3zM425 366h3v3h-3zM425 362h3v3h-3zM425 359h3v3h-3zM425 356h3v3h-3zM425 353h3v3h-3zM425 349h3v3h-3zM425 346h3v3h-3zM425 343h3v3h-3zM425 339h3v3h-3zM425 337h3v2h-3zM425 331h3v3h-3zM429 385h3v3h-3zM429 382h3v3h-3zM429 372h3v3h-3zM429 369h3v3h-3zM429 366h3v3h-3zM429 362h3v3h-3zM429 359h3v3h-3zM429 353h3v3h-3zM429 349h3v3h-3zM429 346h3v3h-3zM429 343h3v3h-3zM429 327h3v3h-3zM429 324h3v3h-3zM429 321h3v3h-3zM429 317h3v3h-3zM429 314h3v3h-3zM429 311h3v3h-3zM429 308h3v3h-3zM429 304h3v3h-3zM429 301h3v3h-3zM429 298h3v3h-3zM429 294h3v3h-3zM432 366h3v3h-3zM432 362h3v3h-3zM432 359h3v3h-3zM432 349h3v3h-3zM432 346h3v3h-3zM432 343h3v3h-3zM432 339h3v3h-3zM432 334h3v3h-3zM432 331h3v3h-3zM432 327h3v3h-3zM432 324h3v3h-3zM432 321h3v3h-3zM435 376h3v3h-3zM435 366h3v3h-3zM435 362h3v3h-3zM435 359h3v3h-3zM435 356h3v3h-3zM435 353h3v3h-3zM435 349h3v3h-3zM435 339h3v3h-3zM435 327h3v3h-3zM442 392h3v3h-3zM442 389h3v3h-3zM442 379h3v3h-3zM442 376h3v3h-3zM442 366h3v3h-3zM442 362h3v3h-3zM442 356h3v3h-3zM442 353h3v3h-3zM442 349h3v3h-3zM442 346h3v3h-3zM442 343h3v3h-3zM442 339h3v3h-3zM442 337h3v2h-3zM442 334h3v3h-3zM442 331h3v3h-3zM442 327h3v3h-3zM442 324h3v3h-3zM442 321h3v3h-3zM442 317h3v3h-3zM442 311h3v3h-3zM442 298h3v3h-3zM445 359h3v3h-3zM445 356h3v3h-3zM445 353h3v3h-3zM445 349h3v3h-3zM445 346h3v3h-3zM445 343h3v3h-3zM445 339h3v3h-3zM445 337h3v2h-3zM445 334h3v3h-3zM445 331h3v3h-3zM445 327h3v3h-3zM445 324h3v3h-3zM445 321h3v3h-3zM445 314h3v3h-3zM445 311h3v3h-3zM445 308h3v3h-3zM445 304h3v3h-3zM445 301h3v3h-3zM445 298h3v3h-3zM445 294h3v3h-3zM445 291h3v3h-3zM445 288h3v3h-3zM445 281h3v3h-3zM445 278h3v3h-3zM445 275h3v3h-3zM445 271h3v3h-3zM445 268h3v3h-3zM445 265h3v3h-3zM452 573h3v3h-3zM452 556h3v3h-3zM452 494h3v3h-3zM452 477h3v3h-3zM452 415h3v3h-3zM452 412h3v3h-3zM452 399h3v3h-3zM452 395h3v3h-3zM452 392h3v3h-3zM452 389h3v3h-3zM452 385h3v3h-3zM452 382h3v3h-3zM452 379h3v3h-3zM452 376h3v3h-3zM452 372h3v3h-3zM452 369h3v3h-3zM452 366h3v3h-3zM452 362h3v3h-3zM452 359h3v3h-3zM452 356h3v3h-3zM452 349h3v3h-3zM452 346h3v3h-3zM452 343h3v3h-3zM452 337h3v2h-3zM452 334h3v3h-3zM452 331h3v3h-3zM452 327h3v3h-3zM452 324h3v3h-3zM452 321h3v3h-3zM452 317h3v3h-3zM452 314h3v3h-3zM452 311h3v3h-3zM452 308h3v3h-3zM452 304h3v3h-3zM452 301h3v3h-3zM452 298h3v3h-3zM452 294h3v3h-3zM452 291h3v3h-3zM452 288h3v3h-3zM452 285h3v3h-3zM452 281h3v3h-3zM452 278h3v3h-3zM452 275h3v3h-3zM452 271h3v3h-3zM452 268h3v3h-3zM452 248h3v3h-3zM452 242h3v3h-3zM452 239h3v3h-3zM452 235h3v3h-3zM452 232h3v3h-3zM452 229h3v3h-3zM452 225h3v3h-3zM452 222h3v3h-3zM452 216h3v3h-3zM452 209h3v3h-3zM452 206h3v3h-3zM458 441h3v3h-3zM458 438h3v3h-3zM458 435h3v3h-3zM458 431h3v3h-3zM458 428h3v3h-3zM458 425h3v3h-3zM458 422h3v3h-3zM458 418h3v3h-3zM458 415h3v3h-3zM458 412h3v3h-3zM458 408h3v3h-3zM458 405h3v3h-3zM458 402h3v3h-3zM458 399h3v3h-3zM458 395h3v3h-3zM458 392h3v3h-3zM458 389h3v3h-3zM458 385h3v3h-3zM458 382h3v3h-3zM458 379h3v3h-3zM458 376h3v3h-3zM458 372h3v3h-3zM458 369h3v3h-3zM458 359h3v3h-3zM458 356h3v3h-3zM458 353h3v3h-3zM458 346h3v3h-3zM458 343h3v3h-3zM458 324h3v3h-3zM458 304h3v3h-3zM458 298h3v3h-3zM458 294h3v3h-3zM458 291h3v3h-3zM458 288h3v3h-3zM458 285h3v3h-3zM458 281h3v3h-3zM458 278h3v3h-3zM458 275h3v3h-3zM465 428h3v3h-3zM465 395h3v3h-3zM465 356h3v3h-3zM465 321h3v3h-3zM465 314h3v3h-3zM472 353h3v3h-3zM472 346h3v3h-3zM472 343h3v3h-3zM472 311h3v3h-3zM475 385h3v3h-3zM475 369h3v3h-3zM475 366h3v3h-3zM475 362h3v3h-3zM475 359h3v3h-3zM475 353h3v3h-3zM475 346h3v3h-3zM475 343h3v3h-3zM475 339h3v3h-3zM475 337h3v2h-3zM475 334h3v3h-3zM475 331h3v3h-3zM475 327h3v3h-3zM475 324h3v3h-3zM475 321h3v3h-3zM475 298h3v3h-3zM481 402h3v3h-3zM481 395h3v3h-3zM481 372h3v3h-3zM481 369h3v3h-3zM481 366h3v3h-3zM481 362h3v3h-3zM481 359h3v3h-3zM481 356h3v3h-3zM481 353h3v3h-3zM481 349h3v3h-3zM481 346h3v3h-3zM481 343h3v3h-3zM481 339h3v3h-3zM481 337h3v2h-3zM481 334h3v3h-3zM481 331h3v3h-3zM481 327h3v3h-3zM481 324h3v3h-3zM481 321h3v3h-3zM481 317h3v3h-3zM481 314h3v3h-3zM481 311h3v3h-3zM481 308h3v3h-3zM481 304h3v3h-3zM481 301h3v3h-3zM481 298h3v3h-3zM481 294h3v3h-3zM481 291h3v3h-3zM481 288h3v3h-3zM481 285h3v3h-3zM481 281h3v3h-3zM485 392h3v3h-3zM488 314h3v3h-3zM491 392h3v3h-3zM491 389h3v3h-3zM491 382h3v3h-3zM491 379h3v3h-3zM491 376h3v3h-3zM491 366h3v3h-3zM491 362h3v3h-3zM491 359h3v3h-3zM491 346h3v3h-3zM491 343h3v3h-3zM491 339h3v3h-3zM495 379h3v3h-3zM495 376h3v3h-3zM498 376h3v3h-3zM504 392h3v3h-3zM504 389h3v3h-3zM574 353h3v3h-3zM574 291h3v3h-3zM574 245h3v3h-3zM574 239h3v3h-3zM574 202h3v3h-3zM613 288h3v3h-3zM630 324h3v3h-3zM630 304h3v3h-3zM630 235h3v3h-3zM633 431h3v3h-3zM633 415h3v3h-3zM633 402h3v3h-3zM633 399h3v3h-3zM633 395h3v3h-3zM633 392h3v3h-3zM633 389h3v3h-3zM633 385h3v3h-3zM633 382h3v3h-3zM633 379h3v3h-3zM633 376h3v3h-3zM633 372h3v3h-3zM633 369h3v3h-3zM633 366h3v3h-3zM633 362h3v3h-3zM633 359h3v3h-3zM633 356h3v3h-3zM633 353h3v3h-3zM633 349h3v3h-3zM633 346h3v3h-3zM633 343h3v3h-3zM633 339h3v3h-3zM633 324h3v3h-3zM633 321h3v3h-3zM633 314h3v3h-3zM633 311h3v3h-3zM633 308h3v3h-3zM633 304h3v3h-3zM633 301h3v3h-3zM633 298h3v3h-3zM633 294h3v3h-3zM633 291h3v3h-3zM633 288h3v3h-3zM633 285h3v3h-3zM633 281h3v3h-3zM633 278h3v3h-3zM633 275h3v3h-3zM633 271h3v3h-3zM633 268h3v3h-3zM633 265h3v3h-3zM633 262h3v3h-3zM633 258h3v3h-3zM646 301h3v3h-3zM649 579h3v3h-3zM649 431h3v3h-3zM649 314h3v3h-3zM649 311h3v3h-3zM649 308h3v3h-3zM649 304h3v3h-3zM649 301h3v3h-3zM649 298h3v3h-3zM649 294h3v3h-3zM649 291h3v3h-3zM649 288h3v3h-3zM649 285h3v3h-3zM649 281h3v3h-3zM649 278h3v3h-3zM649 275h3v3h-3zM649 271h3v3h-3zM649 268h3v3h-3zM649 265h3v3h-3zM649 262h3v3h-3zM649 242h3v3h-3zM649 239h3v3h-3zM649 235h3v3h-3zM649 232h3v3h-3zM649 229h3v3h-3zM649 212h3v3h-3zM649 209h3v3h-3zM649 206h3v3h-3zM649 202h3v3h-3zM649 199h3v3h-3zM653 566h3v3h-3zM653 550h3v3h-3zM653 547h3v3h-3zM653 533h3v3h-3zM653 497h3v3h-3zM653 339h3v3h-3zM653 304h3v3h-3zM653 301h3v3h-3zM653 298h3v3h-3zM653 288h3v3h-3zM653 285h3v3h-3zM653 281h3v3h-3zM653 278h3v3h-3zM653 275h3v3h-3zM653 271h3v3h-3zM653 265h3v3h-3zM653 258h3v3h-3zM653 255h3v3h-3zM653 225h3v3h-3zM689 291h3v3h-3zM689 285h3v3h-3zM689 281h3v3h-3zM689 278h3v3h-3zM689 275h3v3h-3zM689 271h3v3h-3zM689 268h3v3h-3zM689 262h3v3h-3zM689 255h3v3h-3zM715 294h3v3h-3z"/>
<path fill="#0000ff" d="M94 579h3v3h-3zM94 573h3v3h-3zM97 579h3v3h-3zM97 573h3v3h-3zM101 579h3v3h-3zM101 576h3v3h-3zM101 570h3v3h-3zM101 566h3v3h-3zM101 563h3v3h-3zM101 560h3v3h-3zM101 556h3v3h-3zM101 553h3v3h-3zM101 550h3v3h-3zM101 547h3v3h-3zM101 543h3v3h-3zM101 497h3v3h-3zM104 573h3v3h-3zM107 573h3v3h-3zM107 570h3v3h-3zM107 563h3v3h-3zM107 560h3v3h-3zM107 556h3v3h-3zM107 553h3v3h-3zM107 550h3v3h-3zM107 547h3v3h-3zM107 543h3v3h-3zM110 566h3v3h-3zM110 563h3v3h-3zM110 560h3v3h-3zM110 556h3v3h-3zM110 422h3v3h-3zM114 579h3v3h-3zM114 570h3v3h-3zM114 563h3v3h-3zM114 560h3v3h-3zM114 556h3v3h-3zM114 553h3v3h-3zM114 550h3v3h-3zM114 547h3v3h-3zM117 560h3v3h-3zM117 556h3v3h-3zM117 553h3v3h-3zM117 550h3v3h-3zM120 573h3v3h-3zM120 570h3v3h-3zM120 566h3v3h-3zM120 563h3v3h-3zM120 560h3v3h-3zM120 553h3v3h-3zM120 550h3v3h-3zM120 547h3v3h-3zM120 543h3v3h-3zM120 540h3v3h-3zM120 497h3v3h-3zM120 494h3v3h-3zM120 481h3v3h-3zM120 438h3v3h-3zM124 560h3v3h-3zM124 556h3v3h-3zM124 553h3v3h-3zM124 550h3v3h-3zM124 547h3v3h-3zM124 543h3v3h-3zM127 566h3v3h-3zM127 560h3v3h-3zM127 556h3v3h-3zM127 553h3v3h-3zM127 550h3v3h-3zM127 547h3v3h-3zM127 543h3v3h-3zM127 540h3v3h-3zM127 537h3v3h-3zM127 533h3v3h-3zM130 556h3v3h-3zM130 550h3v3h-3zM130 547h3v3h-3zM130 543h3v3h-3zM130 540h3v3h-3zM133 556h3v3h-3zM133 550h3v3h-3zM133 547h3v3h-3zM133 543h3v3h-3zM133 540h3v3h-3zM133 537h3v3h-3zM137 547h3v3h-3zM137 543h3v3h-3zM137 540h3v3h-3zM137 533h3v3h-3zM140 573h3v3h-3zM140 566h3v3h-3zM140 563h3v3h-3zM140 560h3v3h-3zM140 556h3v3h-3zM140 553h3v3h-3zM140 550h3v3h-3zM140 537h3v3h-3zM140 533h3v3h-3zM140 530h3v3h-3zM140 527h3v3h-3zM140 524h3v3h-3zM140 497h3v3h-3zM140 494h3v3h-3zM140 491h3v3h-3zM140 481h3v3h-3zM140 477h3v3h-3zM140 474h3v3h-3zM140 471h3v3h-3zM140 468h3v3h-3zM140 461h3v3h-3zM140 454h3v3h-3zM140 451h3v3h-3zM140 435h3v3h-3zM140 431h3v3h-3zM140 428h3v3h-3zM140 425h3v3h-3zM140 418h3v3h-3zM143 547h3v3h-3zM143 543h3v3h-3zM143 540h3v3h-3zM143 537h3v3h-3zM143 533h3v3h-3zM143 530h3v3h-3zM143 527h3v3h-3zM147 543h3v3h-3zM147 540h3v3h-3zM147 537h3v3h-3zM150 540h3v3h-3zM150 537h3v3h-3zM150 533h3v3h-3zM150 530h3v3h-3zM150 527h3v3h-3zM157 533h3v3h-3zM160 520h3v3h-3zM166 533h3v3h-3zM166 530h3v3h-3zM166 527h3v3h-3zM166 524h3v3h-3zM166 520h3v3h-3zM176 524h3v3h-3zM176 520h3v3h-3zM176 517h3v3h-3zM176 514h3v3h-3zM176 510h3v3h-3zM176 500h3v3h-3zM180 520h3v3h-3zM180 514h3v3h-3zM183 504h3v3h-3zM183 481h3v3h-3zM193 504h3v3h-3zM216 504h3v3h-3zM216 500h3v3h-3zM216 497h3v3h-3zM259 573h3v3h-3zM259 566h3v3h-3zM259 497h3v3h-3zM259 494h3v3h-3zM259 491h3v3h-3zM259 487h3v3h-3zM259 481h3v3h-3zM259 477h3v3h-3zM259 474h3v3h-3zM259 464h3v3h-3zM259 461h3v3h-3zM259 454h3v3h-3zM259 451h3v3h-3zM259 435h3v3h-3zM259 431h3v3h-3zM259 428h3v3h-3zM259 425h3v3h-3zM259 422h3v3h-3zM259 418h3v3h-3zM259 366h3v3h-3zM262 491h3v3h-3zM262 487h3v3h-3zM262 484h3v3h-3zM262 481h3v3h-3zM262 477h3v3h-3zM262 474h3v3h-3zM262 471h3v3h-3zM265 471h3v3h-3zM268 500h3v3h-3zM268 497h3v3h-3zM268 494h3v3h-3zM268 491h3v3h-3zM268 487h3v3h-3zM268 468h3v3h-3zM268 464h3v3h-3zM268 461h3v3h-3zM268 458h3v3h-3zM268 454h3v3h-3zM272 497h3v3h-3zM272 494h3v3h-3zM272 491h3v3h-3zM272 487h3v3h-3zM272 484h3v3h-3zM272 481h3v3h-3zM272 477h3v3h-3zM272 474h3v3h-3zM272 471h3v3h-3zM272 468h3v3h-3zM272 464h3v3h-3zM272 461h3v3h-3zM272 458h3v3h-3zM272 454h3v3h-3zM272 451h3v3h-3zM272 448h3v3h-3zM272 445h3v3h-3zM272 441h3v3h-3zM272 431h3v3h-3zM272 428h3v3h-3zM272 425h3v3h-3zM275 471h3v3h-3zM278 573h3v3h-3zM278 566h3v3h-3zM278 556h3v3h-3zM278 547h3v3h-3zM278 500h3v3h-3zM278 497h3v3h-3zM278 494h3v3h-3zM278 491h3v3h-3zM278 487h3v3h-3zM278 484h3v3h-3zM278 481h3v3h-3zM278 477h3v3h-3zM278 474h3v3h-3zM278 471h3v3h-3zM278 468h3v3h-3zM278 464h3v3h-3zM278 461h3v3h-3zM278 458h3v3h-3zM278 451h3v3h-3zM278 441h3v3h-3zM278 438h3v3h-3zM278 435h3v3h-3zM278 431h3v3h-3zM278 425h3v3h-3zM282 573h3v3h-3zM282 497h3v3h-3zM282 494h3v3h-3zM282 491h3v3h-3zM282 487h3v3h-3zM282 484h3v3h-3zM282 481h3v3h-3zM282 477h3v3h-3zM282 474h3v3h-3zM282 471h3v3h-3zM282 468h3v3h-3zM282 464h3v3h-3zM282 458h3v3h-3zM282 454h3v3h-3zM282 451h3v3h-3zM282 435h3v3h-3zM282 431h3v3h-3zM282 428h3v3h-3zM282 425h3v3h-3zM295 481h3v3h-3zM295 477h3v3h-3zM295 474h3v3h-3zM295 471h3v3h-3zM298 471h3v3h-3zM301 454h3v3h-3zM308 491h3v3h-3zM308 487h3v3h-3zM308 484h3v3h-3zM308 477h3v3h-3zM308 474h3v3h-3zM308 471h3v3h-3zM308 468h3v3h-3zM308 464h3v3h-3zM308 461h3v3h-3zM308 458h3v3h-3zM308 454h3v3h-3zM308 448h3v3h-3zM308 441h3v3h-3zM308 438h3v3h-3zM308 428h3v3h-3zM308 425h3v3h-3zM308 422h3v3h-3zM315 468h3v3h-3zM315 454h3v3h-3zM315 431h3v3h-3zM318 438h3v3h-3zM318 435h3v3h-3zM318 431h3v3h-3zM318 412h3v3h-3zM318 408h3v3h-3zM318 405h3v3h-3zM318 402h3v3h-3zM318 399h3v3h-3zM318 395h3v3h-3zM318 392h3v3h-3zM318 389h3v3h-3zM318 385h3v3h-3zM318 382h3v3h-3zM321 464h3v3h-3zM321 461h3v3h-3zM328 477h3v3h-3zM328 431h3v3h-3zM328 428h3v3h-3zM328 425h3v3h-3zM331 477h3v3h-3zM331 474h3v3h-3zM331 461h3v3h-3zM331 458h3v3h-3zM331 454h3v3h-3zM331 431h3v3h-3zM331 428h3v3h-3zM331 425h3v3h-3zM334 431h3v3h-3zM334 428h3v3h-3zM334 425h3v3h-3zM334 422h3v3h-3zM334 418h3v3h-3zM334 415h3v3h-3zM334 412h3v3h-3zM334 389h3v3h-3zM334 385h3v3h-3zM334 382h3v3h-3zM338 497h3v3h-3zM338 458h3v3h-3zM338 454h3v3h-3zM338 438h3v3h-3zM338 435h3v3h-3zM338 431h3v3h-3zM338 428h3v3h-3zM338 425h3v3h-3zM338 422h3v3h-3zM338 418h3v3h-3zM338 395h3v3h-3zM338 389h3v3h-3zM338 385h3v3h-3zM338 382h3v3h-3zM338 379h3v3h-3zM338 376h3v3h-3zM338 372h3v3h-3zM341 382h3v3h-3zM341 379h3v3h-3zM341 376h3v3h-3zM341 372h3v3h-3zM347 376h3v3h-3zM347 372h3v3h-3zM347 369h3v3h-3zM357 402h3v3h-3zM357 385h3v3h-3zM357 382h3v3h-3zM357 376h3v3h-3zM357 372h3v3h-3zM357 369h3v3h-3zM357 366h3v3h-3zM357 362h3v3h-3zM357 359h3v3h-3zM357 356h3v3h-3zM357 353h3v3h-3zM357 349h3v3h-3zM357 346h3v3h-3zM357 343h3v3h-3zM357 339h3v3h-3zM357 337h3v2h-3zM357 334h3v3h-3zM357 331h3v3h-3zM357 327h3v3h-3zM357 324h3v3h-3zM357 321h3v3h-3zM357 317h3v3h-3zM357 314h3v3h-3zM357 311h3v3h-3zM357 308h3v3h-3zM357 304h3v3h-3zM357 278h3v3h-3zM357 275h3v3h-3zM357 271h3v3h-3zM357 268h3v3h-3zM357 265h3v3h-3zM357 262h3v3h-3zM357 258h3v3h-3zM357 255h3v3h-3zM357 252h3v3h-3zM357 248h3v3h-3zM357 245h3v3h-3zM357 242h3v3h-3zM357 239h3v3h-3zM357 235h3v3h-3zM357 232h3v3h-3zM357 229h3v3h-3zM357 225h3v3h-3zM357 222h3v3h-3zM357 219h3v3h-3zM357 216h3v3h-3zM357 212h3v3h-3zM357 209h3v3h-3zM357 206h3v3h-3zM357 202h3v3h-3zM357 199h3v3h-3zM357 196h3v3h-3zM361 382h3v3h-3zM361 379h3v3h-3zM361 376h3v3h-3zM361 372h3v3h-3zM361 369h3v3h-3zM364 441h3v3h-3zM364 438h3v3h-3zM364 435h3v3h-3zM364 431h3v3h-3zM364 428h3v3h-3zM364 425h3v3h-3zM364 418h3v3h-3zM367 579h3v3h-3zM367 576h3v3h-3zM367 570h3v3h-3zM367 566h3v3h-3zM367 563h3v3h-3zM367 560h3v3h-3zM367 556h3v3h-3zM367 553h3v3h-3zM367 550h3v3h-3zM367 547h3v3h-3zM367 543h3v3h-3zM367 540h3v3h-3zM367 500h3v3h-3zM367 497h3v3h-3zM367 494h3v3h-3zM367 491h3v3h-3zM367 487h3v3h-3zM367 484h3v3h-3zM367 481h3v3h-3zM367 477h3v3h-3zM367 474h3v3h-3zM367 471h3v3h-3zM367 468h3v3h-3zM367 464h3v3h-3zM367 461h3v3h-3zM367 458h3v3h-3zM367 454h3v3h-3zM367 451h3v3h-3zM367 438h3v3h-3zM367 435h3v3h-3zM367 431h3v3h-3zM367 428h3v3h-3zM367 425h3v3h-3zM367 422h3v3h-3zM367 418h3v3h-3zM367 415h3v3h-3zM367 412h3v3h-3zM367 408h3v3h-3zM367 405h3v3h-3zM367 402h3v3h-3zM367 399h3v3h-3zM367 395h3v3h-3zM367 392h3v3h-3zM367 389h3v3h-3zM367 385h3v3h-3zM367 379h3v3h-3zM367 366h3v3h-3zM367 359h3v3h-3zM367 356h3v3h-3zM367 343h3v3h-3zM374 438h3v3h-3zM374 435h3v3h-3zM374 431h3v3h-3zM374 428h3v3h-3zM374 425h3v3h-3zM374 422h3v3h-3zM374 418h3v3h-3zM374 415h3v3h-3zM374 412h3v3h-3zM374 408h3v3h-3zM377 438h3v3h-3zM377 435h3v3h-3zM380 438h3v3h-3zM380 435h3v3h-3zM380 431h3v3h-3zM380 428h3v3h-3zM380 425h3v3h-3zM380 422h3v3h-3zM380 418h3v3h-3zM380 415h3v3h-3zM384 379h3v3h-3zM384 362h3v3h-3zM394 395h3v3h-3zM394 392h3v3h-3zM394 389h3v3h-3zM394 385h3v3h-3zM394 382h3v3h-3zM394 379h3v3h-3zM394 298h3v3h-3zM397 382h3v3h-3zM397 369h3v3h-3zM397 366h3v3h-3zM397 362h3v3h-3zM397 359h3v3h-3zM397 356h3v3h-3zM397 353h3v3h-3zM397 349h3v3h-3zM397 346h3v3h-3zM397 343h3v3h-3zM400 399h3v3h-3zM400 395h3v3h-3zM400 392h3v3h-3zM400 389h3v3h-3zM400 385h3v3h-3zM400 382h3v3h-3zM400 379h3v3h-3zM400 376h3v3h-3zM400 372h3v3h-3zM400 369h3v3h-3zM400 366h3v3h-3zM400 362h3v3h-3zM400 359h3v3h-3zM400 356h3v3h-3zM400 353h3v3h-3zM400 349h3v3h-3zM400 346h3v3h-3zM400 343h3v3h-3zM400 339h3v3h-3zM400 337h3v2h-3zM403 372h3v3h-3zM403 346h3v3h-3zM403 343h3v3h-3zM403 339h3v3h-3zM403 337h3v2h-3zM403 334h3v3h-3zM403 331h3v3h-3zM403 327h3v3h-3zM403 324h3v3h-3zM403 321h3v3h-3zM403 317h3v3h-3zM403 314h3v3h-3zM403 311h3v3h-3zM403 308h3v3h-3zM403 304h3v3h-3zM403 301h3v3h-3zM407 382h3v3h-3zM407 379h3v3h-3zM407 376h3v3h-3zM407 372h3v3h-3zM407 369h3v3h-3zM407 366h3v3h-3zM407 362h3v3h-3zM407 359h3v3h-3zM407 356h3v3h-3zM407 353h3v3h-3zM407 349h3v3h-3zM407 346h3v3h-3zM407 343h3v3h-3zM407 339h3v3h-3zM407 337h3v2h-3zM407 334h3v3h-3zM410 379h3v3h-3zM410 376h3v3h-3zM410 372h3v3h-3zM410 369h3v3h-3zM410 366h3v3h-3zM410 362h3v3h-3zM410 359h3v3h-3zM410 356h3v3h-3zM410 339h3v3h-3zM410 334h3v3h-3zM410 331h3v3h-3zM410 327h3v3h-3zM410 321h3v3h-3zM410 291h3v3h-3zM410 288h3v3h-3zM410 285h3v3h-3zM410 281h3v3h-3zM410 278h3v3h-3zM410 275h3v3h-3zM410 271h3v3h-3zM422 395h3v3h-3zM422 385h3v3h-3zM422 382h3v3h-3zM422 379h3v3h-3zM422 376h3v3h-3zM422 372h3v3h-3zM422 369h3v3h-3zM422 366h3v3h-3zM422 362h3v3h-3zM422 359h3v3h-3zM422 353h3v3h-3zM422 349h3v3h-3zM422 346h3v3h-3zM422 343h3v3h-3zM442 395h3v3h-3zM442 359h3v3h-3zM445 317h3v3h-3zM452 408h3v3h-3zM452 405h3v3h-3zM452 402h3v3h-3zM452 339h3v3h-3zM452 219h3v3h-3zM452 212h3v3h-3zM458 366h3v3h-3zM458 362h3v3h-3zM458 349h3v3h-3zM458 339h3v3h-3zM458 337h3v2h-3zM458 334h3v3h-3zM458 331h3v3h-3zM458 327h3v3h-3zM458 321h3v3h-3zM458 317h3v3h-3zM458 314h3v3h-3zM458 311h3v3h-3zM458 308h3v3h-3zM458 301h3v3h-3zM475 356h3v3h-3zM475 349h3v3h-3zM481 392h3v3h-3zM481 389h3v3h-3zM481 385h3v3h-3zM481 382h3v3h-3zM481 379h3v3h-3zM481 376h3v3h-3zM649 258h3v3h-3zM649 255h3v3h-3zM649 252h3v3h-3zM649 248h3v3h-3zM649 245h3v3h-3zM689 288h3v3h-3z"/>
<path fill="#009a00" d="M101 573h3v3h-3zM107 566h3v3h-3zM114 566h3v3h-3zM120 556h3v3h-3zM140 547h3v3h-3zM140 543h3v3h-3zM140 540h3v3h-3zM357 301h3v3h-3zM357 298h3v3h-3zM357 294h3v3h-3zM357 291h3v3h-3zM357 288h3v3h-3zM357 285h3v3h-3zM357 281h3v3h-3zM367 573h3v3h-3z"/>

<rect x="768" y="91" width="31" height="124" fill="#009a00"/>
<rect x="768" y="215" width="31" height="123" fill="#0000ff"/>
<rect x="768" y="338" width="31" height="123" fill="#80c0ff"/>
<rect x="768" y="461" width="31" height="121" fill="#e0e0e0"/>
<path d="M767 213.5h7M799 213.5h-6M767 336.5h7M799 336.5h-6M767 459.5h7M799 459.5h-6" stroke="#000" fill="none"/>
<rect x="767.5" y="90.5" width="32" height="492" fill="none" stroke="#000"/>
<path d="M92 582.5h11M752 582.5h-11M92 528.5h11M752 528.5h-11M92 473.5h11M752 473.5h-11M92 419.5h11M752 419.5h-11M92 364.5h11M752 364.5h-11M92 309.5h11M752 309.5h-11M92 254.5h11M752 254.5h-11M92 200.5h11M752 200.5h-11M92 145.5h11M752 145.5h-11M92 90.5h11M752 90.5h-11M93.5 583v-7M93.5 90v7M257.5 583v-7M257.5 90v7M422.5 583v-7M422.5 90v7M586.5 583v-7M586.5 90v7M751.5 583v-7M751.5 90v7" stroke="#000" fill="none"/>
<rect x="93.5" y="90.5" width="658" height="492" fill="none" stroke="#000"/>
<rect x="92" y="576" width="2" height="8" fill="#000"/>
<rect x="92" y="582" width="11" height="2" fill="#000"/>
<rect x="92" y="90" width="2" height="8" fill="#000"/>
<rect x="741" y="582" width="11" height="2" fill="#000"/>
</g>
<polyline points="93.5,582.5 99.5,580.5 106.5,578.5 112.5,576.5 118.5,573.5 124.5,571.5 131.5,569.5 137.5,567.5 143.5,565.5 149.5,563.5 156.5,561.5 162.5,558.5 168.5,556.5 174.5,554.5 181.5,552.5 187.5,550.5 193.5,548.5 200.5,546.5 206.5,543.5 212.5,541.5 218.5,539.5 225.5,537.5 231.5,535.5 237.5,533.5 243.5,531.5 250.5,528.5 256.5,526.5 262.5,524.5 268.5,522.5 275.5,520.5 281.5,518.5 287.5,516.5 294.5,514.5 300.5,511.5 306.5,509.5 312.5,507.5 319.5,505.5 325.5,503.5 331.5,501.5 337.5,499.5 344.5,496.5 350.5,494.5 356.5,492.5 363.5,490.5 369.5,488.5 375.5,486.5 381.5,484.5 388.5,481.5 394.5,479.5 400.5,477.5 406.5,475.5 413.5,473.5 419.5,471.5 425.5,469.5 431.5,466.5 438.5,464.5 444.5,462.5 450.5,460.5 457.5,458.5 463.5,456.5 469.5,454.5 475.5,451.5 482.5,449.5 488.5,447.5 494.5,445.5 500.5,443.5 507.5,441.5 513.5,439.5 519.5,436.5 525.5,434.5 532.5,432.5 538.5,430.5 544.5,428.5 551.5,426.5 557.5,424.5 563.5,421.5 569.5,419.5 576.5,417.5 582.5,415.5 588.5,413.5 594.5,411.5 601.5,409.5 607.5,406.5 613.5,404.5 619.5,402.5 626.5,400.5 632.5,398.5 638.5,396.5 645.5,394.5 651.5,392.5 657.5,389.5 663.5,387.5 670.5,385.5 676.5,383.5 682.5,381.5 688.5,379.5 695.5,377.5 701.5,374.5 707.5,372.5 713.5,370.5 720.5,368.5" fill="none" stroke="#2e8b57" stroke-width="1" shape-rendering="crispEdges"/>
<text x="421.500" y="76" text-anchor="middle">RTT density versus geographical distance</text>
<text x="421.500" y="622" text-anchor="middle">Distance (km)</text>
<text transform="translate(60.4,338) rotate(-90)" text-anchor="middle">RTT (ms)</text>
<g class="n">
<text x="82.5" y="587" text-anchor="end">0</text><text x="82.5" y="532" text-anchor="end">50</text><text x="82.5" y="478" text-anchor="end">100</text><text x="82.5" y="423" text-anchor="end">150</text><text x="82.5" y="368" text-anchor="end">200</text><text x="82.5" y="314" text-anchor="end">250</text><text x="82.5" y="259" text-anchor="end">300</text><text x="82.5" y="204" text-anchor="end">350</text><text x="82.5" y="150" text-anchor="end">400</text><text x="82.5" y="95" text-anchor="end">450</text>
<text x="95.5" y="603" text-anchor="middle">0</text><text x="260.5" y="603" text-anchor="middle">5000</text><text x="424" y="603" text-anchor="middle">10000</text><text x="588" y="603" text-anchor="middle">15000</text><text x="753" y="603" text-anchor="middle">20000</text>
<text x="811" y="95">4096</text>
<text x="811" y="218">512</text>
<text x="811" y="341">64</text>
<text x="811" y="464">8</text>
<text x="811" y="587">1</text>
</g>
</svg>
</body></html>
